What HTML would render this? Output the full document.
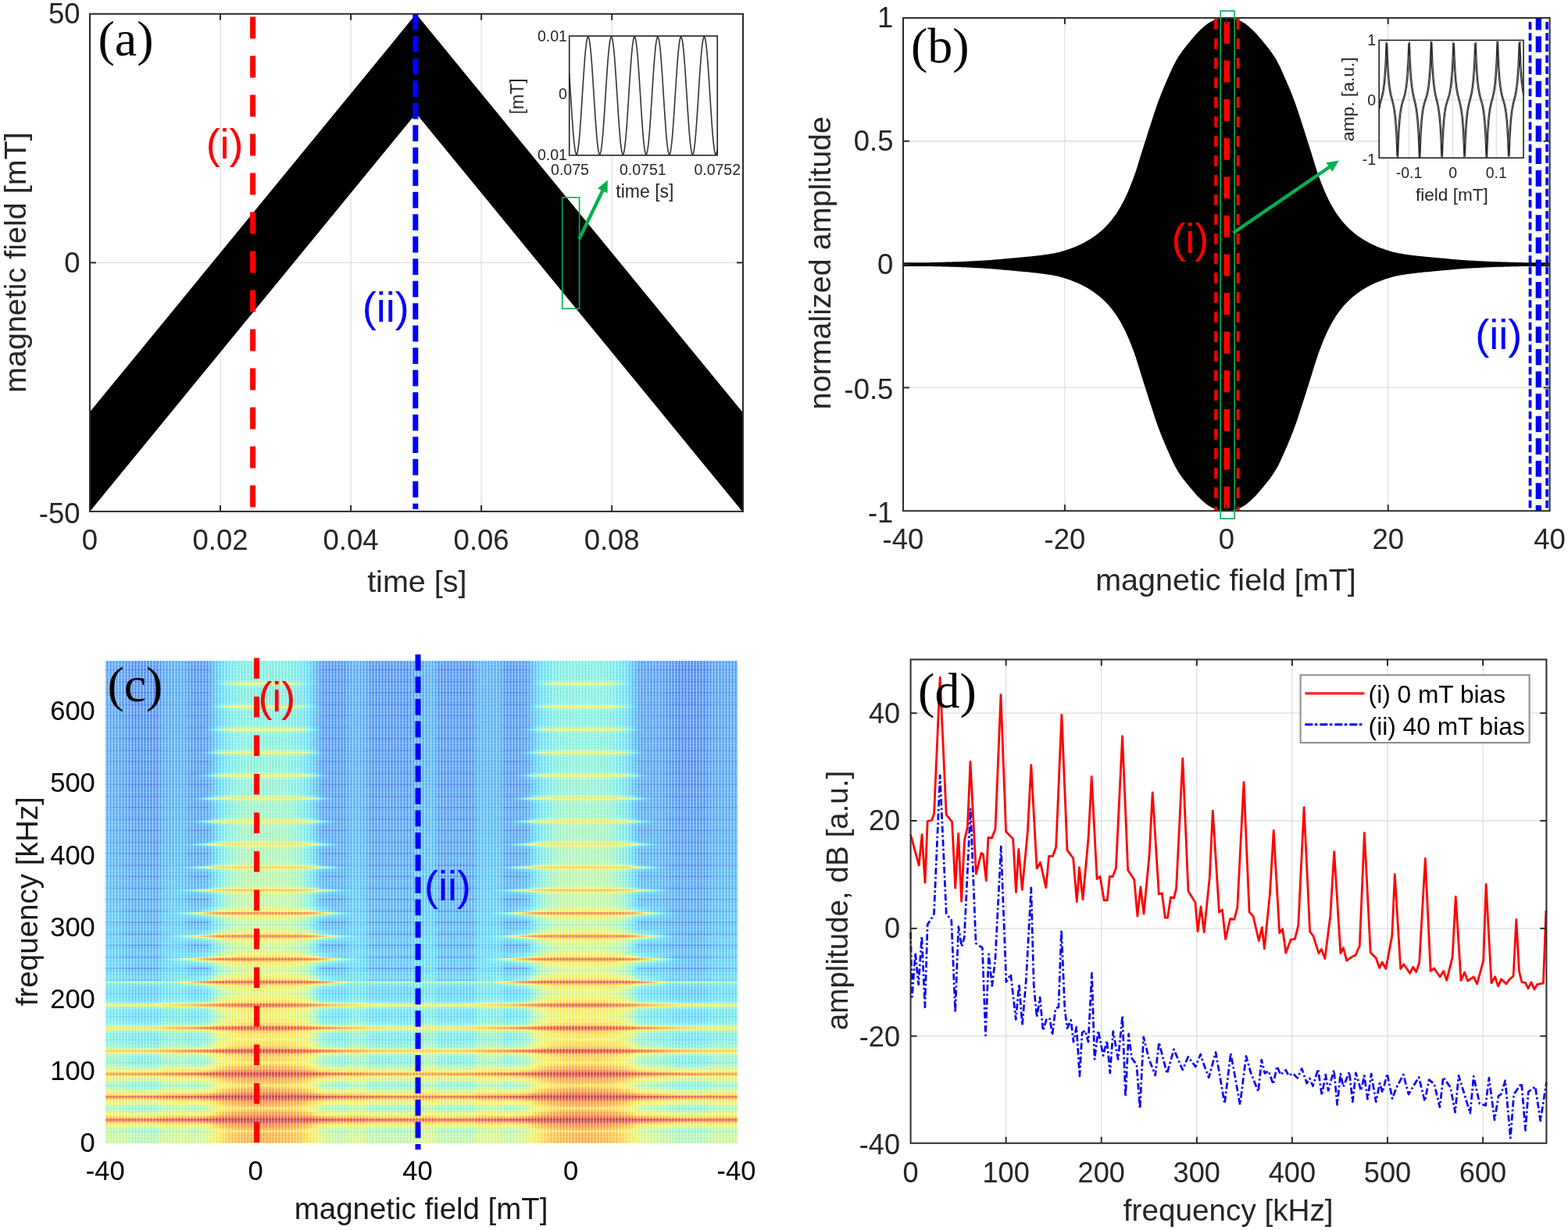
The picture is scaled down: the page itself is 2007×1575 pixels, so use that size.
<!DOCTYPE html>
<html><head><meta charset="utf-8"><title>Figure</title>
<style>html,body{margin:0;padding:0;background:#fff;}body{width:2007px;height:1575px;overflow:hidden;}svg{display:block;}</style>
</head><body>
<svg xmlns="http://www.w3.org/2000/svg" width="2007" height="1575" viewBox="0 0 2007 1575">
<rect x="0" y="0" width="2007" height="1575" fill="#fff"/>
<line x1="282.04" y1="17.8" x2="282.04" y2="654.9" stroke="#dfdfdf" stroke-width="1.3"/>
<line x1="449.08" y1="17.8" x2="449.08" y2="654.9" stroke="#dfdfdf" stroke-width="1.3"/>
<line x1="616.12" y1="17.8" x2="616.12" y2="654.9" stroke="#dfdfdf" stroke-width="1.3"/>
<line x1="783.16" y1="17.8" x2="783.16" y2="654.9" stroke="#dfdfdf" stroke-width="1.3"/>
<line x1="115" y1="336.35" x2="951" y2="336.35" stroke="#dfdfdf" stroke-width="1.3"/>
<path d="M115 527.48 L532.6 17.8 L950.2 527.48 L950.2 654.9 L532.6 145.22 L115 654.9Z" fill="#000"/>
<line x1="323.6" y1="21.4" x2="323.6" y2="650" stroke="#ff0000" stroke-width="7" stroke-dasharray="28 22"/>
<line x1="531.8" y1="17.8" x2="531.8" y2="652" stroke="#0000ff" stroke-width="7" stroke-dasharray="20.7 7.8"/>
<line x1="282.04" y1="654.9" x2="282.04" y2="646.9" stroke="#2b2b2b" stroke-width="2"/>
<line x1="282.04" y1="17.8" x2="282.04" y2="25.8" stroke="#2b2b2b" stroke-width="2"/>
<line x1="449.08" y1="654.9" x2="449.08" y2="646.9" stroke="#2b2b2b" stroke-width="2"/>
<line x1="449.08" y1="17.8" x2="449.08" y2="25.8" stroke="#2b2b2b" stroke-width="2"/>
<line x1="616.12" y1="654.9" x2="616.12" y2="646.9" stroke="#2b2b2b" stroke-width="2"/>
<line x1="616.12" y1="17.8" x2="616.12" y2="25.8" stroke="#2b2b2b" stroke-width="2"/>
<line x1="783.16" y1="654.9" x2="783.16" y2="646.9" stroke="#2b2b2b" stroke-width="2"/>
<line x1="783.16" y1="17.8" x2="783.16" y2="25.8" stroke="#2b2b2b" stroke-width="2"/>
<line x1="115" y1="336.35" x2="123" y2="336.35" stroke="#2b2b2b" stroke-width="2"/>
<line x1="951" y1="336.35" x2="943" y2="336.35" stroke="#2b2b2b" stroke-width="2"/>
<rect x="115" y="17.8" width="836" height="637.1" fill="none" stroke="#2b2b2b" stroke-width="2"/>
<text x="104.85" y="703.7" font-family="'Liberation Sans', Arial, sans-serif" font-size="36.5" fill="#262626">0</text>
<text x="246.52" y="703.7" font-family="'Liberation Sans', Arial, sans-serif" font-size="36.5" fill="#262626">0.02</text>
<text x="413.56" y="703.7" font-family="'Liberation Sans', Arial, sans-serif" font-size="36.5" fill="#262626">0.04</text>
<text x="580.6" y="703.7" font-family="'Liberation Sans', Arial, sans-serif" font-size="36.5" fill="#262626">0.06</text>
<text x="747.64" y="703.7" font-family="'Liberation Sans', Arial, sans-serif" font-size="36.5" fill="#262626">0.08</text>
<text x="62.03" y="30.36" font-family="'Liberation Sans', Arial, sans-serif" font-size="36.5" fill="#262626">50</text>
<text x="82.33" y="348.91" font-family="'Liberation Sans', Arial, sans-serif" font-size="36.5" fill="#262626">0</text>
<text x="49.87" y="669.96" font-family="'Liberation Sans', Arial, sans-serif" font-size="36.5" fill="#262626">-50</text>
<text x="470.14" y="758.39" font-family="'Liberation Sans', Arial, sans-serif" font-size="39.5" fill="#262626">time [s]</text>
<text x="33.09" y="502.95" font-family="'Liberation Sans', Arial, sans-serif" font-size="39.5" fill="#262626" transform="rotate(-90 33.09 502.95)">magnetic field [mT]</text>
<text x="125.44" y="71.38" font-family="'Liberation Serif', 'Times New Roman', serif" font-size="64" fill="#000">(a)</text>
<text x="263.65" y="202.99" font-family="'Liberation Sans', Arial, sans-serif" font-size="54" fill="#ff0000">(i)</text>
<text x="463.85" y="412.04" font-family="'Liberation Sans', Arial, sans-serif" font-size="54" fill="#0000ff">(ii)</text>
<rect x="728.7" y="46.1" width="189.5" height="152.7" fill="#fff" stroke="none" stroke-width="1"/>
<path d="M728.7 94.96 L729.17 102.12 L729.65 109.48 L730.12 116.97 L730.6 124.51 L731.07 132.04 L731.55 139.47 L732.02 146.72 L732.5 153.74 L732.97 160.43 L733.45 166.75 L733.92 172.62 L734.4 177.98 L734.87 182.79 L735.35 186.98 L735.82 190.53 L736.3 193.39 L736.77 195.53 L737.25 196.94 L737.72 197.6 L738.2 197.5 L738.67 196.65 L739.15 195.05 L739.62 192.72 L740.1 189.68 L740.57 185.96 L741.05 181.6 L741.52 176.65 L742 171.15 L742.47 165.16 L742.95 158.74 L743.42 151.95 L743.9 144.87 L744.37 137.56 L744.85 130.1 L745.32 122.56 L745.8 115.03 L746.27 107.56 L746.75 100.25 L747.22 93.16 L747.7 86.36 L748.17 79.93 L748.65 73.93 L749.12 68.41 L749.6 63.44 L750.07 59.06 L750.55 55.33 L751.02 52.26 L751.5 49.91 L751.97 48.29 L752.45 47.41 L752.92 47.29 L753.4 47.93 L753.87 49.31 L754.35 51.44 L754.82 54.28 L755.3 57.8 L755.77 61.98 L756.25 66.76 L756.72 72.11 L757.2 77.97 L757.67 84.27 L758.15 90.96 L758.62 97.96 L759.1 105.21 L759.57 112.64 L760.05 120.16 L760.52 127.71 L761 135.2 L761.47 142.56 L761.95 149.73 L762.42 156.61 L762.9 163.16 L763.37 169.29 L763.85 174.95 L764.32 180.09 L764.8 184.64 L765.27 188.56 L765.75 191.82 L766.22 194.38 L766.69 196.22 L767.17 197.31 L767.64 197.65 L768.12 197.24 L768.59 196.06 L769.07 194.15 L769.54 191.51 L770.02 188.18 L770.49 184.19 L770.97 179.57 L771.44 174.38 L771.92 168.67 L772.39 162.49 L772.87 155.91 L773.34 148.99 L773.82 141.8 L774.29 134.42 L774.77 126.92 L775.24 119.37 L775.72 111.85 L776.19 104.44 L776.67 97.21 L777.14 90.24 L777.62 83.59 L778.09 77.33 L778.57 71.53 L779.04 66.24 L779.52 61.51 L779.99 57.4 L780.47 53.95 L780.94 51.18 L781.42 49.13 L781.89 47.82 L782.37 47.27 L782.84 47.47 L783.32 48.42 L783.79 50.12 L784.27 52.55 L784.74 55.69 L785.22 59.49 L785.69 63.93 L786.17 68.96 L786.64 74.53 L787.12 80.58 L787.59 87.06 L788.07 93.89 L788.54 101 L789.02 108.34 L789.49 115.81 L789.97 123.35 L790.44 130.89 L790.92 138.34 L791.39 145.62 L791.87 152.68 L792.34 159.43 L792.82 165.81 L793.29 171.75 L793.77 177.19 L794.24 182.09 L794.72 186.38 L795.19 190.03 L795.67 192.99 L796.14 195.25 L796.62 196.78 L797.09 197.55 L797.57 197.57 L798.04 196.83 L798.52 195.34 L798.99 193.12 L799.47 190.19 L799.94 186.57 L800.42 182.31 L800.89 177.44 L801.37 172.03 L801.84 166.11 L802.32 159.75 L802.79 153.02 L803.27 145.97 L803.74 138.7 L804.22 131.25 L804.69 123.72 L805.16 116.18 L805.64 108.7 L806.11 101.36 L806.59 94.23 L807.06 87.38 L807.54 80.89 L808.01 74.82 L808.49 69.22 L808.96 64.16 L809.44 59.69 L809.91 55.86 L810.39 52.69 L810.86 50.22 L811.34 48.49 L811.81 47.5 L812.29 47.26 L812.76 47.78 L813.24 49.05 L813.71 51.06 L814.19 53.79 L814.66 57.22 L815.14 61.3 L815.61 65.99 L816.09 71.26 L816.56 77.04 L817.04 83.28 L817.51 89.91 L817.99 96.87 L818.46 104.09 L818.94 111.49 L819.41 119 L819.89 126.55 L820.36 134.06 L820.84 141.45 L821.31 148.64 L821.79 155.58 L822.26 162.18 L822.74 168.38 L823.21 174.12 L823.69 179.34 L824.16 183.98 L824.64 188 L825.11 191.37 L825.59 194.04 L826.06 195.99 L826.54 197.2 L827.01 197.65 L827.49 197.35 L827.96 196.29 L828.44 194.49 L828.91 191.96 L829.39 188.74 L829.86 184.84 L830.34 180.32 L830.81 175.22 L831.29 169.58 L831.76 163.47 L832.24 156.94 L832.71 150.07 L833.19 142.92 L833.66 135.56 L834.14 128.07 L834.61 120.53 L835.09 113 L835.56 105.57 L836.04 98.31 L836.51 91.29 L836.99 84.59 L837.46 78.26 L837.94 72.39 L838.41 67.01 L838.89 62.2 L839.36 57.99 L839.84 54.43 L840.31 51.56 L840.79 49.4 L841.26 47.98 L841.74 47.3 L842.21 47.39 L842.68 48.23 L843.16 49.81 L843.63 52.13 L844.11 55.16 L844.58 58.87 L845.06 63.21 L845.53 68.16 L846.01 73.64 L846.48 79.63 L846.96 86.04 L847.43 92.82 L847.91 99.9 L848.38 107.2 L848.86 114.66 L849.33 122.2 L849.81 129.74 L850.28 137.2 L850.76 144.52 L851.23 151.62 L851.71 158.42 L852.18 164.86 L852.66 170.87 L853.13 176.39 L853.61 181.37 L854.08 185.76 L854.56 189.51 L855.03 192.59 L855.51 194.95 L855.98 196.59 L856.46 197.48 L856.93 197.62 L857.41 196.99 L857.88 195.62 L858.36 193.51 L858.83 190.68 L859.31 187.17 L859.78 183 L860.26 178.23 L860.73 172.89 L861.21 167.05 L861.68 160.75 L862.16 154.07 L862.63 147.07 L863.11 139.82 L863.58 132.4 L864.06 124.88 L864.53 117.33 L865.01 109.84 L865.48 102.47 L865.96 95.3 L866.43 88.41 L866.91 81.86 L867.38 75.72 L867.86 70.05 L868.33 64.9 L868.81 60.34 L869.28 56.4 L869.76 53.13 L870.23 50.56 L870.71 48.71 L871.18 47.6 L871.66 47.25 L872.13 47.65 L872.61 48.81 L873.08 50.71 L873.56 53.33 L874.03 56.65 L874.51 60.63 L874.98 65.23 L875.46 70.42 L875.93 76.12 L876.41 82.29 L876.88 88.87 L877.36 95.78 L877.83 102.96 L878.31 110.34 L878.78 117.85 L879.26 125.39 L879.73 132.91 L880.21 140.32 L880.68 147.56 L881.15 154.54 L881.63 161.19 L882.1 167.46 L882.58 173.27 L883.05 178.57 L883.53 183.31 L884 187.43 L884.48 190.9 L884.95 193.68 L885.43 195.74 L885.9 197.06 L886.38 197.63 L886.85 197.44 L887.33 196.5 L887.8 194.81 L888.28 192.4 L888.75 189.28 L889.23 185.48 L889.7 181.05 L890.18 176.03 L890.65 170.48 L891.13 164.43 L891.6 157.97 L892.08 151.14 L892.55 144.03 L893.03 136.7 L893.5 129.23 L893.98 121.68 L894.45 114.15 L894.93 106.7 L895.4 99.41 L895.88 92.35 L896.35 85.59 L896.83 79.21 L897.3 73.26 L897.78 67.8 L898.25 62.9 L898.73 58.59 L899.2 54.93 L899.68 51.95 L900.15 49.68 L900.63 48.15 L901.1 47.36 L901.58 47.32 L902.05 48.05 L902.53 49.52 L903 51.73 L903.48 54.65 L903.95 58.26 L904.43 62.51 L904.9 67.36 L905.38 72.77 L905.85 78.68 L906.33 85.03 L906.8 91.76 L907.28 98.79 L907.75 106.07 L908.23 113.51 L908.7 121.04 L909.18 128.58 L909.65 136.07 L910.13 143.41 L910.6 150.55 L911.08 157.4 L911.55 163.9 L912.03 169.98 L912.5 175.58 L912.98 180.65 L913.45 185.13 L913.93 188.98 L914.4 192.16 L914.88 194.64 L915.35 196.39 L915.83 197.39 L916.3 197.64 L916.78 197.14 L917.25 195.88 L917.73 193.88 L918.2 191.16" fill="none" stroke="#333" stroke-width="1.6"/>
<rect x="728.7" y="46.1" width="189.5" height="152.7" fill="none" stroke="#222" stroke-width="1.6"/>
<text x="687.97" y="53.09" font-family="'Liberation Sans', Arial, sans-serif" font-size="19.5" fill="#262626">0.01</text>
<text x="715.08" y="127.19" font-family="'Liberation Sans', Arial, sans-serif" font-size="19.5" fill="#262626">0</text>
<text x="687.97" y="204.99" font-family="'Liberation Sans', Arial, sans-serif" font-size="19.5" fill="#262626">0.01</text>
<text x="705.1" y="224.12" font-family="'Liberation Sans', Arial, sans-serif" font-size="19.5" fill="#262626">0.075</text>
<text x="792.98" y="224.12" font-family="'Liberation Sans', Arial, sans-serif" font-size="19.5" fill="#262626">0.0751</text>
<text x="888.38" y="224.12" font-family="'Liberation Sans', Arial, sans-serif" font-size="19.5" fill="#262626">0.0752</text>
<text x="788.36" y="252.84" font-family="'Liberation Sans', Arial, sans-serif" font-size="23" fill="#262626">time [s]</text>
<text x="669.84" y="146.3" font-family="'Liberation Sans', Arial, sans-serif" font-size="23" fill="#262626" transform="rotate(-90 669.84 146.3)">[mT]</text>
<rect x="719.7" y="252.8" width="21.9" height="142.4" fill="none" stroke="#00b050" stroke-width="1.6"/>
<line x1="741.2" y1="306.3" x2="771.69" y2="243.4" stroke="#00b050" stroke-width="4.4"/>
<path d="M777.8 230.8 L777.56 247.35 L764.96 241.24Z" fill="#00b050"/>
<line x1="1362.9" y1="22.9" x2="1362.9" y2="654.2" stroke="#dfdfdf" stroke-width="1.3"/>
<line x1="1569.8" y1="22.9" x2="1569.8" y2="654.2" stroke="#dfdfdf" stroke-width="1.3"/>
<line x1="1776.7" y1="22.9" x2="1776.7" y2="654.2" stroke="#dfdfdf" stroke-width="1.3"/>
<line x1="1156" y1="496.38" x2="1983.6" y2="496.38" stroke="#dfdfdf" stroke-width="1.3"/>
<line x1="1156" y1="338.55" x2="1983.6" y2="338.55" stroke="#dfdfdf" stroke-width="1.3"/>
<line x1="1156" y1="180.73" x2="1983.6" y2="180.73" stroke="#dfdfdf" stroke-width="1.3"/>
<path d="M1156 336.15 L1157.29 336.15 L1158.59 336.15 L1159.88 336.15 L1161.17 336.15 L1162.47 336.15 L1163.76 336.15 L1165.05 336.15 L1166.34 336.15 L1167.64 336.15 L1168.93 336.15 L1170.22 336.15 L1171.52 336.15 L1172.81 336.15 L1174.1 336.15 L1175.4 336.15 L1176.69 336.15 L1177.98 336.15 L1179.28 336.15 L1180.57 336.15 L1181.86 336.15 L1183.16 336.15 L1184.45 336.15 L1185.74 336.15 L1187.03 336.15 L1188.33 336.15 L1189.62 336.13 L1190.91 336.1 L1192.21 336.07 L1193.5 336.04 L1194.79 336.01 L1196.09 335.97 L1197.38 335.94 L1198.67 335.91 L1199.97 335.88 L1201.26 335.84 L1202.55 335.81 L1203.85 335.78 L1205.14 335.74 L1206.43 335.71 L1207.72 335.68 L1209.02 335.64 L1210.31 335.61 L1211.6 335.57 L1212.9 335.54 L1214.19 335.5 L1215.48 335.46 L1216.78 335.43 L1218.07 335.39 L1219.36 335.36 L1220.66 335.32 L1221.95 335.28 L1223.24 335.24 L1224.54 335.19 L1225.83 335.15 L1227.12 335.1 L1228.41 335.05 L1229.71 335 L1231 334.95 L1232.29 334.9 L1233.59 334.84 L1234.88 334.79 L1236.17 334.73 L1237.47 334.67 L1238.76 334.61 L1240.05 334.55 L1241.35 334.49 L1242.64 334.42 L1243.93 334.36 L1245.23 334.29 L1246.52 334.22 L1247.81 334.16 L1249.11 334.09 L1250.4 334.02 L1251.69 333.95 L1252.98 333.87 L1254.28 333.8 L1255.57 333.73 L1256.86 333.65 L1258.16 333.58 L1259.45 333.5 L1260.74 333.42 L1262.04 333.34 L1263.33 333.25 L1264.62 333.17 L1265.92 333.08 L1267.21 332.98 L1268.5 332.89 L1269.8 332.79 L1271.09 332.69 L1272.38 332.58 L1273.67 332.48 L1274.97 332.37 L1276.26 332.26 L1277.55 332.15 L1278.85 332.04 L1280.14 331.93 L1281.43 331.81 L1282.73 331.7 L1284.02 331.58 L1285.31 331.46 L1286.61 331.34 L1287.9 331.22 L1289.19 331.1 L1290.48 330.98 L1291.78 330.86 L1293.07 330.74 L1294.36 330.62 L1295.66 330.5 L1296.95 330.38 L1298.24 330.26 L1299.54 330.15 L1300.83 330.03 L1302.12 329.91 L1303.42 329.79 L1304.71 329.68 L1306 329.56 L1307.3 329.44 L1308.59 329.33 L1309.88 329.21 L1311.17 329.09 L1312.47 328.97 L1313.76 328.85 L1315.05 328.73 L1316.35 328.6 L1317.64 328.48 L1318.93 328.35 L1320.23 328.21 L1321.52 328.08 L1322.81 327.94 L1324.11 327.8 L1325.4 327.65 L1326.69 327.5 L1327.99 327.35 L1329.28 327.2 L1330.57 327.04 L1331.87 326.88 L1333.16 326.72 L1334.45 326.56 L1335.74 326.39 L1337.04 326.21 L1338.33 326.04 L1339.62 325.85 L1340.92 325.66 L1342.21 325.47 L1343.5 325.27 L1344.8 325.05 L1346.09 324.84 L1347.38 324.61 L1348.68 324.38 L1349.97 324.13 L1351.26 323.87 L1352.55 323.6 L1353.85 323.3 L1355.14 322.99 L1356.43 322.66 L1357.73 322.31 L1359.02 321.95 L1360.31 321.58 L1361.61 321.19 L1362.9 320.79 L1364.19 320.37 L1365.49 319.95 L1366.78 319.51 L1368.07 319.07 L1369.37 318.62 L1370.66 318.16 L1371.95 317.69 L1373.24 317.2 L1374.54 316.7 L1375.83 316.17 L1377.12 315.63 L1378.42 315.07 L1379.71 314.5 L1381 313.91 L1382.3 313.3 L1383.59 312.68 L1384.88 312.04 L1386.18 311.38 L1387.47 310.71 L1388.76 310.02 L1390.06 309.31 L1391.35 308.59 L1392.64 307.84 L1393.93 307.07 L1395.23 306.27 L1396.52 305.45 L1397.81 304.6 L1399.11 303.72 L1400.4 302.82 L1401.69 301.89 L1402.99 300.93 L1404.28 299.95 L1405.57 298.93 L1406.87 297.89 L1408.16 296.82 L1409.45 295.72 L1410.75 294.59 L1412.04 293.42 L1413.33 292.2 L1414.62 290.92 L1415.92 289.59 L1417.21 288.21 L1418.5 286.77 L1419.8 285.29 L1421.09 283.75 L1422.38 282.16 L1423.68 280.53 L1424.97 278.84 L1426.26 277.11 L1427.56 275.33 L1428.85 273.46 L1430.14 271.5 L1431.44 269.45 L1432.73 267.32 L1434.02 265.1 L1435.32 262.79 L1436.61 260.41 L1437.9 257.95 L1439.19 255.42 L1440.49 252.79 L1441.78 250.04 L1443.07 247.16 L1444.37 244.17 L1445.66 241.07 L1446.95 237.87 L1448.25 234.58 L1449.54 231.2 L1450.83 227.74 L1452.13 224.2 L1453.42 220.47 L1454.71 216.54 L1456 212.44 L1457.3 208.25 L1458.59 204.02 L1459.88 199.79 L1461.18 195.62 L1462.47 191.54 L1463.76 187.45 L1465.06 183.36 L1466.35 179.27 L1467.64 175.19 L1468.94 171.12 L1470.23 167.08 L1471.52 163.06 L1472.82 159.07 L1474.11 155.04 L1475.4 151.01 L1476.69 147.01 L1477.99 143.05 L1479.28 139.18 L1480.57 135.42 L1481.87 131.8 L1483.16 128.3 L1484.45 124.89 L1485.75 121.55 L1487.04 118.29 L1488.33 115.11 L1489.63 111.98 L1490.92 108.92 L1492.21 105.92 L1493.51 102.93 L1494.8 99.95 L1496.09 96.98 L1497.38 94.04 L1498.68 91.15 L1499.97 88.32 L1501.26 85.57 L1502.56 82.93 L1503.85 80.39 L1505.14 77.99 L1506.44 75.73 L1507.73 73.61 L1509.02 71.58 L1510.32 69.63 L1511.61 67.76 L1512.9 65.95 L1514.2 64.19 L1515.49 62.49 L1516.78 60.83 L1518.08 59.2 L1519.37 57.6 L1520.66 56.02 L1521.95 54.45 L1523.25 52.89 L1524.54 51.32 L1525.83 49.78 L1527.13 48.25 L1528.42 46.74 L1529.71 45.27 L1531.01 43.83 L1532.3 42.43 L1533.59 41.07 L1534.89 39.77 L1536.18 38.53 L1537.47 37.34 L1538.76 36.16 L1540.06 34.99 L1541.35 33.86 L1542.64 32.76 L1543.94 31.71 L1545.23 30.73 L1546.52 29.82 L1547.82 28.99 L1549.11 28.27 L1550.4 27.6 L1551.7 26.96 L1552.99 26.35 L1554.28 25.78 L1555.58 25.27 L1556.87 24.82 L1558.16 24.45 L1559.45 24.16 L1560.75 23.92 L1562.04 23.69 L1563.33 23.48 L1564.63 23.29 L1565.92 23.13 L1567.21 23.01 L1568.51 22.93 L1569.8 22.9 L1571.09 22.93 L1572.39 23.01 L1573.68 23.13 L1574.97 23.29 L1576.27 23.48 L1577.56 23.69 L1578.85 23.92 L1580.14 24.16 L1581.44 24.45 L1582.73 24.82 L1584.02 25.27 L1585.32 25.78 L1586.61 26.35 L1587.9 26.96 L1589.2 27.6 L1590.49 28.27 L1591.78 28.99 L1593.08 29.82 L1594.37 30.73 L1595.66 31.71 L1596.96 32.76 L1598.25 33.86 L1599.54 34.99 L1600.84 36.16 L1602.13 37.34 L1603.42 38.53 L1604.71 39.77 L1606.01 41.07 L1607.3 42.43 L1608.59 43.83 L1609.89 45.27 L1611.18 46.74 L1612.47 48.25 L1613.77 49.78 L1615.06 51.32 L1616.35 52.89 L1617.65 54.45 L1618.94 56.02 L1620.23 57.6 L1621.52 59.2 L1622.82 60.83 L1624.11 62.49 L1625.4 64.19 L1626.7 65.95 L1627.99 67.76 L1629.28 69.63 L1630.58 71.58 L1631.87 73.61 L1633.16 75.73 L1634.46 77.99 L1635.75 80.39 L1637.04 82.93 L1638.34 85.57 L1639.63 88.32 L1640.92 91.15 L1642.21 94.04 L1643.51 96.98 L1644.8 99.95 L1646.09 102.93 L1647.39 105.92 L1648.68 108.92 L1649.97 111.98 L1651.27 115.11 L1652.56 118.29 L1653.85 121.55 L1655.15 124.89 L1656.44 128.3 L1657.73 131.8 L1659.03 135.42 L1660.32 139.18 L1661.61 143.05 L1662.9 147.01 L1664.2 151.01 L1665.49 155.04 L1666.78 159.07 L1668.08 163.06 L1669.37 167.08 L1670.66 171.12 L1671.96 175.19 L1673.25 179.27 L1674.54 183.36 L1675.84 187.45 L1677.13 191.54 L1678.42 195.62 L1679.72 199.79 L1681.01 204.02 L1682.3 208.25 L1683.6 212.44 L1684.89 216.54 L1686.18 220.47 L1687.47 224.2 L1688.77 227.74 L1690.06 231.2 L1691.35 234.58 L1692.65 237.87 L1693.94 241.07 L1695.23 244.17 L1696.53 247.16 L1697.82 250.04 L1699.11 252.79 L1700.41 255.42 L1701.7 257.95 L1702.99 260.41 L1704.28 262.79 L1705.58 265.1 L1706.87 267.32 L1708.16 269.45 L1709.46 271.5 L1710.75 273.46 L1712.04 275.33 L1713.34 277.11 L1714.63 278.84 L1715.92 280.53 L1717.22 282.16 L1718.51 283.75 L1719.8 285.29 L1721.1 286.77 L1722.39 288.21 L1723.68 289.59 L1724.97 290.92 L1726.27 292.2 L1727.56 293.42 L1728.85 294.59 L1730.15 295.72 L1731.44 296.82 L1732.73 297.89 L1734.03 298.93 L1735.32 299.95 L1736.61 300.93 L1737.91 301.89 L1739.2 302.82 L1740.49 303.72 L1741.79 304.6 L1743.08 305.45 L1744.37 306.27 L1745.66 307.07 L1746.96 307.84 L1748.25 308.59 L1749.54 309.31 L1750.84 310.02 L1752.13 310.71 L1753.42 311.38 L1754.72 312.04 L1756.01 312.68 L1757.3 313.3 L1758.6 313.91 L1759.89 314.5 L1761.18 315.07 L1762.48 315.63 L1763.77 316.17 L1765.06 316.7 L1766.36 317.2 L1767.65 317.69 L1768.94 318.16 L1770.23 318.62 L1771.53 319.07 L1772.82 319.51 L1774.11 319.95 L1775.41 320.37 L1776.7 320.79 L1777.99 321.19 L1779.29 321.58 L1780.58 321.95 L1781.87 322.31 L1783.17 322.66 L1784.46 322.99 L1785.75 323.3 L1787.05 323.6 L1788.34 323.87 L1789.63 324.13 L1790.92 324.38 L1792.22 324.61 L1793.51 324.84 L1794.8 325.05 L1796.1 325.27 L1797.39 325.47 L1798.68 325.66 L1799.98 325.85 L1801.27 326.04 L1802.56 326.21 L1803.86 326.39 L1805.15 326.56 L1806.44 326.72 L1807.73 326.88 L1809.03 327.04 L1810.32 327.2 L1811.61 327.35 L1812.91 327.5 L1814.2 327.65 L1815.49 327.8 L1816.79 327.94 L1818.08 328.08 L1819.37 328.21 L1820.67 328.35 L1821.96 328.48 L1823.25 328.6 L1824.55 328.73 L1825.84 328.85 L1827.13 328.97 L1828.42 329.09 L1829.72 329.21 L1831.01 329.33 L1832.3 329.44 L1833.6 329.56 L1834.89 329.68 L1836.18 329.79 L1837.48 329.91 L1838.77 330.03 L1840.06 330.15 L1841.36 330.26 L1842.65 330.38 L1843.94 330.5 L1845.24 330.62 L1846.53 330.74 L1847.82 330.86 L1849.12 330.98 L1850.41 331.1 L1851.7 331.22 L1852.99 331.34 L1854.29 331.46 L1855.58 331.58 L1856.87 331.7 L1858.17 331.81 L1859.46 331.93 L1860.75 332.04 L1862.05 332.15 L1863.34 332.26 L1864.63 332.37 L1865.93 332.48 L1867.22 332.58 L1868.51 332.69 L1869.8 332.79 L1871.1 332.89 L1872.39 332.98 L1873.68 333.08 L1874.98 333.17 L1876.27 333.25 L1877.56 333.34 L1878.86 333.42 L1880.15 333.5 L1881.44 333.58 L1882.74 333.65 L1884.03 333.73 L1885.32 333.8 L1886.62 333.87 L1887.91 333.95 L1889.2 334.02 L1890.49 334.09 L1891.79 334.16 L1893.08 334.22 L1894.37 334.29 L1895.67 334.36 L1896.96 334.42 L1898.25 334.49 L1899.55 334.55 L1900.84 334.61 L1902.13 334.67 L1903.43 334.73 L1904.72 334.79 L1906.01 334.84 L1907.31 334.9 L1908.6 334.95 L1909.89 335 L1911.18 335.05 L1912.48 335.1 L1913.77 335.15 L1915.06 335.19 L1916.36 335.24 L1917.65 335.28 L1918.94 335.32 L1920.24 335.36 L1921.53 335.39 L1922.82 335.43 L1924.12 335.46 L1925.41 335.5 L1926.7 335.54 L1928 335.57 L1929.29 335.61 L1930.58 335.64 L1931.88 335.68 L1933.17 335.71 L1934.46 335.74 L1935.75 335.78 L1937.05 335.81 L1938.34 335.84 L1939.63 335.88 L1940.93 335.91 L1942.22 335.94 L1943.51 335.97 L1944.81 336.01 L1946.1 336.04 L1947.39 336.07 L1948.69 336.1 L1949.98 336.13 L1951.27 336.15 L1952.57 336.15 L1953.86 336.15 L1955.15 336.15 L1956.44 336.15 L1957.74 336.15 L1959.03 336.15 L1960.32 336.15 L1961.62 336.15 L1962.91 336.15 L1964.2 336.15 L1965.5 336.15 L1966.79 336.15 L1968.08 336.15 L1969.38 336.15 L1970.67 336.15 L1971.96 336.15 L1973.26 336.15 L1974.55 336.15 L1975.84 336.15 L1977.13 336.15 L1978.43 336.15 L1979.72 336.15 L1981.01 336.15 L1982.31 336.15 L1983.6 336.15 L1983.6 340.95 L1982.31 340.95 L1981.01 340.95 L1979.72 340.95 L1978.43 340.95 L1977.13 340.95 L1975.84 340.95 L1974.55 340.95 L1973.26 340.95 L1971.96 340.95 L1970.67 340.95 L1969.38 340.95 L1968.08 340.95 L1966.79 340.95 L1965.5 340.95 L1964.2 340.95 L1962.91 340.95 L1961.62 340.95 L1960.32 340.95 L1959.03 340.95 L1957.74 340.95 L1956.44 340.95 L1955.15 340.95 L1953.86 340.95 L1952.57 340.95 L1951.27 340.95 L1949.98 340.97 L1948.69 341 L1947.39 341.03 L1946.1 341.06 L1944.81 341.09 L1943.51 341.13 L1942.22 341.16 L1940.93 341.19 L1939.63 341.22 L1938.34 341.26 L1937.05 341.29 L1935.75 341.32 L1934.46 341.36 L1933.17 341.39 L1931.88 341.42 L1930.58 341.46 L1929.29 341.49 L1928 341.53 L1926.7 341.56 L1925.41 341.6 L1924.12 341.64 L1922.82 341.67 L1921.53 341.71 L1920.24 341.74 L1918.94 341.78 L1917.65 341.82 L1916.36 341.86 L1915.06 341.91 L1913.77 341.95 L1912.48 342 L1911.18 342.05 L1909.89 342.1 L1908.6 342.15 L1907.31 342.2 L1906.01 342.26 L1904.72 342.31 L1903.43 342.37 L1902.13 342.43 L1900.84 342.49 L1899.55 342.55 L1898.25 342.61 L1896.96 342.68 L1895.67 342.74 L1894.37 342.81 L1893.08 342.88 L1891.79 342.94 L1890.49 343.01 L1889.2 343.08 L1887.91 343.15 L1886.62 343.23 L1885.32 343.3 L1884.03 343.37 L1882.74 343.45 L1881.44 343.52 L1880.15 343.6 L1878.86 343.68 L1877.56 343.76 L1876.27 343.85 L1874.98 343.93 L1873.68 344.02 L1872.39 344.12 L1871.1 344.21 L1869.8 344.31 L1868.51 344.41 L1867.22 344.52 L1865.93 344.62 L1864.63 344.73 L1863.34 344.84 L1862.05 344.95 L1860.75 345.06 L1859.46 345.17 L1858.17 345.29 L1856.87 345.4 L1855.58 345.52 L1854.29 345.64 L1852.99 345.76 L1851.7 345.88 L1850.41 346 L1849.12 346.12 L1847.82 346.24 L1846.53 346.36 L1845.24 346.48 L1843.94 346.6 L1842.65 346.72 L1841.36 346.84 L1840.06 346.95 L1838.77 347.07 L1837.48 347.19 L1836.18 347.31 L1834.89 347.42 L1833.6 347.54 L1832.3 347.66 L1831.01 347.77 L1829.72 347.89 L1828.42 348.01 L1827.13 348.13 L1825.84 348.25 L1824.55 348.37 L1823.25 348.5 L1821.96 348.62 L1820.67 348.75 L1819.37 348.89 L1818.08 349.02 L1816.79 349.16 L1815.49 349.3 L1814.2 349.45 L1812.91 349.6 L1811.61 349.75 L1810.32 349.9 L1809.03 350.06 L1807.73 350.22 L1806.44 350.38 L1805.15 350.54 L1803.86 350.71 L1802.56 350.89 L1801.27 351.06 L1799.98 351.25 L1798.68 351.44 L1797.39 351.63 L1796.1 351.83 L1794.8 352.05 L1793.51 352.26 L1792.22 352.49 L1790.92 352.72 L1789.63 352.97 L1788.34 353.23 L1787.05 353.5 L1785.75 353.8 L1784.46 354.11 L1783.17 354.44 L1781.87 354.79 L1780.58 355.15 L1779.29 355.52 L1777.99 355.91 L1776.7 356.31 L1775.41 356.73 L1774.11 357.15 L1772.82 357.59 L1771.53 358.03 L1770.23 358.48 L1768.94 358.94 L1767.65 359.41 L1766.36 359.9 L1765.06 360.4 L1763.77 360.93 L1762.48 361.47 L1761.18 362.03 L1759.89 362.6 L1758.6 363.19 L1757.3 363.8 L1756.01 364.42 L1754.72 365.06 L1753.42 365.72 L1752.13 366.39 L1750.84 367.08 L1749.54 367.79 L1748.25 368.51 L1746.96 369.26 L1745.66 370.03 L1744.37 370.83 L1743.08 371.65 L1741.79 372.5 L1740.49 373.38 L1739.2 374.28 L1737.91 375.21 L1736.61 376.17 L1735.32 377.15 L1734.03 378.17 L1732.73 379.21 L1731.44 380.28 L1730.15 381.38 L1728.85 382.51 L1727.56 383.68 L1726.27 384.9 L1724.97 386.18 L1723.68 387.51 L1722.39 388.89 L1721.1 390.33 L1719.8 391.81 L1718.51 393.35 L1717.22 394.94 L1715.92 396.57 L1714.63 398.26 L1713.34 399.99 L1712.04 401.77 L1710.75 403.64 L1709.46 405.6 L1708.16 407.65 L1706.87 409.78 L1705.58 412 L1704.28 414.31 L1702.99 416.69 L1701.7 419.15 L1700.41 421.68 L1699.11 424.31 L1697.82 427.06 L1696.53 429.94 L1695.23 432.93 L1693.94 436.03 L1692.65 439.23 L1691.35 442.52 L1690.06 445.9 L1688.77 449.36 L1687.47 452.9 L1686.18 456.63 L1684.89 460.56 L1683.6 464.66 L1682.3 468.85 L1681.01 473.08 L1679.72 477.31 L1678.42 481.48 L1677.13 485.56 L1675.84 489.65 L1674.54 493.74 L1673.25 497.83 L1671.96 501.91 L1670.66 505.98 L1669.37 510.02 L1668.08 514.04 L1666.78 518.03 L1665.49 522.06 L1664.2 526.09 L1662.9 530.09 L1661.61 534.05 L1660.32 537.92 L1659.03 541.68 L1657.73 545.3 L1656.44 548.8 L1655.15 552.21 L1653.85 555.55 L1652.56 558.81 L1651.27 561.99 L1649.97 565.12 L1648.68 568.18 L1647.39 571.18 L1646.09 574.17 L1644.8 577.15 L1643.51 580.12 L1642.21 583.06 L1640.92 585.95 L1639.63 588.78 L1638.34 591.53 L1637.04 594.17 L1635.75 596.71 L1634.46 599.11 L1633.16 601.37 L1631.87 603.49 L1630.58 605.52 L1629.28 607.47 L1627.99 609.34 L1626.7 611.15 L1625.4 612.91 L1624.11 614.61 L1622.82 616.27 L1621.52 617.9 L1620.23 619.5 L1618.94 621.08 L1617.65 622.65 L1616.35 624.21 L1615.06 625.78 L1613.77 627.32 L1612.47 628.85 L1611.18 630.36 L1609.89 631.83 L1608.59 633.27 L1607.3 634.67 L1606.01 636.03 L1604.71 637.33 L1603.42 638.57 L1602.13 639.76 L1600.84 640.94 L1599.54 642.11 L1598.25 643.24 L1596.96 644.34 L1595.66 645.39 L1594.37 646.37 L1593.08 647.28 L1591.78 648.11 L1590.49 648.83 L1589.2 649.5 L1587.9 650.14 L1586.61 650.75 L1585.32 651.32 L1584.02 651.83 L1582.73 652.28 L1581.44 652.65 L1580.14 652.94 L1578.85 653.18 L1577.56 653.41 L1576.27 653.62 L1574.97 653.81 L1573.68 653.97 L1572.39 654.09 L1571.09 654.17 L1569.8 654.2 L1568.51 654.17 L1567.21 654.09 L1565.92 653.97 L1564.63 653.81 L1563.33 653.62 L1562.04 653.41 L1560.75 653.18 L1559.45 652.94 L1558.16 652.65 L1556.87 652.28 L1555.58 651.83 L1554.28 651.32 L1552.99 650.75 L1551.7 650.14 L1550.4 649.5 L1549.11 648.83 L1547.82 648.11 L1546.52 647.28 L1545.23 646.37 L1543.94 645.39 L1542.64 644.34 L1541.35 643.24 L1540.06 642.11 L1538.76 640.94 L1537.47 639.76 L1536.18 638.57 L1534.89 637.33 L1533.59 636.03 L1532.3 634.67 L1531.01 633.27 L1529.71 631.83 L1528.42 630.36 L1527.13 628.85 L1525.83 627.32 L1524.54 625.78 L1523.25 624.21 L1521.95 622.65 L1520.66 621.08 L1519.37 619.5 L1518.08 617.9 L1516.78 616.27 L1515.49 614.61 L1514.2 612.91 L1512.9 611.15 L1511.61 609.34 L1510.32 607.47 L1509.02 605.52 L1507.73 603.49 L1506.44 601.37 L1505.14 599.11 L1503.85 596.71 L1502.56 594.17 L1501.26 591.53 L1499.97 588.78 L1498.68 585.95 L1497.38 583.06 L1496.09 580.12 L1494.8 577.15 L1493.51 574.17 L1492.21 571.18 L1490.92 568.18 L1489.63 565.12 L1488.33 561.99 L1487.04 558.81 L1485.75 555.55 L1484.45 552.21 L1483.16 548.8 L1481.87 545.3 L1480.57 541.68 L1479.28 537.92 L1477.99 534.05 L1476.69 530.09 L1475.4 526.09 L1474.11 522.06 L1472.82 518.03 L1471.52 514.04 L1470.23 510.02 L1468.94 505.98 L1467.64 501.91 L1466.35 497.83 L1465.06 493.74 L1463.76 489.65 L1462.47 485.56 L1461.18 481.48 L1459.88 477.31 L1458.59 473.08 L1457.3 468.85 L1456 464.66 L1454.71 460.56 L1453.42 456.63 L1452.13 452.9 L1450.83 449.36 L1449.54 445.9 L1448.25 442.52 L1446.95 439.23 L1445.66 436.03 L1444.37 432.93 L1443.07 429.94 L1441.78 427.06 L1440.49 424.31 L1439.19 421.68 L1437.9 419.15 L1436.61 416.69 L1435.32 414.31 L1434.02 412 L1432.73 409.78 L1431.44 407.65 L1430.14 405.6 L1428.85 403.64 L1427.56 401.77 L1426.26 399.99 L1424.97 398.26 L1423.68 396.57 L1422.38 394.94 L1421.09 393.35 L1419.8 391.81 L1418.5 390.33 L1417.21 388.89 L1415.92 387.51 L1414.62 386.18 L1413.33 384.9 L1412.04 383.68 L1410.75 382.51 L1409.45 381.38 L1408.16 380.28 L1406.87 379.21 L1405.57 378.17 L1404.28 377.15 L1402.99 376.17 L1401.69 375.21 L1400.4 374.28 L1399.11 373.38 L1397.81 372.5 L1396.52 371.65 L1395.23 370.83 L1393.93 370.03 L1392.64 369.26 L1391.35 368.51 L1390.06 367.79 L1388.76 367.08 L1387.47 366.39 L1386.18 365.72 L1384.88 365.06 L1383.59 364.42 L1382.3 363.8 L1381 363.19 L1379.71 362.6 L1378.42 362.03 L1377.12 361.47 L1375.83 360.93 L1374.54 360.4 L1373.24 359.9 L1371.95 359.41 L1370.66 358.94 L1369.37 358.48 L1368.07 358.03 L1366.78 357.59 L1365.49 357.15 L1364.19 356.73 L1362.9 356.31 L1361.61 355.91 L1360.31 355.52 L1359.02 355.15 L1357.73 354.79 L1356.43 354.44 L1355.14 354.11 L1353.85 353.8 L1352.55 353.5 L1351.26 353.23 L1349.97 352.97 L1348.68 352.72 L1347.38 352.49 L1346.09 352.26 L1344.8 352.05 L1343.5 351.83 L1342.21 351.63 L1340.92 351.44 L1339.62 351.25 L1338.33 351.06 L1337.04 350.89 L1335.74 350.71 L1334.45 350.54 L1333.16 350.38 L1331.87 350.22 L1330.57 350.06 L1329.28 349.9 L1327.99 349.75 L1326.69 349.6 L1325.4 349.45 L1324.11 349.3 L1322.81 349.16 L1321.52 349.02 L1320.23 348.89 L1318.93 348.75 L1317.64 348.62 L1316.35 348.5 L1315.05 348.37 L1313.76 348.25 L1312.47 348.13 L1311.17 348.01 L1309.88 347.89 L1308.59 347.77 L1307.3 347.66 L1306 347.54 L1304.71 347.42 L1303.42 347.31 L1302.12 347.19 L1300.83 347.07 L1299.54 346.95 L1298.24 346.84 L1296.95 346.72 L1295.66 346.6 L1294.36 346.48 L1293.07 346.36 L1291.78 346.24 L1290.48 346.12 L1289.19 346 L1287.9 345.88 L1286.61 345.76 L1285.31 345.64 L1284.02 345.52 L1282.73 345.4 L1281.43 345.29 L1280.14 345.17 L1278.85 345.06 L1277.55 344.95 L1276.26 344.84 L1274.97 344.73 L1273.67 344.62 L1272.38 344.52 L1271.09 344.41 L1269.8 344.31 L1268.5 344.21 L1267.21 344.12 L1265.92 344.02 L1264.62 343.93 L1263.33 343.85 L1262.04 343.76 L1260.74 343.68 L1259.45 343.6 L1258.16 343.52 L1256.86 343.45 L1255.57 343.37 L1254.28 343.3 L1252.98 343.23 L1251.69 343.15 L1250.4 343.08 L1249.11 343.01 L1247.81 342.94 L1246.52 342.88 L1245.23 342.81 L1243.93 342.74 L1242.64 342.68 L1241.35 342.61 L1240.05 342.55 L1238.76 342.49 L1237.47 342.43 L1236.17 342.37 L1234.88 342.31 L1233.59 342.26 L1232.29 342.2 L1231 342.15 L1229.71 342.1 L1228.41 342.05 L1227.12 342 L1225.83 341.95 L1224.54 341.91 L1223.24 341.86 L1221.95 341.82 L1220.66 341.78 L1219.36 341.74 L1218.07 341.71 L1216.78 341.67 L1215.48 341.64 L1214.19 341.6 L1212.9 341.56 L1211.6 341.53 L1210.31 341.49 L1209.02 341.46 L1207.72 341.42 L1206.43 341.39 L1205.14 341.36 L1203.85 341.32 L1202.55 341.29 L1201.26 341.26 L1199.97 341.22 L1198.67 341.19 L1197.38 341.16 L1196.09 341.13 L1194.79 341.09 L1193.5 341.06 L1192.21 341.03 L1190.91 341 L1189.62 340.97 L1188.33 340.95 L1187.03 340.95 L1185.74 340.95 L1184.45 340.95 L1183.16 340.95 L1181.86 340.95 L1180.57 340.95 L1179.28 340.95 L1177.98 340.95 L1176.69 340.95 L1175.4 340.95 L1174.1 340.95 L1172.81 340.95 L1171.52 340.95 L1170.22 340.95 L1168.93 340.95 L1167.64 340.95 L1166.34 340.95 L1165.05 340.95 L1163.76 340.95 L1162.47 340.95 L1161.17 340.95 L1159.88 340.95 L1158.59 340.95 L1157.29 340.95 L1156 340.95Z" fill="#000"/>
<line x1="1556.2" y1="22.9" x2="1556.2" y2="654.2" stroke="#ff0000" stroke-width="4" stroke-dasharray="14.2 10.8" stroke-dashoffset="-1"/>
<line x1="1584.6" y1="22.9" x2="1584.6" y2="654.2" stroke="#ff0000" stroke-width="4" stroke-dasharray="14.2 10.8" stroke-dashoffset="-1"/>
<line x1="1570.2" y1="22.9" x2="1570.2" y2="654.2" stroke="#ff0000" stroke-width="7.5" stroke-dasharray="28 21.6" stroke-dashoffset="-5"/>
<line x1="1958.5" y1="22.9" x2="1958.5" y2="654.2" stroke="#0000ff" stroke-width="3.7" stroke-dasharray="9.9 4.35" stroke-dashoffset="-5"/>
<line x1="1980.1" y1="22.9" x2="1980.1" y2="654.2" stroke="#0000ff" stroke-width="3.7" stroke-dasharray="9.9 4.35" stroke-dashoffset="-5"/>
<line x1="1969.3" y1="22.9" x2="1969.3" y2="654.2" stroke="#0000ff" stroke-width="7.3" stroke-dasharray="20.6 8" stroke-dashoffset="5"/>
<line x1="1362.9" y1="654.2" x2="1362.9" y2="646.2" stroke="#2b2b2b" stroke-width="2"/>
<line x1="1362.9" y1="22.9" x2="1362.9" y2="30.9" stroke="#2b2b2b" stroke-width="2"/>
<line x1="1569.8" y1="654.2" x2="1569.8" y2="646.2" stroke="#2b2b2b" stroke-width="2"/>
<line x1="1569.8" y1="22.9" x2="1569.8" y2="30.9" stroke="#2b2b2b" stroke-width="2"/>
<line x1="1776.7" y1="654.2" x2="1776.7" y2="646.2" stroke="#2b2b2b" stroke-width="2"/>
<line x1="1776.7" y1="22.9" x2="1776.7" y2="30.9" stroke="#2b2b2b" stroke-width="2"/>
<line x1="1156" y1="496.38" x2="1164" y2="496.38" stroke="#2b2b2b" stroke-width="2"/>
<line x1="1983.6" y1="496.38" x2="1975.6" y2="496.38" stroke="#2b2b2b" stroke-width="2"/>
<line x1="1156" y1="338.55" x2="1164" y2="338.55" stroke="#2b2b2b" stroke-width="2"/>
<line x1="1983.6" y1="338.55" x2="1975.6" y2="338.55" stroke="#2b2b2b" stroke-width="2"/>
<line x1="1156" y1="180.73" x2="1164" y2="180.73" stroke="#2b2b2b" stroke-width="2"/>
<line x1="1983.6" y1="180.73" x2="1975.6" y2="180.73" stroke="#2b2b2b" stroke-width="2"/>
<rect x="1156" y="22.9" width="827.6" height="631.3" fill="none" stroke="#2b2b2b" stroke-width="2"/>
<text x="1129.62" y="702.8" font-family="'Liberation Sans', Arial, sans-serif" font-size="36.5" fill="#262626">-40</text>
<text x="1336.52" y="702.8" font-family="'Liberation Sans', Arial, sans-serif" font-size="36.5" fill="#262626">-20</text>
<text x="1559.65" y="702.8" font-family="'Liberation Sans', Arial, sans-serif" font-size="36.5" fill="#262626">0</text>
<text x="1756.4" y="702.8" font-family="'Liberation Sans', Arial, sans-serif" font-size="36.5" fill="#262626">20</text>
<text x="1963.3" y="702.8" font-family="'Liberation Sans', Arial, sans-serif" font-size="36.5" fill="#262626">40</text>
<text x="1123.12" y="35.46" font-family="'Liberation Sans', Arial, sans-serif" font-size="36.5" fill="#262626">1</text>
<text x="1092.69" y="193.29" font-family="'Liberation Sans', Arial, sans-serif" font-size="36.5" fill="#262626">0.5</text>
<text x="1123.12" y="351.11" font-family="'Liberation Sans', Arial, sans-serif" font-size="36.5" fill="#262626">0</text>
<text x="1080.53" y="510.94" font-family="'Liberation Sans', Arial, sans-serif" font-size="36.5" fill="#262626">-0.5</text>
<text x="1110.97" y="668.76" font-family="'Liberation Sans', Arial, sans-serif" font-size="36.5" fill="#262626">-1</text>
<text x="1402.15" y="756.39" font-family="'Liberation Sans', Arial, sans-serif" font-size="39.5" fill="#262626">magnetic field [mT]</text>
<text x="1063.14" y="524.39" font-family="'Liberation Sans', Arial, sans-serif" font-size="39.5" fill="#262626" transform="rotate(-90 1063.14 524.39)">normalized amplitude</text>
<text x="1166.03" y="79.92" font-family="'Liberation Serif', 'Times New Roman', serif" font-size="64" fill="#000">(b)</text>
<text x="1499.4" y="324.09" font-family="'Liberation Sans', Arial, sans-serif" font-size="54" fill="#ff0000">(i)</text>
<text x="1888.25" y="447.04" font-family="'Liberation Sans', Arial, sans-serif" font-size="54" fill="#0000ff">(ii)</text>
<rect x="1765.2" y="51.5" width="184.8" height="150.7" fill="#fff" stroke="none" stroke-width="1"/>
<line x1="1803.5" y1="51.5" x2="1803.5" y2="202.2" stroke="#dfdfdf" stroke-width="1.2"/>
<line x1="1859.6" y1="51.5" x2="1859.6" y2="202.2" stroke="#dfdfdf" stroke-width="1.2"/>
<line x1="1915.3" y1="51.5" x2="1915.3" y2="202.2" stroke="#dfdfdf" stroke-width="1.2"/>
<line x1="1765.2" y1="127.8" x2="1950" y2="127.8" stroke="#dfdfdf" stroke-width="1.2"/>
<path d="M1765.2 135.21 L1765.41 134.28 L1765.61 133.4 L1765.82 132.56 L1766.02 131.75 L1766.23 130.97 L1766.43 130.2 L1766.64 129.46 L1766.84 128.72 L1767.05 127.99 L1767.26 127.27 L1767.46 126.54 L1767.67 125.8 L1767.87 125.04 L1768.08 124.27 L1768.28 123.47 L1768.49 122.65 L1768.69 121.79 L1768.9 120.89 L1769.11 119.94 L1769.31 118.94 L1769.52 117.88 L1769.72 116.75 L1769.93 115.55 L1770.13 114.27 L1770.34 112.89 L1770.54 111.41 L1770.75 109.82 L1770.96 108.11 L1771.16 106.27 L1771.37 104.28 L1771.57 102.13 L1771.78 99.81 L1771.98 97.3 L1772.19 94.58 L1772.39 91.64 L1772.6 88.46 L1772.81 85 L1773.01 81.26 L1773.22 77.21 L1773.42 72.81 L1773.63 68.04 L1773.83 62.86 L1774.04 57.25 L1774.24 53.87 L1774.45 59.75 L1774.66 65.18 L1774.86 70.18 L1775.07 74.79 L1775.27 79.04 L1775.48 82.96 L1775.68 86.58 L1775.89 89.92 L1776.09 93.01 L1776.3 95.85 L1776.51 98.49 L1776.71 100.92 L1776.92 103.17 L1777.12 105.26 L1777.33 107.19 L1777.53 108.99 L1777.74 110.65 L1777.94 112.2 L1778.15 113.65 L1778.36 115 L1778.56 116.26 L1778.77 117.45 L1778.97 118.56 L1779.18 119.62 L1779.38 120.61 L1779.59 121.56 L1779.79 122.47 L1780 123.34 L1780.21 124.18 L1780.41 124.99 L1780.62 125.79 L1780.82 126.57 L1781.03 127.35 L1781.23 128.12 L1781.44 128.89 L1781.64 129.67 L1781.85 130.47 L1782.06 131.28 L1782.26 132.11 L1782.47 132.98 L1782.67 133.88 L1782.88 134.82 L1783.08 135.81 L1783.29 136.85 L1783.49 137.95 L1783.7 139.12 L1783.91 140.37 L1784.11 141.71 L1784.32 143.13 L1784.52 144.67 L1784.73 146.31 L1784.93 148.08 L1785.14 149.99 L1785.35 152.05 L1785.55 154.27 L1785.76 156.67 L1785.96 159.27 L1786.17 162.08 L1786.37 165.12 L1786.58 168.41 L1786.78 171.98 L1786.99 175.85 L1787.2 180.04 L1787.4 184.59 L1787.61 189.52 L1787.81 194.86 L1788.02 200.67 L1788.22 199.5 L1788.43 193.81 L1788.63 188.56 L1788.84 183.72 L1789.05 179.26 L1789.25 175.15 L1789.46 171.36 L1789.66 167.86 L1789.87 164.64 L1790.07 161.66 L1790.28 158.92 L1790.48 156.38 L1790.69 154.04 L1790.9 151.87 L1791.1 149.87 L1791.31 148.02 L1791.51 146.3 L1791.72 144.71 L1791.92 143.23 L1792.13 141.86 L1792.33 140.58 L1792.54 139.39 L1792.75 138.28 L1792.95 137.24 L1793.16 136.26 L1793.36 135.34 L1793.57 134.47 L1793.77 133.65 L1793.98 132.86 L1794.18 132.11 L1794.39 131.39 L1794.6 130.7 L1794.8 130.02 L1795.01 129.36 L1795.21 128.71 L1795.42 128.06 L1795.62 127.42 L1795.83 126.77 L1796.03 126.12 L1796.24 125.45 L1796.45 124.77 L1796.65 124.07 L1796.86 123.35 L1797.06 122.59 L1797.27 121.8 L1797.47 120.97 L1797.68 120.09 L1797.88 119.16 L1798.09 118.17 L1798.3 117.11 L1798.5 115.99 L1798.71 114.78 L1798.91 113.49 L1799.12 112.09 L1799.32 110.6 L1799.53 108.98 L1799.73 107.24 L1799.94 105.36 L1800.15 103.33 L1800.35 101.13 L1800.56 98.75 L1800.76 96.18 L1800.97 93.39 L1801.17 90.37 L1801.38 87.09 L1801.58 83.54 L1801.79 79.69 L1802 75.52 L1802.2 70.99 L1802.41 66.08 L1802.61 60.75 L1802.82 54.96 L1803.02 56.17 L1803.23 61.89 L1803.43 67.15 L1803.64 72.01 L1803.85 76.49 L1804.05 80.62 L1804.26 84.44 L1804.46 87.96 L1804.67 91.21 L1804.87 94.21 L1805.08 96.98 L1805.28 99.55 L1805.49 101.93 L1805.7 104.13 L1805.9 106.17 L1806.11 108.06 L1806.31 109.82 L1806.52 111.46 L1806.72 112.99 L1806.93 114.42 L1807.13 115.76 L1807.34 117.01 L1807.55 118.2 L1807.75 119.32 L1807.96 120.38 L1808.16 121.39 L1808.37 122.36 L1808.57 123.29 L1808.78 124.19 L1808.98 125.06 L1809.19 125.92 L1809.4 126.77 L1809.6 127.6 L1809.81 128.44 L1810.01 129.28 L1810.22 130.13 L1810.42 131 L1810.63 131.89 L1810.83 132.8 L1811.04 133.75 L1811.25 134.74 L1811.45 135.78 L1811.66 136.87 L1811.86 138.02 L1812.07 139.24 L1812.27 140.54 L1812.48 141.92 L1812.68 143.4 L1812.89 144.99 L1813.1 146.69 L1813.3 148.52 L1813.51 150.49 L1813.71 152.62 L1813.92 154.91 L1814.12 157.38 L1814.33 160.06 L1814.53 162.95 L1814.74 166.08 L1814.95 169.47 L1815.15 173.14 L1815.36 177.12 L1815.56 181.43 L1815.77 186.11 L1815.97 191.18 L1816.18 196.68 L1816.38 202.64 L1816.59 197.55 L1816.8 192.01 L1817 186.91 L1817.21 182.2 L1817.41 177.86 L1817.62 173.87 L1817.82 170.18 L1818.03 166.78 L1818.23 163.64 L1818.44 160.75 L1818.65 158.08 L1818.85 155.61 L1819.06 153.34 L1819.26 151.23 L1819.47 149.29 L1819.67 147.48 L1819.88 145.82 L1820.08 144.27 L1820.29 142.84 L1820.5 141.5 L1820.7 140.26 L1820.91 139.11 L1821.11 138.03 L1821.32 137.02 L1821.52 136.07 L1821.73 135.18 L1821.94 134.34 L1822.14 133.54 L1822.35 132.78 L1822.55 132.05 L1822.76 131.36 L1822.96 130.68 L1823.17 130.03 L1823.37 129.39 L1823.58 128.77 L1823.79 128.15 L1823.99 127.53 L1824.2 126.91 L1824.4 126.28 L1824.61 125.64 L1824.81 124.99 L1825.02 124.32 L1825.22 123.63 L1825.43 122.91 L1825.64 122.15 L1825.84 121.36 L1826.05 120.52 L1826.25 119.64 L1826.46 118.7 L1826.66 117.7 L1826.87 116.62 L1827.07 115.48 L1827.28 114.25 L1827.49 112.93 L1827.69 111.5 L1827.9 109.97 L1828.1 108.32 L1828.31 106.53 L1828.51 104.61 L1828.72 102.52 L1828.92 100.26 L1829.13 97.82 L1829.34 95.18 L1829.54 92.31 L1829.75 89.2 L1829.95 85.84 L1830.16 82.18 L1830.36 78.22 L1830.57 73.93 L1830.77 69.27 L1830.98 64.21 L1831.19 58.73 L1831.39 52.78 L1831.6 58.24 L1831.8 63.8 L1832.01 68.91 L1832.21 73.63 L1832.42 77.99 L1832.62 82 L1832.83 85.71 L1833.04 89.13 L1833.24 92.29 L1833.45 95.21 L1833.65 97.91 L1833.86 100.41 L1834.06 102.72 L1834.27 104.87 L1834.47 106.85 L1834.68 108.7 L1834.89 110.42 L1835.09 112.01 L1835.3 113.51 L1835.5 114.9 L1835.71 116.21 L1835.91 117.44 L1836.12 118.6 L1836.32 119.7 L1836.53 120.74 L1836.74 121.74 L1836.94 122.69 L1837.15 123.61 L1837.35 124.5 L1837.56 125.37 L1837.76 126.22 L1837.97 127.06 L1838.17 127.9 L1838.38 128.74 L1838.59 129.58 L1838.79 130.44 L1839 131.31 L1839.2 132.21 L1839.41 133.13 L1839.61 134.1 L1839.82 135.1 L1840.02 136.16 L1840.23 137.27 L1840.44 138.45 L1840.64 139.69 L1840.85 141.02 L1841.05 142.44 L1841.26 143.96 L1841.46 145.58 L1841.67 147.33 L1841.87 149.21 L1842.08 151.23 L1842.29 153.41 L1842.49 155.77 L1842.7 158.31 L1842.9 161.06 L1843.11 164.04 L1843.31 167.26 L1843.52 170.74 L1843.72 174.52 L1843.93 178.62 L1844.14 183.05 L1844.34 187.86 L1844.55 193.08 L1844.75 198.74 L1844.96 201.37 L1845.16 195.53 L1845.37 190.15 L1845.57 185.19 L1845.78 180.62 L1845.99 176.4 L1846.19 172.52 L1846.4 168.94 L1846.6 165.64 L1846.81 162.59 L1847.01 159.78 L1847.22 157.18 L1847.42 154.78 L1847.63 152.57 L1847.84 150.52 L1848.04 148.63 L1848.25 146.88 L1848.45 145.25 L1848.66 143.75 L1848.86 142.35 L1849.07 141.05 L1849.27 139.84 L1849.48 138.71 L1849.69 137.66 L1849.89 136.67 L1850.1 135.74 L1850.3 134.87 L1850.51 134.05 L1850.71 133.26 L1850.92 132.52 L1851.12 131.8 L1851.33 131.11 L1851.54 130.45 L1851.74 129.8 L1851.95 129.17 L1852.15 128.54 L1852.36 127.92 L1852.56 127.3 L1852.77 126.68 L1852.97 126.05 L1853.18 125.41 L1853.39 124.75 L1853.59 124.08 L1853.8 123.37 L1854 122.64 L1854.21 121.87 L1854.41 121.06 L1854.62 120.21 L1854.82 119.3 L1855.03 118.34 L1855.24 117.31 L1855.44 116.22 L1855.65 115.04 L1855.85 113.78 L1856.06 112.42 L1856.26 110.96 L1856.47 109.38 L1856.67 107.68 L1856.88 105.85 L1857.09 103.86 L1857.29 101.72 L1857.5 99.39 L1857.7 96.88 L1857.91 94.16 L1858.11 91.2 L1858.32 88 L1858.53 84.54 L1858.73 80.77 L1858.94 76.7 L1859.14 72.27 L1859.35 67.47 L1859.55 62.26 L1859.76 56.61 L1859.96 54.36 L1860.17 60.2 L1860.38 65.59 L1860.58 70.55 L1860.79 75.13 L1860.99 79.36 L1861.2 83.25 L1861.4 86.84 L1861.61 90.16 L1861.81 93.22 L1862.02 96.05 L1862.23 98.66 L1862.43 101.08 L1862.64 103.32 L1862.84 105.39 L1863.05 107.31 L1863.25 109.08 L1863.46 110.74 L1863.66 112.28 L1863.87 113.71 L1864.08 115.05 L1864.28 116.3 L1864.49 117.47 L1864.69 118.57 L1864.9 119.61 L1865.1 120.6 L1865.31 121.54 L1865.51 122.43 L1865.72 123.29 L1865.93 124.12 L1866.13 124.92 L1866.34 125.7 L1866.54 126.47 L1866.75 127.23 L1866.95 127.99 L1867.16 128.75 L1867.36 129.51 L1867.57 130.29 L1867.78 131.08 L1867.98 131.89 L1868.19 132.73 L1868.39 133.61 L1868.6 134.53 L1868.8 135.49 L1869.01 136.5 L1869.21 137.57 L1869.42 138.71 L1869.63 139.92 L1869.83 141.21 L1870.04 142.59 L1870.24 144.08 L1870.45 145.67 L1870.65 147.39 L1870.86 149.23 L1871.06 151.23 L1871.27 153.38 L1871.48 155.7 L1871.68 158.21 L1871.89 160.93 L1872.09 163.88 L1872.3 167.06 L1872.5 170.51 L1872.71 174.26 L1872.91 178.31 L1873.12 182.71 L1873.33 187.48 L1873.53 192.65 L1873.74 198.26 L1873.94 201.79 L1874.15 195.9 L1874.35 190.47 L1874.56 185.47 L1874.76 180.85 L1874.97 176.6 L1875.18 172.67 L1875.38 169.05 L1875.59 165.71 L1875.79 162.62 L1876 159.77 L1876.2 157.14 L1876.41 154.7 L1876.61 152.45 L1876.82 150.36 L1877.03 148.42 L1877.23 146.63 L1877.44 144.96 L1877.64 143.41 L1877.85 141.96 L1878.05 140.61 L1878.26 139.35 L1878.46 138.16 L1878.67 137.05 L1878.88 136 L1879.08 135 L1879.29 134.05 L1879.49 133.14 L1879.7 132.27 L1879.9 131.43 L1880.11 130.62 L1880.31 129.82 L1880.52 129.04 L1880.73 128.26 L1880.93 127.49 L1881.14 126.72 L1881.34 125.94 L1881.55 125.15 L1881.75 124.34 L1881.96 123.5 L1882.16 122.64 L1882.37 121.74 L1882.58 120.8 L1882.78 119.81 L1882.99 118.77 L1883.19 117.67 L1883.4 116.5 L1883.6 115.25 L1883.81 113.92 L1884.01 112.49 L1884.22 110.96 L1884.43 109.32 L1884.63 107.55 L1884.84 105.65 L1885.04 103.59 L1885.25 101.37 L1885.45 98.98 L1885.66 96.38 L1885.86 93.58 L1886.07 90.54 L1886.28 87.25 L1886.48 83.69 L1886.69 79.83 L1886.89 75.64 L1887.1 71.11 L1887.3 66.18 L1887.51 60.84 L1887.71 55.05 L1887.92 56.07 L1888.13 61.78 L1888.33 67.04 L1888.54 71.88 L1888.74 76.35 L1888.95 80.47 L1889.15 84.27 L1889.36 87.78 L1889.56 91.01 L1889.77 94 L1889.98 96.76 L1890.18 99.3 L1890.39 101.66 L1890.59 103.84 L1890.8 105.85 L1891 107.72 L1891.21 109.45 L1891.41 111.06 L1891.62 112.56 L1891.83 113.95 L1892.03 115.24 L1892.24 116.46 L1892.44 117.59 L1892.65 118.66 L1892.85 119.67 L1893.06 120.62 L1893.26 121.52 L1893.47 122.38 L1893.68 123.2 L1893.88 123.99 L1894.09 124.75 L1894.29 125.5 L1894.5 126.23 L1894.7 126.95 L1894.91 127.66 L1895.12 128.37 L1895.32 129.09 L1895.53 129.81 L1895.73 130.55 L1895.94 131.31 L1896.14 132.09 L1896.35 132.9 L1896.55 133.74 L1896.76 134.62 L1896.97 135.56 L1897.17 136.54 L1897.38 137.58 L1897.58 138.69 L1897.79 139.87 L1897.99 141.13 L1898.2 142.49 L1898.4 143.94 L1898.61 145.5 L1898.82 147.18 L1899.02 149 L1899.23 150.95 L1899.43 153.06 L1899.64 155.35 L1899.84 157.82 L1900.05 160.49 L1900.25 163.39 L1900.46 166.52 L1900.67 169.92 L1900.87 173.6 L1901.08 177.59 L1901.28 181.92 L1901.49 186.61 L1901.69 191.71 L1901.9 197.23 L1902.1 202.98 L1902.31 197 L1902.52 191.48 L1902.72 186.4 L1902.93 181.72 L1903.13 177.4 L1903.34 173.41 L1903.54 169.74 L1903.75 166.35 L1903.95 163.21 L1904.16 160.32 L1904.37 157.65 L1904.57 155.18 L1904.78 152.89 L1904.98 150.78 L1905.19 148.82 L1905.39 147 L1905.6 145.31 L1905.8 143.75 L1906.01 142.28 L1906.22 140.92 L1906.42 139.65 L1906.63 138.45 L1906.83 137.33 L1907.04 136.27 L1907.24 135.27 L1907.45 134.32 L1907.65 133.42 L1907.86 132.55 L1908.07 131.71 L1908.27 130.9 L1908.48 130.12 L1908.68 129.34 L1908.89 128.58 L1909.09 127.82 L1909.3 127.07 L1909.5 126.31 L1909.71 125.53 L1909.92 124.75 L1910.12 123.94 L1910.33 123.1 L1910.53 122.24 L1910.74 121.34 L1910.94 120.39 L1911.15 119.39 L1911.35 118.34 L1911.56 117.22 L1911.77 116.03 L1911.97 114.76 L1912.18 113.4 L1912.38 111.95 L1912.59 110.39 L1912.79 108.71 L1913 106.9 L1913.2 104.95 L1913.41 102.84 L1913.62 100.57 L1913.82 98.11 L1914.03 95.45 L1914.23 92.58 L1914.44 89.46 L1914.64 86.08 L1914.85 82.43 L1915.05 78.46 L1915.26 74.16 L1915.47 69.5 L1915.67 64.45 L1915.88 58.96 L1916.08 53.01 L1916.29 57.97 L1916.49 63.52 L1916.7 68.64 L1916.9 73.36 L1917.11 77.7 L1917.32 81.72 L1917.52 85.41 L1917.73 88.83 L1917.93 91.98 L1918.14 94.88 L1918.34 97.56 L1918.55 100.04 L1918.75 102.33 L1918.96 104.45 L1919.17 106.41 L1919.37 108.23 L1919.58 109.92 L1919.78 111.48 L1919.99 112.93 L1920.19 114.28 L1920.4 115.54 L1920.6 116.72 L1920.81 117.82 L1921.02 118.86 L1921.22 119.83 L1921.43 120.75 L1921.63 121.63 L1921.84 122.46 L1922.04 123.25 L1922.25 124.02 L1922.45 124.76 L1922.66 125.48 L1922.87 126.18 L1923.07 126.87 L1923.28 127.56 L1923.48 128.24 L1923.69 128.93 L1923.89 129.62 L1924.1 130.33 L1924.3 131.05 L1924.51 131.8 L1924.72 132.57 L1924.92 133.37 L1925.13 134.22 L1925.33 135.1 L1925.54 136.04 L1925.74 137.03 L1925.95 138.08 L1926.15 139.21 L1926.36 140.41 L1926.57 141.69 L1926.77 143.07 L1926.98 144.55 L1927.18 146.15 L1927.39 147.87 L1927.59 149.73 L1927.8 151.73 L1928 153.9 L1928.21 156.24 L1928.42 158.78 L1928.62 161.52 L1928.83 164.49 L1929.03 167.71 L1929.24 171.2 L1929.44 174.99 L1929.65 179.09 L1929.85 183.54 L1930.06 188.37 L1930.27 193.61 L1930.47 199.29 L1930.68 200.78 L1930.88 194.96 L1931.09 189.6 L1931.29 184.66 L1931.5 180.1 L1931.71 175.9 L1931.91 172.02 L1932.12 168.45 L1932.32 165.14 L1932.53 162.09 L1932.73 159.27 L1932.94 156.67 L1933.14 154.26 L1933.35 152.02 L1933.56 149.96 L1933.76 148.04 L1933.97 146.26 L1934.17 144.6 L1934.38 143.06 L1934.58 141.62 L1934.79 140.27 L1934.99 139.01 L1935.2 137.82 L1935.41 136.71 L1935.61 135.65 L1935.82 134.64 L1936.02 133.69 L1936.23 132.77 L1936.43 131.88 L1936.64 131.03 L1936.84 130.19 L1937.05 129.37 L1937.26 128.56 L1937.46 127.76 L1937.67 126.95 L1937.87 126.14 L1938.08 125.32 L1938.28 124.49 L1938.49 123.63 L1938.69 122.74 L1938.9 121.82 L1939.11 120.85 L1939.31 119.84 L1939.52 118.78 L1939.72 117.66 L1939.93 116.46 L1940.13 115.19 L1940.34 113.84 L1940.54 112.39 L1940.75 110.83 L1940.96 109.16 L1941.16 107.37 L1941.37 105.44 L1941.57 103.35 L1941.78 101.1 L1941.98 98.67 L1942.19 96.04 L1942.39 93.2 L1942.6 90.13 L1942.81 86.79 L1943.01 83.19 L1943.22 79.28 L1943.42 75.04 L1943.63 70.44 L1943.83 65.46 L1944.04 60.05 L1944.24 54.19 L1944.45 56.92 L1944.66 62.56 L1944.86 67.75 L1945.07 72.54 L1945.27 76.95 L1945.48 81.02 L1945.68 84.77 L1945.89 88.24 L1946.09 91.43 L1946.3 94.38 L1946.51 97.1 L1946.71 99.62 L1946.92 101.94 L1947.12 104.09 L1947.33 106.08 L1947.53 107.92 L1947.74 109.63 L1947.94 111.21 L1948.15 112.68 L1948.36 114.05 L1948.56 115.33 L1948.77 116.52 L1948.97 117.64 L1949.18 118.68 L1949.38 119.67 L1949.59 120.6 L1949.79 121.48 L1950 122.32" fill="none" stroke="#2a2a2a" stroke-width="1.2"/>
<path d="M1765.2 143.21 L1765.41 141.8 L1765.61 140.48 L1765.82 139.25 L1766.02 138.1 L1766.23 137.02 L1766.43 136 L1766.64 135.03 L1766.84 134.11 L1767.05 133.24 L1767.26 132.41 L1767.46 131.6 L1767.67 130.82 L1767.87 130.06 L1768.08 129.32 L1768.28 128.58 L1768.49 127.86 L1768.69 127.13 L1768.9 126.4 L1769.11 125.65 L1769.31 124.9 L1769.52 124.12 L1769.72 123.32 L1769.93 122.49 L1770.13 121.62 L1770.34 120.71 L1770.54 119.76 L1770.75 118.75 L1770.96 117.67 L1771.16 116.53 L1771.37 115.31 L1771.57 114.01 L1771.78 112.62 L1771.98 111.12 L1772.19 109.51 L1772.39 107.78 L1772.6 105.91 L1772.81 103.89 L1773.01 101.71 L1773.22 99.35 L1773.42 96.8 L1773.63 94.05 L1773.83 91.06 L1774.04 87.82 L1774.24 84.32 L1774.45 80.52 L1774.66 76.4 L1774.86 71.93 L1775.07 67.09 L1775.27 61.83 L1775.48 56.13 L1775.68 55.02 L1775.89 60.81 L1776.09 66.15 L1776.3 71.08 L1776.51 75.62 L1776.71 79.81 L1776.92 83.67 L1777.12 87.23 L1777.33 90.52 L1777.53 93.56 L1777.74 96.37 L1777.94 98.96 L1778.15 101.36 L1778.36 103.58 L1778.56 105.64 L1778.77 107.54 L1778.97 109.31 L1779.18 110.96 L1779.38 112.49 L1779.59 113.91 L1779.79 115.25 L1780 116.49 L1780.21 117.66 L1780.41 118.77 L1780.62 119.81 L1780.82 120.8 L1781.03 121.74 L1781.23 122.63 L1781.44 123.5 L1781.64 124.33 L1781.85 125.14 L1782.06 125.94 L1782.26 126.72 L1782.47 127.49 L1782.67 128.26 L1782.88 129.04 L1783.08 129.82 L1783.29 130.62 L1783.49 131.43 L1783.7 132.27 L1783.91 133.15 L1784.11 134.05 L1784.32 135 L1784.52 136 L1784.73 137.05 L1784.93 138.17 L1785.14 139.35 L1785.35 140.62 L1785.55 141.97 L1785.76 143.42 L1785.96 144.97 L1786.17 146.64 L1786.37 148.43 L1786.58 150.37 L1786.78 152.46 L1786.99 154.71 L1787.2 157.15 L1787.4 159.78 L1787.61 162.64 L1787.81 165.72 L1788.02 169.07 L1788.22 172.69 L1788.43 176.62 L1788.63 180.87 L1788.84 185.49 L1789.05 190.5 L1789.25 195.93 L1789.46 201.82 L1789.66 198.39 L1789.87 192.78 L1790.07 187.61 L1790.28 182.85 L1790.48 178.46 L1790.69 174.41 L1790.9 170.68 L1791.1 167.23 L1791.31 164.06 L1791.51 161.13 L1791.72 158.42 L1791.92 155.92 L1792.13 153.62 L1792.33 151.48 L1792.54 149.51 L1792.75 147.68 L1792.95 145.99 L1793.16 144.42 L1793.36 142.97 L1793.57 141.61 L1793.77 140.35 L1793.98 139.18 L1794.18 138.08 L1794.39 137.05 L1794.6 136.08 L1794.8 135.17 L1795.01 134.31 L1795.21 133.5 L1795.42 132.72 L1795.62 131.98 L1795.83 131.26 L1796.03 130.57 L1796.24 129.89 L1796.45 129.23 L1796.65 128.58 L1796.86 127.94 L1797.06 127.29 L1797.27 126.65 L1797.47 125.99 L1797.68 125.33 L1797.88 124.64 L1798.09 123.94 L1798.3 123.2 L1798.5 122.44 L1798.71 121.64 L1798.91 120.8 L1799.12 119.91 L1799.32 118.97 L1799.53 117.97 L1799.73 116.91 L1799.94 115.76 L1800.15 114.54 L1800.35 113.23 L1800.56 111.82 L1800.76 110.3 L1800.97 108.66 L1801.17 106.9 L1801.38 104.99 L1801.58 102.93 L1801.79 100.69 L1802 98.28 L1802.2 95.67 L1802.41 92.84 L1802.61 89.77 L1802.82 86.44 L1803.02 82.84 L1803.23 78.93 L1803.43 74.69 L1803.64 70.09 L1803.85 65.1 L1804.05 59.69 L1804.26 53.81 L1804.46 57.29 L1804.67 62.92 L1804.87 68.1 L1805.08 72.89 L1805.28 77.3 L1805.49 81.37 L1805.7 85.12 L1805.9 88.59 L1806.11 91.79 L1806.31 94.75 L1806.52 97.49 L1806.72 100.01 L1806.93 102.36 L1807.13 104.53 L1807.34 106.54 L1807.55 108.41 L1807.75 110.14 L1807.96 111.76 L1808.16 113.27 L1808.37 114.68 L1808.57 116 L1808.78 117.24 L1808.98 118.41 L1809.19 119.52 L1809.4 120.57 L1809.6 121.58 L1809.81 122.54 L1810.01 123.46 L1810.22 124.36 L1810.42 125.23 L1810.63 126.08 L1810.83 126.92 L1811.04 127.76 L1811.25 128.6 L1811.45 129.44 L1811.66 130.29 L1811.86 131.16 L1812.07 132.06 L1812.27 132.98 L1812.48 133.93 L1812.68 134.93 L1812.89 135.98 L1813.1 137.08 L1813.3 138.25 L1813.51 139.48 L1813.71 140.79 L1813.92 142.2 L1814.12 143.7 L1814.33 145.3 L1814.53 147.03 L1814.74 148.88 L1814.95 150.88 L1815.15 153.04 L1815.36 155.36 L1815.56 157.87 L1815.77 160.59 L1815.97 163.53 L1816.18 166.7 L1816.38 170.14 L1816.59 173.87 L1816.8 177.91 L1817 182.29 L1817.21 187.04 L1817.41 192.19 L1817.62 197.77 L1817.82 202.38 L1818.03 196.46 L1818.23 191.01 L1818.44 185.98 L1818.65 181.35 L1818.85 177.08 L1819.06 173.14 L1819.26 169.51 L1819.47 166.17 L1819.67 163.08 L1819.88 160.23 L1820.08 157.6 L1820.29 155.17 L1820.5 152.92 L1820.7 150.85 L1820.91 148.93 L1821.11 147.16 L1821.32 145.51 L1821.52 143.99 L1821.73 142.58 L1821.94 141.26 L1822.14 140.04 L1822.35 138.9 L1822.55 137.83 L1822.76 136.83 L1822.96 135.9 L1823.17 135.01 L1823.37 134.18 L1823.58 133.39 L1823.79 132.64 L1823.99 131.92 L1824.2 131.23 L1824.4 130.56 L1824.61 129.91 L1824.81 129.27 L1825.02 128.65 L1825.22 128.03 L1825.43 127.41 L1825.64 126.79 L1825.84 126.16 L1826.05 125.52 L1826.25 124.87 L1826.46 124.19 L1826.66 123.5 L1826.87 122.77 L1827.07 122.01 L1827.28 121.21 L1827.49 120.36 L1827.69 119.47 L1827.9 118.51 L1828.1 117.5 L1828.31 116.41 L1828.51 115.25 L1828.72 114.01 L1828.92 112.67 L1829.13 111.22 L1829.34 109.67 L1829.54 107.99 L1829.75 106.18 L1829.95 104.22 L1830.16 102.11 L1830.36 99.82 L1830.57 97.34 L1830.77 94.65 L1830.98 91.74 L1831.19 88.59 L1831.39 85.17 L1831.6 81.46 L1831.8 77.44 L1832.01 73.08 L1832.21 68.34 L1832.42 63.21 L1832.62 57.64 L1832.83 53.4 L1833.04 59.33 L1833.24 64.8 L1833.45 69.84 L1833.65 74.49 L1833.86 78.77 L1834.06 82.73 L1834.27 86.38 L1834.47 89.75 L1834.68 92.86 L1834.89 95.74 L1835.09 98.4 L1835.3 100.86 L1835.5 103.14 L1835.71 105.25 L1835.91 107.21 L1836.12 109.03 L1836.32 110.73 L1836.53 112.3 L1836.74 113.78 L1836.94 115.16 L1837.15 116.45 L1837.35 117.67 L1837.56 118.81 L1837.76 119.9 L1837.97 120.93 L1838.17 121.92 L1838.38 122.87 L1838.59 123.78 L1838.79 124.67 L1839 125.53 L1839.2 126.38 L1839.41 127.22 L1839.61 128.06 L1839.82 128.9 L1840.02 129.74 L1840.23 130.6 L1840.44 131.48 L1840.64 132.38 L1840.85 133.31 L1841.05 134.28 L1841.26 135.3 L1841.46 136.36 L1841.67 137.49 L1841.87 138.68 L1842.08 139.94 L1842.29 141.28 L1842.49 142.72 L1842.7 144.25 L1842.9 145.9 L1843.11 147.67 L1843.31 149.58 L1843.52 151.63 L1843.72 153.84 L1843.93 156.23 L1844.14 158.81 L1844.34 161.61 L1844.55 164.63 L1844.75 167.9 L1844.96 171.44 L1845.16 175.27 L1845.37 179.43 L1845.57 183.93 L1845.78 188.82 L1845.99 194.12 L1846.19 199.87 L1846.4 200.22 L1846.6 194.47 L1846.81 189.18 L1847.01 184.29 L1847.22 179.79 L1847.42 175.64 L1847.63 171.82 L1847.84 168.29 L1848.04 165.04 L1848.25 162.04 L1848.45 159.27 L1848.66 156.71 L1848.86 154.35 L1849.07 152.17 L1849.27 150.15 L1849.48 148.29 L1849.69 146.56 L1849.89 144.96 L1850.1 143.47 L1850.3 142.1 L1850.51 140.82 L1850.71 139.62 L1850.92 138.51 L1851.12 137.47 L1851.33 136.49 L1851.54 135.58 L1851.74 134.71 L1851.95 133.89 L1852.15 133.12 L1852.36 132.38 L1852.56 131.67 L1852.77 130.99 L1852.97 130.32 L1853.18 129.68 L1853.39 129.05 L1853.59 128.42 L1853.8 127.81 L1854 127.19 L1854.21 126.56 L1854.41 125.93 L1854.62 125.29 L1854.82 124.63 L1855.03 123.94 L1855.24 123.24 L1855.44 122.5 L1855.65 121.72 L1855.85 120.9 L1856.06 120.04 L1856.26 119.13 L1856.47 118.15 L1856.67 117.11 L1856.88 116 L1857.09 114.81 L1857.29 113.53 L1857.5 112.15 L1857.7 110.67 L1857.91 109.07 L1858.11 107.35 L1858.32 105.48 L1858.53 103.47 L1858.73 101.29 L1858.94 98.93 L1859.14 96.38 L1859.35 93.61 L1859.55 90.62 L1859.76 87.37 L1859.96 83.85 L1860.17 80.03 L1860.38 75.88 L1860.58 71.39 L1860.79 66.52 L1860.99 61.23 L1861.2 55.49 L1861.4 55.5 L1861.61 61.25 L1861.81 66.56 L1862.02 71.45 L1862.23 75.96 L1862.43 80.12 L1862.64 83.95 L1862.84 87.49 L1863.05 90.76 L1863.25 93.78 L1863.46 96.56 L1863.66 99.14 L1863.87 101.52 L1864.08 103.72 L1864.28 105.76 L1864.49 107.65 L1864.69 109.41 L1864.9 111.04 L1865.1 112.55 L1865.31 113.97 L1865.51 115.29 L1865.72 116.52 L1865.93 117.68 L1866.13 118.78 L1866.34 119.81 L1866.54 120.78 L1866.75 121.71 L1866.95 122.6 L1867.16 123.45 L1867.36 124.27 L1867.57 125.07 L1867.78 125.85 L1867.98 126.62 L1868.19 127.38 L1868.39 128.13 L1868.6 128.89 L1868.8 129.66 L1869.01 130.43 L1869.21 131.23 L1869.42 132.05 L1869.63 132.9 L1869.83 133.78 L1870.04 134.7 L1870.24 135.67 L1870.45 136.7 L1870.65 137.78 L1870.86 138.93 L1871.06 140.16 L1871.27 141.47 L1871.48 142.87 L1871.68 144.37 L1871.89 145.99 L1872.09 147.73 L1872.3 149.6 L1872.5 151.62 L1872.71 153.8 L1872.91 156.16 L1873.12 158.71 L1873.33 161.47 L1873.53 164.46 L1873.74 167.7 L1873.94 171.2 L1874.15 175 L1874.35 179.12 L1874.56 183.58 L1874.76 188.42 L1874.97 193.68 L1875.18 199.38 L1875.38 200.64 L1875.59 194.84 L1875.79 189.49 L1876 184.57 L1876.2 180.02 L1876.41 175.83 L1876.61 171.96 L1876.82 168.4 L1877.03 165.1 L1877.23 162.06 L1877.44 159.26 L1877.64 156.66 L1877.85 154.26 L1878.05 152.04 L1878.26 149.98 L1878.46 148.07 L1878.67 146.3 L1878.88 144.66 L1879.08 143.13 L1879.29 141.7 L1879.49 140.37 L1879.7 139.12 L1879.9 137.95 L1880.11 136.84 L1880.31 135.8 L1880.52 134.82 L1880.73 133.88 L1880.93 132.98 L1881.14 132.11 L1881.34 131.28 L1881.55 130.47 L1881.75 129.67 L1881.96 128.89 L1882.16 128.12 L1882.37 127.35 L1882.58 126.57 L1882.78 125.79 L1882.99 124.99 L1883.19 124.18 L1883.4 123.34 L1883.6 122.47 L1883.81 121.56 L1884.01 120.62 L1884.22 119.62 L1884.43 118.57 L1884.63 117.45 L1884.84 116.27 L1885.04 115.01 L1885.25 113.66 L1885.45 112.21 L1885.66 110.66 L1885.86 109 L1886.07 107.2 L1886.28 105.27 L1886.48 103.19 L1886.69 100.93 L1886.89 98.5 L1887.1 95.87 L1887.3 93.02 L1887.51 89.94 L1887.71 86.6 L1887.92 82.98 L1888.13 79.06 L1888.33 74.81 L1888.54 70.2 L1888.74 65.21 L1888.95 59.78 L1889.15 53.9 L1889.36 57.19 L1889.56 62.81 L1889.77 67.98 L1889.98 72.76 L1890.18 77.16 L1890.39 81.21 L1890.59 84.96 L1890.8 88.41 L1891 91.6 L1891.21 94.54 L1891.41 97.26 L1891.62 99.77 L1891.83 102.09 L1892.03 104.23 L1892.24 106.22 L1892.44 108.06 L1892.65 109.77 L1892.85 111.35 L1893.06 112.83 L1893.26 114.2 L1893.47 115.48 L1893.68 116.68 L1893.88 117.8 L1894.09 118.86 L1894.29 119.85 L1894.5 120.79 L1894.7 121.68 L1894.91 122.53 L1895.12 123.35 L1895.32 124.14 L1895.53 124.9 L1895.73 125.64 L1895.94 126.37 L1896.14 127.08 L1896.35 127.8 L1896.55 128.51 L1896.76 129.22 L1896.97 129.95 L1897.17 130.69 L1897.38 131.45 L1897.58 132.24 L1897.79 133.05 L1897.99 133.91 L1898.2 134.8 L1898.4 135.74 L1898.61 136.73 L1898.82 137.78 L1899.02 138.91 L1899.23 140.1 L1899.43 141.38 L1899.64 142.75 L1899.84 144.23 L1900.05 145.81 L1900.25 147.52 L1900.46 149.35 L1900.67 151.34 L1900.87 153.48 L1901.08 155.8 L1901.28 158.31 L1901.49 161.02 L1901.69 163.96 L1901.9 167.14 L1902.1 170.59 L1902.31 174.33 L1902.52 178.38 L1902.72 182.78 L1902.93 187.55 L1903.13 192.72 L1903.34 198.33 L1903.54 201.81 L1903.75 195.92 L1903.95 190.49 L1904.16 185.49 L1904.37 180.87 L1904.57 176.62 L1904.78 172.69 L1904.98 169.07 L1905.19 165.73 L1905.39 162.65 L1905.6 159.8 L1905.8 157.17 L1906.01 154.73 L1906.22 152.48 L1906.42 150.4 L1906.63 148.47 L1906.83 146.67 L1907.04 145.01 L1907.24 143.46 L1907.45 142.02 L1907.65 140.67 L1907.86 139.41 L1908.07 138.23 L1908.27 137.13 L1908.48 136.08 L1908.68 135.09 L1908.89 134.15 L1909.09 133.25 L1909.3 132.39 L1909.5 131.56 L1909.71 130.75 L1909.92 129.97 L1910.12 129.2 L1910.33 128.44 L1910.53 127.68 L1910.74 126.92 L1910.94 126.16 L1911.15 125.39 L1911.35 124.6 L1911.56 123.78 L1911.77 122.94 L1911.97 122.07 L1912.18 121.16 L1912.38 120.2 L1912.59 119.2 L1912.79 118.13 L1913 117 L1913.2 115.8 L1913.41 114.51 L1913.62 113.14 L1913.82 111.66 L1914.03 110.08 L1914.23 108.38 L1914.44 106.54 L1914.64 104.56 L1914.85 102.43 L1915.05 100.12 L1915.26 97.62 L1915.47 94.93 L1915.67 92 L1915.88 88.84 L1916.08 85.41 L1916.29 81.7 L1916.49 77.67 L1916.7 73.31 L1916.9 68.58 L1917.11 63.44 L1917.32 57.87 L1917.52 53.12 L1917.73 59.05 L1917.93 64.52 L1918.14 69.56 L1918.34 74.21 L1918.55 78.49 L1918.75 82.44 L1918.96 86.08 L1919.17 89.44 L1919.37 92.54 L1919.58 95.41 L1919.78 98.05 L1919.99 100.49 L1920.19 102.75 L1920.4 104.84 L1920.6 106.77 L1920.81 108.56 L1921.02 110.22 L1921.22 111.76 L1921.43 113.19 L1921.63 114.53 L1921.84 115.77 L1922.04 116.94 L1922.25 118.02 L1922.45 119.05 L1922.66 120.01 L1922.87 120.92 L1923.07 121.79 L1923.28 122.61 L1923.48 123.4 L1923.69 124.16 L1923.89 124.89 L1924.1 125.61 L1924.3 126.31 L1924.51 127 L1924.72 127.68 L1924.92 128.37 L1925.13 129.06 L1925.33 129.75 L1925.54 130.46 L1925.74 131.19 L1925.95 131.94 L1926.15 132.72 L1926.36 133.53 L1926.57 134.38 L1926.77 135.28 L1926.98 136.22 L1927.18 137.22 L1927.39 138.29 L1927.59 139.43 L1927.8 140.64 L1928 141.95 L1928.21 143.34 L1928.42 144.85 L1928.62 146.47 L1928.83 148.21 L1929.03 150.09 L1929.24 152.13 L1929.44 154.33 L1929.65 156.7 L1929.85 159.28 L1930.06 162.06 L1930.27 165.08 L1930.47 168.35 L1930.68 171.9 L1930.88 175.74 L1931.09 179.91 L1931.29 184.43 L1931.5 189.33 L1931.71 194.65 L1931.91 200.42 L1932.12 199.64 L1932.32 193.91 L1932.53 188.64 L1932.73 183.77 L1932.94 179.28 L1933.14 175.14 L1933.35 171.32 L1933.56 167.8 L1933.76 164.55 L1933.97 161.54 L1934.17 158.76 L1934.38 156.19 L1934.58 153.82 L1934.79 151.62 L1934.99 149.58 L1935.2 147.69 L1935.41 145.93 L1935.61 144.3 L1935.82 142.78 L1936.02 141.36 L1936.23 140.03 L1936.43 138.78 L1936.64 137.61 L1936.84 136.5 L1937.05 135.45 L1937.26 134.46 L1937.46 133.51 L1937.67 132.6 L1937.87 131.72 L1938.08 130.87 L1938.28 130.03 L1938.49 129.22 L1938.69 128.41 L1938.9 127.61 L1939.11 126.8 L1939.31 125.99 L1939.52 125.17 L1939.72 124.33 L1939.93 123.46 L1940.13 122.57 L1940.34 121.64 L1940.54 120.67 L1940.75 119.65 L1940.96 118.57 L1941.16 117.43 L1941.37 116.23 L1941.57 114.94 L1941.78 113.57 L1941.98 112.1 L1942.19 110.53 L1942.39 108.83 L1942.6 107.01 L1942.81 105.05 L1943.01 102.94 L1943.22 100.66 L1943.42 98.19 L1943.63 95.52 L1943.83 92.64 L1944.04 89.52 L1944.24 86.13 L1944.45 82.47 L1944.66 78.5 L1944.86 74.2 L1945.07 69.53 L1945.27 64.47 L1945.48 58.98 L1945.68 53.02 L1945.89 58.03 L1946.09 63.57 L1946.3 68.69 L1946.51 73.4 L1946.71 77.75 L1946.92 81.76 L1947.12 85.45 L1947.33 88.86 L1947.53 92.01 L1947.74 94.91 L1947.94 97.59 L1948.15 100.07 L1948.36 102.36 L1948.56 104.48 L1948.77 106.44 L1948.97 108.25 L1949.18 109.93 L1949.38 111.5 L1949.59 112.95 L1949.79 114.3 L1950 115.56" fill="none" stroke="#2a2a2a" stroke-width="1.2"/>
<rect x="1765.2" y="51.5" width="184.8" height="150.7" fill="none" stroke="#222" stroke-width="1.6"/>
<text x="1750.17" y="58.19" font-family="'Liberation Sans', Arial, sans-serif" font-size="19.5" fill="#262626">1</text>
<text x="1750.17" y="135.19" font-family="'Liberation Sans', Arial, sans-serif" font-size="19.5" fill="#262626">0</text>
<text x="1743.68" y="210.69" font-family="'Liberation Sans', Arial, sans-serif" font-size="19.5" fill="#262626">-1</text>
<text x="1786.7" y="228.12" font-family="'Liberation Sans', Arial, sans-serif" font-size="19.5" fill="#262626">-0.1</text>
<text x="1854.18" y="228.12" font-family="'Liberation Sans', Arial, sans-serif" font-size="19.5" fill="#262626">0</text>
<text x="1901.75" y="228.12" font-family="'Liberation Sans', Arial, sans-serif" font-size="19.5" fill="#262626">0.1</text>
<text x="1811.92" y="257.06" font-family="'Liberation Sans', Arial, sans-serif" font-size="22.6" fill="#262626">field [mT]</text>
<text x="1732.97" y="180.94" font-family="'Liberation Sans', Arial, sans-serif" font-size="22.8" fill="#262626" transform="rotate(-90 1732.97 180.94)">amp. [a.u.]</text>
<rect x="1562.2" y="14" width="17.9" height="650.2" fill="none" stroke="#00b050" stroke-width="1.6"/>
<line x1="1578.4" y1="298.2" x2="1702.24" y2="213.5" stroke="#00b050" stroke-width="4.4"/>
<path d="M1713.8 205.6 L1705.37 219.85 L1697.47 208.29Z" fill="#00b050"/>
<defs><filter id="cmap" filterUnits="userSpaceOnUse" x="134.8" y="846" width="809.4" height="617.7" color-interpolation-filters="sRGB"><feComponentTransfer><feFuncR type="table" tableValues="0.216 0.223 0.23 0.238 0.245 0.252 0.26 0.267 0.275 0.279 0.284 0.289 0.294 0.299 0.304 0.309 0.314 0.316 0.318 0.32 0.322 0.324 0.325 0.327 0.329 0.331 0.333 0.337 0.341 0.345 0.349 0.353 0.357 0.361 0.365 0.369 0.373 0.386 0.399 0.412 0.425 0.438 0.451 0.464 0.477 0.49 0.52 0.549 0.578 0.608 0.637 0.667 0.696 0.725 0.75 0.775 0.799 0.824 0.848 0.873 0.897 0.922 0.93 0.938 0.947 0.955 0.963 0.972 0.98 0.988 0.987 0.986 0.985 0.984 0.983 0.982 0.981 0.98 0.977 0.974 0.97 0.967 0.963 0.96 0.956 0.953 0.941 0.929 0.918 0.906 0.894 0.882 0.871 0.835 0.8 0.765 0.729 0.694 0.659 0.624 0.588"/><feFuncG type="table" tableValues="0.392 0.409 0.426 0.444 0.461 0.478 0.495 0.512 0.529 0.541 0.552 0.563 0.575 0.586 0.597 0.608 0.62 0.631 0.643 0.655 0.667 0.678 0.69 0.702 0.714 0.725 0.737 0.75 0.762 0.775 0.787 0.8 0.813 0.825 0.838 0.85 0.863 0.871 0.88 0.889 0.898 0.906 0.915 0.924 0.932 0.941 0.944 0.947 0.95 0.953 0.956 0.959 0.962 0.965 0.965 0.965 0.965 0.965 0.965 0.965 0.965 0.965 0.956 0.947 0.938 0.929 0.921 0.912 0.903 0.894 0.868 0.842 0.816 0.79 0.764 0.738 0.712 0.686 0.654 0.623 0.591 0.559 0.527 0.495 0.463 0.431 0.406 0.381 0.356 0.331 0.305 0.28 0.255 0.243 0.23 0.218 0.206 0.194 0.181 0.169 0.157"/><feFuncB type="table" tableValues="0.922 0.924 0.926 0.929 0.931 0.934 0.936 0.939 0.941 0.944 0.946 0.949 0.951 0.953 0.956 0.958 0.961 0.962 0.963 0.964 0.965 0.967 0.968 0.969 0.97 0.971 0.973 0.973 0.974 0.975 0.976 0.976 0.977 0.978 0.979 0.98 0.98 0.968 0.956 0.944 0.932 0.919 0.907 0.895 0.883 0.871 0.843 0.815 0.787 0.759 0.731 0.703 0.675 0.647 0.618 0.588 0.559 0.529 0.5 0.471 0.441 0.412 0.397 0.382 0.368 0.353 0.338 0.324 0.309 0.294 0.288 0.281 0.275 0.269 0.262 0.256 0.25 0.243 0.242 0.241 0.24 0.239 0.238 0.237 0.236 0.235 0.235 0.235 0.235 0.235 0.235 0.235 0.235 0.235 0.235 0.235 0.235 0.235 0.235 0.235 0.235"/></feComponentTransfer></filter><linearGradient id="cbg" gradientUnits="userSpaceOnUse" x1="134.8" y1="0" x2="944.2" y2="0"><stop offset="0.0000" stop-color="#2e2e2e"/><stop offset="0.0188" stop-color="#2b2b2b"/><stop offset="0.0373" stop-color="#212121"/><stop offset="0.0497" stop-color="#1a1a1a"/><stop offset="0.0806" stop-color="#1a1a1a"/><stop offset="0.0929" stop-color="#303030"/><stop offset="0.1238" stop-color="#333333"/><stop offset="0.1324" stop-color="#262626"/><stop offset="0.1423" stop-color="#1f1f1f"/><stop offset="0.1621" stop-color="#242424"/><stop offset="0.1745" stop-color="#474747"/><stop offset="0.1868" stop-color="#5c5c5c"/><stop offset="0.2016" stop-color="#696969"/><stop offset="0.2226" stop-color="#707070"/><stop offset="0.2844" stop-color="#707070"/><stop offset="0.3054" stop-color="#696969"/><stop offset="0.3202" stop-color="#5c5c5c"/><stop offset="0.3314" stop-color="#424242"/><stop offset="0.3412" stop-color="#262626"/><stop offset="0.3499" stop-color="#212121"/><stop offset="0.3771" stop-color="#212121"/><stop offset="0.3894" stop-color="#333333"/><stop offset="0.4092" stop-color="#333333"/><stop offset="0.4203" stop-color="#1f1f1f"/><stop offset="0.4821" stop-color="#1f1f1f"/><stop offset="0.4907" stop-color="#363636"/><stop offset="0.5191" stop-color="#363636"/><stop offset="0.5278" stop-color="#1f1f1f"/><stop offset="0.5809" stop-color="#1f1f1f"/><stop offset="0.5896" stop-color="#363636"/><stop offset="0.6242" stop-color="#363636"/><stop offset="0.6340" stop-color="#1f1f1f"/><stop offset="0.6662" stop-color="#242424"/><stop offset="0.6785" stop-color="#474747"/><stop offset="0.6909" stop-color="#5c5c5c"/><stop offset="0.7057" stop-color="#696969"/><stop offset="0.7267" stop-color="#707070"/><stop offset="0.7885" stop-color="#707070"/><stop offset="0.8095" stop-color="#696969"/><stop offset="0.8243" stop-color="#5c5c5c"/><stop offset="0.8354" stop-color="#424242"/><stop offset="0.8453" stop-color="#292929"/><stop offset="0.8774" stop-color="#292929"/><stop offset="0.8960" stop-color="#1f1f1f"/><stop offset="0.9083" stop-color="#171717"/><stop offset="0.9454" stop-color="#171717"/><stop offset="0.9602" stop-color="#292929"/><stop offset="1.0000" stop-color="#2b2b2b"/></linearGradient><linearGradient id="cvy" gradientUnits="userSpaceOnUse" x1="0" y1="1463.5" x2="0" y2="836.54"><stop offset="0.0000" stop-color="#fff" stop-opacity="0.470"/><stop offset="0.0735" stop-color="#fff" stop-opacity="0.440"/><stop offset="0.1471" stop-color="#fff" stop-opacity="0.400"/><stop offset="0.2353" stop-color="#fff" stop-opacity="0.320"/><stop offset="0.3235" stop-color="#fff" stop-opacity="0.220"/><stop offset="0.4412" stop-color="#fff" stop-opacity="0.150"/><stop offset="0.5882" stop-color="#fff" stop-opacity="0.080"/><stop offset="0.7353" stop-color="#fff" stop-opacity="0.030"/><stop offset="1.0000" stop-color="#fff" stop-opacity="0.000"/></linearGradient><radialGradient id="halo337" gradientUnits="userSpaceOnUse" cx="0" cy="0" r="1" gradientTransform="translate(337.0 1352.86) scale(100.0 400.0)"><stop offset="0.00" stop-color="#fff" stop-opacity="0.090"/><stop offset="0.14" stop-color="#fff" stop-opacity="0.088"/><stop offset="0.29" stop-color="#fff" stop-opacity="0.083"/><stop offset="0.43" stop-color="#fff" stop-opacity="0.073"/><stop offset="0.57" stop-color="#fff" stop-opacity="0.061"/><stop offset="0.71" stop-color="#fff" stop-opacity="0.044"/><stop offset="0.86" stop-color="#fff" stop-opacity="0.024"/><stop offset="1.00" stop-color="#fff" stop-opacity="0.000"/></radialGradient><radialGradient id="halo745" gradientUnits="userSpaceOnUse" cx="0" cy="0" r="1" gradientTransform="translate(745.0 1352.86) scale(100.0 400.0)"><stop offset="0.00" stop-color="#fff" stop-opacity="0.090"/><stop offset="0.14" stop-color="#fff" stop-opacity="0.088"/><stop offset="0.29" stop-color="#fff" stop-opacity="0.083"/><stop offset="0.43" stop-color="#fff" stop-opacity="0.073"/><stop offset="0.57" stop-color="#fff" stop-opacity="0.061"/><stop offset="0.71" stop-color="#fff" stop-opacity="0.044"/><stop offset="0.86" stop-color="#fff" stop-opacity="0.024"/><stop offset="1.00" stop-color="#fff" stop-opacity="0.000"/></radialGradient><radialGradient id="glow337" gradientUnits="userSpaceOnUse" cx="0" cy="0" r="1" gradientTransform="translate(337.0 1445.06) scale(115.0 260.0)"><stop offset="0.00" stop-color="#fff" stop-opacity="0.210"/><stop offset="0.14" stop-color="#fff" stop-opacity="0.172"/><stop offset="0.29" stop-color="#fff" stop-opacity="0.136"/><stop offset="0.43" stop-color="#fff" stop-opacity="0.101"/><stop offset="0.57" stop-color="#fff" stop-opacity="0.070"/><stop offset="0.71" stop-color="#fff" stop-opacity="0.041"/><stop offset="0.86" stop-color="#fff" stop-opacity="0.017"/><stop offset="1.00" stop-color="#fff" stop-opacity="0.000"/></radialGradient><radialGradient id="glow745" gradientUnits="userSpaceOnUse" cx="0" cy="0" r="1" gradientTransform="translate(745.0 1445.06) scale(115.0 260.0)"><stop offset="0.00" stop-color="#fff" stop-opacity="0.210"/><stop offset="0.14" stop-color="#fff" stop-opacity="0.172"/><stop offset="0.29" stop-color="#fff" stop-opacity="0.136"/><stop offset="0.43" stop-color="#fff" stop-opacity="0.101"/><stop offset="0.57" stop-color="#fff" stop-opacity="0.070"/><stop offset="0.71" stop-color="#fff" stop-opacity="0.041"/><stop offset="0.86" stop-color="#fff" stop-opacity="0.017"/><stop offset="1.00" stop-color="#fff" stop-opacity="0.000"/></radialGradient><linearGradient id="cdk" gradientUnits="userSpaceOnUse" x1="134.8" y1="0" x2="944.2" y2="0"><stop offset="0.0000" stop-color="#000" stop-opacity="0.375"/><stop offset="0.0198" stop-color="#000" stop-opacity="0.451"/><stop offset="0.0395" stop-color="#000" stop-opacity="0.721"/><stop offset="0.0445" stop-color="#000" stop-opacity="0.750"/><stop offset="0.0791" stop-color="#000" stop-opacity="0.750"/><stop offset="0.0840" stop-color="#000" stop-opacity="0.717"/><stop offset="0.0890" stop-color="#000" stop-opacity="0.492"/><stop offset="0.0939" stop-color="#000" stop-opacity="0.310"/><stop offset="0.1235" stop-color="#000" stop-opacity="0.250"/><stop offset="0.1334" stop-color="#000" stop-opacity="0.581"/><stop offset="0.1384" stop-color="#000" stop-opacity="0.675"/><stop offset="0.1433" stop-color="#000" stop-opacity="0.744"/><stop offset="0.1581" stop-color="#000" stop-opacity="0.650"/><stop offset="0.1631" stop-color="#000" stop-opacity="0.555"/><stop offset="0.1680" stop-color="#000" stop-opacity="0.205"/><stop offset="0.1730" stop-color="#000" stop-opacity="0.000"/><stop offset="0.3311" stop-color="#000" stop-opacity="0.000"/><stop offset="0.3361" stop-color="#000" stop-opacity="0.202"/><stop offset="0.3410" stop-color="#000" stop-opacity="0.545"/><stop offset="0.3459" stop-color="#000" stop-opacity="0.630"/><stop offset="0.3509" stop-color="#000" stop-opacity="0.688"/><stop offset="0.3756" stop-color="#000" stop-opacity="0.688"/><stop offset="0.3805" stop-color="#000" stop-opacity="0.565"/><stop offset="0.3855" stop-color="#000" stop-opacity="0.390"/><stop offset="0.3904" stop-color="#000" stop-opacity="0.250"/><stop offset="0.4052" stop-color="#000" stop-opacity="0.250"/><stop offset="0.4102" stop-color="#000" stop-opacity="0.294"/><stop offset="0.4201" stop-color="#000" stop-opacity="0.739"/><stop offset="0.4250" stop-color="#000" stop-opacity="0.750"/><stop offset="0.4794" stop-color="#000" stop-opacity="0.750"/><stop offset="0.4843" stop-color="#000" stop-opacity="0.605"/><stop offset="0.4893" stop-color="#000" stop-opacity="0.284"/><stop offset="0.4942" stop-color="#000" stop-opacity="0.188"/><stop offset="0.5189" stop-color="#000" stop-opacity="0.188"/><stop offset="0.5238" stop-color="#000" stop-opacity="0.493"/><stop offset="0.5288" stop-color="#000" stop-opacity="0.750"/><stop offset="0.5782" stop-color="#000" stop-opacity="0.750"/><stop offset="0.5831" stop-color="#000" stop-opacity="0.605"/><stop offset="0.5881" stop-color="#000" stop-opacity="0.284"/><stop offset="0.5930" stop-color="#000" stop-opacity="0.188"/><stop offset="0.6227" stop-color="#000" stop-opacity="0.188"/><stop offset="0.6276" stop-color="#000" stop-opacity="0.384"/><stop offset="0.6326" stop-color="#000" stop-opacity="0.666"/><stop offset="0.6375" stop-color="#000" stop-opacity="0.737"/><stop offset="0.6622" stop-color="#000" stop-opacity="0.640"/><stop offset="0.6672" stop-color="#000" stop-opacity="0.555"/><stop offset="0.6721" stop-color="#000" stop-opacity="0.205"/><stop offset="0.6770" stop-color="#000" stop-opacity="0.000"/><stop offset="0.8352" stop-color="#000" stop-opacity="0.000"/><stop offset="0.8401" stop-color="#000" stop-opacity="0.172"/><stop offset="0.8451" stop-color="#000" stop-opacity="0.484"/><stop offset="0.8500" stop-color="#000" stop-opacity="0.500"/><stop offset="0.8747" stop-color="#000" stop-opacity="0.500"/><stop offset="0.8797" stop-color="#000" stop-opacity="0.530"/><stop offset="0.8945" stop-color="#000" stop-opacity="0.730"/><stop offset="0.8994" stop-color="#000" stop-opacity="0.750"/><stop offset="0.9489" stop-color="#000" stop-opacity="0.750"/><stop offset="0.9538" stop-color="#000" stop-opacity="0.690"/><stop offset="0.9587" stop-color="#000" stop-opacity="0.544"/><stop offset="0.9637" stop-color="#000" stop-opacity="0.495"/><stop offset="1.0000" stop-color="#000" stop-opacity="0.437"/></linearGradient><linearGradient id="h1" gradientUnits="userSpaceOnUse" x1="134.8" y1="0" x2="944.2" y2="0"><stop offset="0.0000" stop-color="#fff" stop-opacity="0.599"/><stop offset="0.0185" stop-color="#fff" stop-opacity="0.605"/><stop offset="0.0778" stop-color="#fff" stop-opacity="0.659"/><stop offset="0.0927" stop-color="#fff" stop-opacity="0.647"/><stop offset="0.1223" stop-color="#fff" stop-opacity="0.686"/><stop offset="0.1408" stop-color="#fff" stop-opacity="0.733"/><stop offset="0.1631" stop-color="#fff" stop-opacity="0.758"/><stop offset="0.1853" stop-color="#fff" stop-opacity="0.735"/><stop offset="0.2706" stop-color="#fff" stop-opacity="0.740"/><stop offset="0.3188" stop-color="#fff" stop-opacity="0.724"/><stop offset="0.3410" stop-color="#fff" stop-opacity="0.751"/><stop offset="0.3744" stop-color="#fff" stop-opacity="0.711"/><stop offset="0.3892" stop-color="#fff" stop-opacity="0.669"/><stop offset="0.4077" stop-color="#fff" stop-opacity="0.642"/><stop offset="0.4225" stop-color="#fff" stop-opacity="0.652"/><stop offset="0.4818" stop-color="#fff" stop-opacity="0.622"/><stop offset="0.4893" stop-color="#fff" stop-opacity="0.594"/><stop offset="0.5004" stop-color="#fff" stop-opacity="0.587"/><stop offset="0.5189" stop-color="#fff" stop-opacity="0.589"/><stop offset="0.5300" stop-color="#fff" stop-opacity="0.624"/><stop offset="0.5782" stop-color="#fff" stop-opacity="0.649"/><stop offset="0.5819" stop-color="#fff" stop-opacity="0.649"/><stop offset="0.5893" stop-color="#fff" stop-opacity="0.631"/><stop offset="0.5930" stop-color="#fff" stop-opacity="0.635"/><stop offset="0.6227" stop-color="#fff" stop-opacity="0.677"/><stop offset="0.6338" stop-color="#fff" stop-opacity="0.719"/><stop offset="0.6672" stop-color="#fff" stop-opacity="0.758"/><stop offset="0.6894" stop-color="#fff" stop-opacity="0.735"/><stop offset="0.7746" stop-color="#fff" stop-opacity="0.740"/><stop offset="0.8228" stop-color="#fff" stop-opacity="0.724"/><stop offset="0.8451" stop-color="#fff" stop-opacity="0.749"/><stop offset="0.8784" stop-color="#fff" stop-opacity="0.703"/><stop offset="0.9451" stop-color="#fff" stop-opacity="0.647"/><stop offset="0.9600" stop-color="#fff" stop-opacity="0.617"/><stop offset="1.0000" stop-color="#fff" stop-opacity="0.603"/></linearGradient><linearGradient id="h2" gradientUnits="userSpaceOnUse" x1="134.8" y1="0" x2="944.2" y2="0"><stop offset="0.0000" stop-color="#fff" stop-opacity="0.539"/><stop offset="0.0185" stop-color="#fff" stop-opacity="0.546"/><stop offset="0.0778" stop-color="#fff" stop-opacity="0.608"/><stop offset="0.0927" stop-color="#fff" stop-opacity="0.595"/><stop offset="0.1223" stop-color="#fff" stop-opacity="0.642"/><stop offset="0.1408" stop-color="#fff" stop-opacity="0.696"/><stop offset="0.1631" stop-color="#fff" stop-opacity="0.728"/><stop offset="0.1853" stop-color="#fff" stop-opacity="0.707"/><stop offset="0.2335" stop-color="#fff" stop-opacity="0.723"/><stop offset="0.2706" stop-color="#fff" stop-opacity="0.722"/><stop offset="0.3188" stop-color="#fff" stop-opacity="0.694"/><stop offset="0.3410" stop-color="#fff" stop-opacity="0.719"/><stop offset="0.3744" stop-color="#fff" stop-opacity="0.670"/><stop offset="0.3892" stop-color="#fff" stop-opacity="0.621"/><stop offset="0.4077" stop-color="#fff" stop-opacity="0.590"/><stop offset="0.4225" stop-color="#fff" stop-opacity="0.600"/><stop offset="0.4485" stop-color="#fff" stop-opacity="0.579"/><stop offset="0.4818" stop-color="#fff" stop-opacity="0.566"/><stop offset="0.4893" stop-color="#fff" stop-opacity="0.535"/><stop offset="0.5004" stop-color="#fff" stop-opacity="0.526"/><stop offset="0.5189" stop-color="#fff" stop-opacity="0.529"/><stop offset="0.5263" stop-color="#fff" stop-opacity="0.561"/><stop offset="0.5300" stop-color="#fff" stop-opacity="0.568"/><stop offset="0.5782" stop-color="#fff" stop-opacity="0.597"/><stop offset="0.5819" stop-color="#fff" stop-opacity="0.597"/><stop offset="0.5893" stop-color="#fff" stop-opacity="0.578"/><stop offset="0.5930" stop-color="#fff" stop-opacity="0.582"/><stop offset="0.6227" stop-color="#fff" stop-opacity="0.632"/><stop offset="0.6338" stop-color="#fff" stop-opacity="0.680"/><stop offset="0.6672" stop-color="#fff" stop-opacity="0.728"/><stop offset="0.6894" stop-color="#fff" stop-opacity="0.707"/><stop offset="0.7376" stop-color="#fff" stop-opacity="0.723"/><stop offset="0.7746" stop-color="#fff" stop-opacity="0.722"/><stop offset="0.8228" stop-color="#fff" stop-opacity="0.694"/><stop offset="0.8451" stop-color="#fff" stop-opacity="0.717"/><stop offset="0.8784" stop-color="#fff" stop-opacity="0.662"/><stop offset="0.9451" stop-color="#fff" stop-opacity="0.594"/><stop offset="0.9600" stop-color="#fff" stop-opacity="0.560"/><stop offset="1.0000" stop-color="#fff" stop-opacity="0.544"/></linearGradient><linearGradient id="h3" gradientUnits="userSpaceOnUse" x1="134.8" y1="0" x2="944.2" y2="0"><stop offset="0.0000" stop-color="#fff" stop-opacity="0.431"/><stop offset="0.0185" stop-color="#fff" stop-opacity="0.440"/><stop offset="0.0482" stop-color="#fff" stop-opacity="0.484"/><stop offset="0.0778" stop-color="#fff" stop-opacity="0.516"/><stop offset="0.0927" stop-color="#fff" stop-opacity="0.503"/><stop offset="0.1223" stop-color="#fff" stop-opacity="0.565"/><stop offset="0.1408" stop-color="#fff" stop-opacity="0.634"/><stop offset="0.1631" stop-color="#fff" stop-opacity="0.680"/><stop offset="0.1742" stop-color="#fff" stop-opacity="0.667"/><stop offset="0.1853" stop-color="#fff" stop-opacity="0.669"/><stop offset="0.2150" stop-color="#fff" stop-opacity="0.699"/><stop offset="0.2483" stop-color="#fff" stop-opacity="0.713"/><stop offset="0.2743" stop-color="#fff" stop-opacity="0.706"/><stop offset="0.3188" stop-color="#fff" stop-opacity="0.651"/><stop offset="0.3410" stop-color="#fff" stop-opacity="0.668"/><stop offset="0.3744" stop-color="#fff" stop-opacity="0.599"/><stop offset="0.3892" stop-color="#fff" stop-opacity="0.537"/><stop offset="0.4077" stop-color="#fff" stop-opacity="0.496"/><stop offset="0.4225" stop-color="#fff" stop-opacity="0.507"/><stop offset="0.4485" stop-color="#fff" stop-opacity="0.479"/><stop offset="0.4818" stop-color="#fff" stop-opacity="0.462"/><stop offset="0.4893" stop-color="#fff" stop-opacity="0.426"/><stop offset="0.4930" stop-color="#fff" stop-opacity="0.417"/><stop offset="0.5189" stop-color="#fff" stop-opacity="0.419"/><stop offset="0.5263" stop-color="#fff" stop-opacity="0.457"/><stop offset="0.5300" stop-color="#fff" stop-opacity="0.465"/><stop offset="0.5782" stop-color="#fff" stop-opacity="0.503"/><stop offset="0.5819" stop-color="#fff" stop-opacity="0.503"/><stop offset="0.5893" stop-color="#fff" stop-opacity="0.481"/><stop offset="0.5930" stop-color="#fff" stop-opacity="0.486"/><stop offset="0.6227" stop-color="#fff" stop-opacity="0.552"/><stop offset="0.6338" stop-color="#fff" stop-opacity="0.611"/><stop offset="0.6672" stop-color="#fff" stop-opacity="0.680"/><stop offset="0.6783" stop-color="#fff" stop-opacity="0.667"/><stop offset="0.6894" stop-color="#fff" stop-opacity="0.669"/><stop offset="0.7191" stop-color="#fff" stop-opacity="0.699"/><stop offset="0.7487" stop-color="#fff" stop-opacity="0.713"/><stop offset="0.7784" stop-color="#fff" stop-opacity="0.706"/><stop offset="0.8228" stop-color="#fff" stop-opacity="0.651"/><stop offset="0.8451" stop-color="#fff" stop-opacity="0.665"/><stop offset="0.8784" stop-color="#fff" stop-opacity="0.589"/><stop offset="0.9451" stop-color="#fff" stop-opacity="0.498"/><stop offset="0.9600" stop-color="#fff" stop-opacity="0.457"/><stop offset="1.0000" stop-color="#fff" stop-opacity="0.436"/></linearGradient><linearGradient id="h4" gradientUnits="userSpaceOnUse" x1="134.8" y1="0" x2="944.2" y2="0"><stop offset="0.0000" stop-color="#fff" stop-opacity="0.352"/><stop offset="0.0185" stop-color="#fff" stop-opacity="0.362"/><stop offset="0.0482" stop-color="#fff" stop-opacity="0.411"/><stop offset="0.0778" stop-color="#fff" stop-opacity="0.447"/><stop offset="0.0815" stop-color="#fff" stop-opacity="0.450"/><stop offset="0.0927" stop-color="#fff" stop-opacity="0.433"/><stop offset="0.1223" stop-color="#fff" stop-opacity="0.505"/><stop offset="0.1408" stop-color="#fff" stop-opacity="0.584"/><stop offset="0.1631" stop-color="#fff" stop-opacity="0.637"/><stop offset="0.1742" stop-color="#fff" stop-opacity="0.626"/><stop offset="0.1853" stop-color="#fff" stop-opacity="0.630"/><stop offset="0.2187" stop-color="#fff" stop-opacity="0.673"/><stop offset="0.2483" stop-color="#fff" stop-opacity="0.688"/><stop offset="0.2743" stop-color="#fff" stop-opacity="0.679"/><stop offset="0.3188" stop-color="#fff" stop-opacity="0.609"/><stop offset="0.3410" stop-color="#fff" stop-opacity="0.624"/><stop offset="0.3744" stop-color="#fff" stop-opacity="0.543"/><stop offset="0.3892" stop-color="#fff" stop-opacity="0.472"/><stop offset="0.4077" stop-color="#fff" stop-opacity="0.426"/><stop offset="0.4225" stop-color="#fff" stop-opacity="0.437"/><stop offset="0.4485" stop-color="#fff" stop-opacity="0.406"/><stop offset="0.4818" stop-color="#fff" stop-opacity="0.387"/><stop offset="0.4893" stop-color="#fff" stop-opacity="0.347"/><stop offset="0.4930" stop-color="#fff" stop-opacity="0.337"/><stop offset="0.5189" stop-color="#fff" stop-opacity="0.339"/><stop offset="0.5263" stop-color="#fff" stop-opacity="0.381"/><stop offset="0.5300" stop-color="#fff" stop-opacity="0.390"/><stop offset="0.5560" stop-color="#fff" stop-opacity="0.406"/><stop offset="0.5782" stop-color="#fff" stop-opacity="0.432"/><stop offset="0.5819" stop-color="#fff" stop-opacity="0.433"/><stop offset="0.5893" stop-color="#fff" stop-opacity="0.408"/><stop offset="0.5930" stop-color="#fff" stop-opacity="0.414"/><stop offset="0.6227" stop-color="#fff" stop-opacity="0.490"/><stop offset="0.6338" stop-color="#fff" stop-opacity="0.556"/><stop offset="0.6672" stop-color="#fff" stop-opacity="0.637"/><stop offset="0.6783" stop-color="#fff" stop-opacity="0.626"/><stop offset="0.6894" stop-color="#fff" stop-opacity="0.630"/><stop offset="0.7191" stop-color="#fff" stop-opacity="0.669"/><stop offset="0.7487" stop-color="#fff" stop-opacity="0.688"/><stop offset="0.7784" stop-color="#fff" stop-opacity="0.679"/><stop offset="0.8228" stop-color="#fff" stop-opacity="0.609"/><stop offset="0.8451" stop-color="#fff" stop-opacity="0.620"/><stop offset="0.8784" stop-color="#fff" stop-opacity="0.531"/><stop offset="0.9451" stop-color="#fff" stop-opacity="0.427"/><stop offset="0.9600" stop-color="#fff" stop-opacity="0.381"/><stop offset="1.0000" stop-color="#fff" stop-opacity="0.358"/></linearGradient><linearGradient id="h5" gradientUnits="userSpaceOnUse" x1="134.8" y1="0" x2="944.2" y2="0"><stop offset="0.0000" stop-color="#fff" stop-opacity="0.290"/><stop offset="0.0185" stop-color="#fff" stop-opacity="0.300"/><stop offset="0.0482" stop-color="#fff" stop-opacity="0.353"/><stop offset="0.0778" stop-color="#fff" stop-opacity="0.391"/><stop offset="0.0815" stop-color="#fff" stop-opacity="0.394"/><stop offset="0.0927" stop-color="#fff" stop-opacity="0.375"/><stop offset="0.1223" stop-color="#fff" stop-opacity="0.453"/><stop offset="0.1408" stop-color="#fff" stop-opacity="0.539"/><stop offset="0.1631" stop-color="#fff" stop-opacity="0.597"/><stop offset="0.1742" stop-color="#fff" stop-opacity="0.584"/><stop offset="0.1853" stop-color="#fff" stop-opacity="0.588"/><stop offset="0.2187" stop-color="#fff" stop-opacity="0.633"/><stop offset="0.2483" stop-color="#fff" stop-opacity="0.650"/><stop offset="0.2743" stop-color="#fff" stop-opacity="0.640"/><stop offset="0.3188" stop-color="#fff" stop-opacity="0.566"/><stop offset="0.3410" stop-color="#fff" stop-opacity="0.582"/><stop offset="0.3744" stop-color="#fff" stop-opacity="0.494"/><stop offset="0.3892" stop-color="#fff" stop-opacity="0.416"/><stop offset="0.4077" stop-color="#fff" stop-opacity="0.367"/><stop offset="0.4225" stop-color="#fff" stop-opacity="0.380"/><stop offset="0.4485" stop-color="#fff" stop-opacity="0.347"/><stop offset="0.4818" stop-color="#fff" stop-opacity="0.327"/><stop offset="0.4893" stop-color="#fff" stop-opacity="0.283"/><stop offset="0.4930" stop-color="#fff" stop-opacity="0.273"/><stop offset="0.5189" stop-color="#fff" stop-opacity="0.275"/><stop offset="0.5263" stop-color="#fff" stop-opacity="0.321"/><stop offset="0.5300" stop-color="#fff" stop-opacity="0.330"/><stop offset="0.5560" stop-color="#fff" stop-opacity="0.348"/><stop offset="0.5782" stop-color="#fff" stop-opacity="0.375"/><stop offset="0.5819" stop-color="#fff" stop-opacity="0.376"/><stop offset="0.5893" stop-color="#fff" stop-opacity="0.349"/><stop offset="0.5930" stop-color="#fff" stop-opacity="0.355"/><stop offset="0.6227" stop-color="#fff" stop-opacity="0.435"/><stop offset="0.6338" stop-color="#fff" stop-opacity="0.510"/><stop offset="0.6672" stop-color="#fff" stop-opacity="0.597"/><stop offset="0.6783" stop-color="#fff" stop-opacity="0.584"/><stop offset="0.6894" stop-color="#fff" stop-opacity="0.588"/><stop offset="0.7191" stop-color="#fff" stop-opacity="0.630"/><stop offset="0.7487" stop-color="#fff" stop-opacity="0.650"/><stop offset="0.7784" stop-color="#fff" stop-opacity="0.640"/><stop offset="0.8228" stop-color="#fff" stop-opacity="0.566"/><stop offset="0.8451" stop-color="#fff" stop-opacity="0.579"/><stop offset="0.8821" stop-color="#fff" stop-opacity="0.473"/><stop offset="0.9451" stop-color="#fff" stop-opacity="0.369"/><stop offset="0.9600" stop-color="#fff" stop-opacity="0.320"/><stop offset="1.0000" stop-color="#fff" stop-opacity="0.296"/></linearGradient><linearGradient id="h6" gradientUnits="userSpaceOnUse" x1="134.8" y1="0" x2="944.2" y2="0"><stop offset="0.0000" stop-color="#fff" stop-opacity="0.257"/><stop offset="0.0185" stop-color="#fff" stop-opacity="0.268"/><stop offset="0.0482" stop-color="#fff" stop-opacity="0.321"/><stop offset="0.0778" stop-color="#fff" stop-opacity="0.358"/><stop offset="0.0815" stop-color="#fff" stop-opacity="0.361"/><stop offset="0.0927" stop-color="#fff" stop-opacity="0.340"/><stop offset="0.0964" stop-color="#fff" stop-opacity="0.347"/><stop offset="0.1223" stop-color="#fff" stop-opacity="0.413"/><stop offset="0.1408" stop-color="#fff" stop-opacity="0.502"/><stop offset="0.1631" stop-color="#fff" stop-opacity="0.555"/><stop offset="0.1742" stop-color="#fff" stop-opacity="0.534"/><stop offset="0.1853" stop-color="#fff" stop-opacity="0.531"/><stop offset="0.2298" stop-color="#fff" stop-opacity="0.570"/><stop offset="0.2483" stop-color="#fff" stop-opacity="0.575"/><stop offset="0.2743" stop-color="#fff" stop-opacity="0.566"/><stop offset="0.3188" stop-color="#fff" stop-opacity="0.510"/><stop offset="0.3410" stop-color="#fff" stop-opacity="0.541"/><stop offset="0.3744" stop-color="#fff" stop-opacity="0.456"/><stop offset="0.3892" stop-color="#fff" stop-opacity="0.379"/><stop offset="0.4077" stop-color="#fff" stop-opacity="0.332"/><stop offset="0.4225" stop-color="#fff" stop-opacity="0.347"/><stop offset="0.4485" stop-color="#fff" stop-opacity="0.315"/><stop offset="0.4818" stop-color="#fff" stop-opacity="0.296"/><stop offset="0.4893" stop-color="#fff" stop-opacity="0.251"/><stop offset="0.4930" stop-color="#fff" stop-opacity="0.240"/><stop offset="0.5189" stop-color="#fff" stop-opacity="0.242"/><stop offset="0.5263" stop-color="#fff" stop-opacity="0.289"/><stop offset="0.5300" stop-color="#fff" stop-opacity="0.299"/><stop offset="0.5560" stop-color="#fff" stop-opacity="0.316"/><stop offset="0.5782" stop-color="#fff" stop-opacity="0.342"/><stop offset="0.5819" stop-color="#fff" stop-opacity="0.343"/><stop offset="0.5893" stop-color="#fff" stop-opacity="0.314"/><stop offset="0.5930" stop-color="#fff" stop-opacity="0.320"/><stop offset="0.6227" stop-color="#fff" stop-opacity="0.396"/><stop offset="0.6338" stop-color="#fff" stop-opacity="0.472"/><stop offset="0.6672" stop-color="#fff" stop-opacity="0.555"/><stop offset="0.6783" stop-color="#fff" stop-opacity="0.534"/><stop offset="0.6894" stop-color="#fff" stop-opacity="0.531"/><stop offset="0.7487" stop-color="#fff" stop-opacity="0.575"/><stop offset="0.7784" stop-color="#fff" stop-opacity="0.566"/><stop offset="0.8228" stop-color="#fff" stop-opacity="0.510"/><stop offset="0.8451" stop-color="#fff" stop-opacity="0.537"/><stop offset="0.8784" stop-color="#fff" stop-opacity="0.443"/><stop offset="0.9451" stop-color="#fff" stop-opacity="0.338"/><stop offset="0.9600" stop-color="#fff" stop-opacity="0.288"/><stop offset="1.0000" stop-color="#fff" stop-opacity="0.264"/></linearGradient><linearGradient id="h7" gradientUnits="userSpaceOnUse" x1="134.8" y1="0" x2="944.2" y2="0"><stop offset="0.0000" stop-color="#fff" stop-opacity="0.146"/><stop offset="0.0185" stop-color="#fff" stop-opacity="0.152"/><stop offset="0.0482" stop-color="#fff" stop-opacity="0.193"/><stop offset="0.0778" stop-color="#fff" stop-opacity="0.195"/><stop offset="0.0815" stop-color="#fff" stop-opacity="0.191"/><stop offset="0.0927" stop-color="#fff" stop-opacity="0.140"/><stop offset="0.1075" stop-color="#fff" stop-opacity="0.136"/><stop offset="0.1112" stop-color="#fff" stop-opacity="0.158"/><stop offset="0.1149" stop-color="#fff" stop-opacity="0.194"/><stop offset="0.1408" stop-color="#fff" stop-opacity="0.489"/><stop offset="0.1483" stop-color="#fff" stop-opacity="0.559"/><stop offset="0.1594" stop-color="#fff" stop-opacity="0.637"/><stop offset="0.1631" stop-color="#fff" stop-opacity="0.653"/><stop offset="0.1705" stop-color="#fff" stop-opacity="0.661"/><stop offset="0.2224" stop-color="#fff" stop-opacity="0.607"/><stop offset="0.2335" stop-color="#fff" stop-opacity="0.605"/><stop offset="0.2817" stop-color="#fff" stop-opacity="0.608"/><stop offset="0.3262" stop-color="#fff" stop-opacity="0.647"/><stop offset="0.3373" stop-color="#fff" stop-opacity="0.640"/><stop offset="0.3447" stop-color="#fff" stop-opacity="0.608"/><stop offset="0.3521" stop-color="#fff" stop-opacity="0.552"/><stop offset="0.3632" stop-color="#fff" stop-opacity="0.441"/><stop offset="0.3855" stop-color="#fff" stop-opacity="0.188"/><stop offset="0.3892" stop-color="#fff" stop-opacity="0.151"/><stop offset="0.3929" stop-color="#fff" stop-opacity="0.132"/><stop offset="0.4077" stop-color="#fff" stop-opacity="0.132"/><stop offset="0.4188" stop-color="#fff" stop-opacity="0.177"/><stop offset="0.4225" stop-color="#fff" stop-opacity="0.184"/><stop offset="0.4818" stop-color="#fff" stop-opacity="0.184"/><stop offset="0.4893" stop-color="#fff" stop-opacity="0.136"/><stop offset="0.4930" stop-color="#fff" stop-opacity="0.125"/><stop offset="0.5189" stop-color="#fff" stop-opacity="0.125"/><stop offset="0.5263" stop-color="#fff" stop-opacity="0.174"/><stop offset="0.5300" stop-color="#fff" stop-opacity="0.184"/><stop offset="0.5782" stop-color="#fff" stop-opacity="0.184"/><stop offset="0.5819" stop-color="#fff" stop-opacity="0.177"/><stop offset="0.5893" stop-color="#fff" stop-opacity="0.127"/><stop offset="0.6116" stop-color="#fff" stop-opacity="0.125"/><stop offset="0.6227" stop-color="#fff" stop-opacity="0.232"/><stop offset="0.6375" stop-color="#fff" stop-opacity="0.408"/><stop offset="0.6486" stop-color="#fff" stop-opacity="0.525"/><stop offset="0.6560" stop-color="#fff" stop-opacity="0.588"/><stop offset="0.6635" stop-color="#fff" stop-opacity="0.636"/><stop offset="0.6709" stop-color="#fff" stop-opacity="0.659"/><stop offset="0.6857" stop-color="#fff" stop-opacity="0.654"/><stop offset="0.7265" stop-color="#fff" stop-opacity="0.607"/><stop offset="0.7450" stop-color="#fff" stop-opacity="0.605"/><stop offset="0.7895" stop-color="#fff" stop-opacity="0.609"/><stop offset="0.8340" stop-color="#fff" stop-opacity="0.648"/><stop offset="0.8451" stop-color="#fff" stop-opacity="0.627"/><stop offset="0.8525" stop-color="#fff" stop-opacity="0.577"/><stop offset="0.8636" stop-color="#fff" stop-opacity="0.476"/><stop offset="0.8895" stop-color="#fff" stop-opacity="0.190"/><stop offset="0.8933" stop-color="#fff" stop-opacity="0.180"/><stop offset="0.9081" stop-color="#fff" stop-opacity="0.201"/><stop offset="0.9451" stop-color="#fff" stop-opacity="0.201"/><stop offset="0.9600" stop-color="#fff" stop-opacity="0.159"/><stop offset="1.0000" stop-color="#fff" stop-opacity="0.152"/></linearGradient><linearGradient id="h8" gradientUnits="userSpaceOnUse" x1="134.8" y1="0" x2="944.2" y2="0"><stop offset="0.0000" stop-color="#fff" stop-opacity="0.000"/><stop offset="0.0815" stop-color="#fff" stop-opacity="0.002"/><stop offset="0.0927" stop-color="#fff" stop-opacity="0.012"/><stop offset="0.1001" stop-color="#fff" stop-opacity="0.031"/><stop offset="0.1075" stop-color="#fff" stop-opacity="0.065"/><stop offset="0.1186" stop-color="#fff" stop-opacity="0.150"/><stop offset="0.1260" stop-color="#fff" stop-opacity="0.227"/><stop offset="0.1446" stop-color="#fff" stop-opacity="0.446"/><stop offset="0.1557" stop-color="#fff" stop-opacity="0.551"/><stop offset="0.1631" stop-color="#fff" stop-opacity="0.600"/><stop offset="0.1705" stop-color="#fff" stop-opacity="0.615"/><stop offset="0.1779" stop-color="#fff" stop-opacity="0.615"/><stop offset="0.2298" stop-color="#fff" stop-opacity="0.567"/><stop offset="0.2817" stop-color="#fff" stop-opacity="0.569"/><stop offset="0.3262" stop-color="#fff" stop-opacity="0.602"/><stop offset="0.3336" stop-color="#fff" stop-opacity="0.595"/><stop offset="0.3410" stop-color="#fff" stop-opacity="0.570"/><stop offset="0.3484" stop-color="#fff" stop-opacity="0.512"/><stop offset="0.3558" stop-color="#fff" stop-opacity="0.437"/><stop offset="0.3781" stop-color="#fff" stop-opacity="0.183"/><stop offset="0.3855" stop-color="#fff" stop-opacity="0.112"/><stop offset="0.3929" stop-color="#fff" stop-opacity="0.061"/><stop offset="0.4003" stop-color="#fff" stop-opacity="0.028"/><stop offset="0.4077" stop-color="#fff" stop-opacity="0.011"/><stop offset="0.4299" stop-color="#fff" stop-opacity="0.000"/><stop offset="0.5782" stop-color="#fff" stop-opacity="0.000"/><stop offset="0.5930" stop-color="#fff" stop-opacity="0.007"/><stop offset="0.6004" stop-color="#fff" stop-opacity="0.019"/><stop offset="0.6116" stop-color="#fff" stop-opacity="0.065"/><stop offset="0.6190" stop-color="#fff" stop-opacity="0.117"/><stop offset="0.6264" stop-color="#fff" stop-opacity="0.188"/><stop offset="0.6523" stop-color="#fff" stop-opacity="0.483"/><stop offset="0.6635" stop-color="#fff" stop-opacity="0.578"/><stop offset="0.6709" stop-color="#fff" stop-opacity="0.610"/><stop offset="0.6857" stop-color="#fff" stop-opacity="0.613"/><stop offset="0.7265" stop-color="#fff" stop-opacity="0.568"/><stop offset="0.7450" stop-color="#fff" stop-opacity="0.566"/><stop offset="0.7858" stop-color="#fff" stop-opacity="0.569"/><stop offset="0.8340" stop-color="#fff" stop-opacity="0.600"/><stop offset="0.8414" stop-color="#fff" stop-opacity="0.584"/><stop offset="0.8451" stop-color="#fff" stop-opacity="0.568"/><stop offset="0.8488" stop-color="#fff" stop-opacity="0.540"/><stop offset="0.8599" stop-color="#fff" stop-opacity="0.433"/><stop offset="0.8784" stop-color="#fff" stop-opacity="0.221"/><stop offset="0.8858" stop-color="#fff" stop-opacity="0.146"/><stop offset="0.8970" stop-color="#fff" stop-opacity="0.062"/><stop offset="0.9044" stop-color="#fff" stop-opacity="0.029"/><stop offset="0.9118" stop-color="#fff" stop-opacity="0.011"/><stop offset="0.9229" stop-color="#fff" stop-opacity="0.002"/><stop offset="1.0000" stop-color="#fff" stop-opacity="0.000"/></linearGradient><linearGradient id="h9" gradientUnits="userSpaceOnUse" x1="134.8" y1="0" x2="944.2" y2="0"><stop offset="0.0000" stop-color="#fff" stop-opacity="0.000"/><stop offset="0.0852" stop-color="#fff" stop-opacity="0.001"/><stop offset="0.0964" stop-color="#fff" stop-opacity="0.008"/><stop offset="0.1038" stop-color="#fff" stop-opacity="0.023"/><stop offset="0.1149" stop-color="#fff" stop-opacity="0.074"/><stop offset="0.1223" stop-color="#fff" stop-opacity="0.132"/><stop offset="0.1297" stop-color="#fff" stop-opacity="0.209"/><stop offset="0.1483" stop-color="#fff" stop-opacity="0.426"/><stop offset="0.1594" stop-color="#fff" stop-opacity="0.530"/><stop offset="0.1668" stop-color="#fff" stop-opacity="0.567"/><stop offset="0.1779" stop-color="#fff" stop-opacity="0.578"/><stop offset="0.2261" stop-color="#fff" stop-opacity="0.534"/><stop offset="0.2817" stop-color="#fff" stop-opacity="0.535"/><stop offset="0.3262" stop-color="#fff" stop-opacity="0.562"/><stop offset="0.3336" stop-color="#fff" stop-opacity="0.551"/><stop offset="0.3410" stop-color="#fff" stop-opacity="0.521"/><stop offset="0.3447" stop-color="#fff" stop-opacity="0.491"/><stop offset="0.3521" stop-color="#fff" stop-opacity="0.417"/><stop offset="0.3744" stop-color="#fff" stop-opacity="0.164"/><stop offset="0.3855" stop-color="#fff" stop-opacity="0.070"/><stop offset="0.3929" stop-color="#fff" stop-opacity="0.033"/><stop offset="0.4003" stop-color="#fff" stop-opacity="0.012"/><stop offset="0.4225" stop-color="#fff" stop-opacity="0.000"/><stop offset="0.5819" stop-color="#fff" stop-opacity="0.000"/><stop offset="0.6004" stop-color="#fff" stop-opacity="0.008"/><stop offset="0.6116" stop-color="#fff" stop-opacity="0.035"/><stop offset="0.6227" stop-color="#fff" stop-opacity="0.101"/><stop offset="0.6301" stop-color="#fff" stop-opacity="0.170"/><stop offset="0.6560" stop-color="#fff" stop-opacity="0.463"/><stop offset="0.6635" stop-color="#fff" stop-opacity="0.530"/><stop offset="0.6709" stop-color="#fff" stop-opacity="0.567"/><stop offset="0.6857" stop-color="#fff" stop-opacity="0.577"/><stop offset="0.7265" stop-color="#fff" stop-opacity="0.535"/><stop offset="0.7487" stop-color="#fff" stop-opacity="0.533"/><stop offset="0.7858" stop-color="#fff" stop-opacity="0.535"/><stop offset="0.8302" stop-color="#fff" stop-opacity="0.562"/><stop offset="0.8377" stop-color="#fff" stop-opacity="0.551"/><stop offset="0.8451" stop-color="#fff" stop-opacity="0.519"/><stop offset="0.8562" stop-color="#fff" stop-opacity="0.413"/><stop offset="0.8747" stop-color="#fff" stop-opacity="0.201"/><stop offset="0.8821" stop-color="#fff" stop-opacity="0.128"/><stop offset="0.8895" stop-color="#fff" stop-opacity="0.071"/><stop offset="0.8970" stop-color="#fff" stop-opacity="0.033"/><stop offset="0.9044" stop-color="#fff" stop-opacity="0.013"/><stop offset="0.9155" stop-color="#fff" stop-opacity="0.002"/><stop offset="1.0000" stop-color="#fff" stop-opacity="0.000"/></linearGradient><linearGradient id="h10" gradientUnits="userSpaceOnUse" x1="134.8" y1="0" x2="944.2" y2="0"><stop offset="0.0000" stop-color="#fff" stop-opacity="0.000"/><stop offset="0.0890" stop-color="#fff" stop-opacity="0.001"/><stop offset="0.1075" stop-color="#fff" stop-opacity="0.020"/><stop offset="0.1186" stop-color="#fff" stop-opacity="0.068"/><stop offset="0.1260" stop-color="#fff" stop-opacity="0.125"/><stop offset="0.1483" stop-color="#fff" stop-opacity="0.370"/><stop offset="0.1594" stop-color="#fff" stop-opacity="0.477"/><stop offset="0.1631" stop-color="#fff" stop-opacity="0.503"/><stop offset="0.1668" stop-color="#fff" stop-opacity="0.516"/><stop offset="0.1779" stop-color="#fff" stop-opacity="0.526"/><stop offset="0.2224" stop-color="#fff" stop-opacity="0.479"/><stop offset="0.2817" stop-color="#fff" stop-opacity="0.479"/><stop offset="0.3262" stop-color="#fff" stop-opacity="0.509"/><stop offset="0.3336" stop-color="#fff" stop-opacity="0.499"/><stop offset="0.3410" stop-color="#fff" stop-opacity="0.467"/><stop offset="0.3447" stop-color="#fff" stop-opacity="0.436"/><stop offset="0.3706" stop-color="#fff" stop-opacity="0.156"/><stop offset="0.3818" stop-color="#fff" stop-opacity="0.065"/><stop offset="0.3892" stop-color="#fff" stop-opacity="0.029"/><stop offset="0.3966" stop-color="#fff" stop-opacity="0.010"/><stop offset="0.4188" stop-color="#fff" stop-opacity="0.000"/><stop offset="0.6042" stop-color="#fff" stop-opacity="0.006"/><stop offset="0.6153" stop-color="#fff" stop-opacity="0.031"/><stop offset="0.6264" stop-color="#fff" stop-opacity="0.094"/><stop offset="0.6338" stop-color="#fff" stop-opacity="0.163"/><stop offset="0.6597" stop-color="#fff" stop-opacity="0.444"/><stop offset="0.6672" stop-color="#fff" stop-opacity="0.503"/><stop offset="0.6709" stop-color="#fff" stop-opacity="0.516"/><stop offset="0.6857" stop-color="#fff" stop-opacity="0.524"/><stop offset="0.7265" stop-color="#fff" stop-opacity="0.479"/><stop offset="0.7450" stop-color="#fff" stop-opacity="0.477"/><stop offset="0.7895" stop-color="#fff" stop-opacity="0.480"/><stop offset="0.8302" stop-color="#fff" stop-opacity="0.509"/><stop offset="0.8377" stop-color="#fff" stop-opacity="0.498"/><stop offset="0.8451" stop-color="#fff" stop-opacity="0.465"/><stop offset="0.8525" stop-color="#fff" stop-opacity="0.396"/><stop offset="0.8710" stop-color="#fff" stop-opacity="0.192"/><stop offset="0.8784" stop-color="#fff" stop-opacity="0.120"/><stop offset="0.8858" stop-color="#fff" stop-opacity="0.065"/><stop offset="0.8970" stop-color="#fff" stop-opacity="0.018"/><stop offset="0.9155" stop-color="#fff" stop-opacity="0.001"/><stop offset="1.0000" stop-color="#fff" stop-opacity="0.000"/></linearGradient><linearGradient id="h11" gradientUnits="userSpaceOnUse" x1="134.8" y1="0" x2="944.2" y2="0"><stop offset="0.0000" stop-color="#fff" stop-opacity="0.000"/><stop offset="0.0927" stop-color="#fff" stop-opacity="0.000"/><stop offset="0.1112" stop-color="#fff" stop-opacity="0.016"/><stop offset="0.1186" stop-color="#fff" stop-opacity="0.041"/><stop offset="0.1260" stop-color="#fff" stop-opacity="0.084"/><stop offset="0.1334" stop-color="#fff" stop-opacity="0.147"/><stop offset="0.1520" stop-color="#fff" stop-opacity="0.341"/><stop offset="0.1594" stop-color="#fff" stop-opacity="0.407"/><stop offset="0.1631" stop-color="#fff" stop-opacity="0.432"/><stop offset="0.1705" stop-color="#fff" stop-opacity="0.449"/><stop offset="0.1816" stop-color="#fff" stop-opacity="0.445"/><stop offset="0.2039" stop-color="#fff" stop-opacity="0.409"/><stop offset="0.2261" stop-color="#fff" stop-opacity="0.388"/><stop offset="0.2817" stop-color="#fff" stop-opacity="0.389"/><stop offset="0.3262" stop-color="#fff" stop-opacity="0.432"/><stop offset="0.3336" stop-color="#fff" stop-opacity="0.426"/><stop offset="0.3410" stop-color="#fff" stop-opacity="0.397"/><stop offset="0.3447" stop-color="#fff" stop-opacity="0.367"/><stop offset="0.3669" stop-color="#fff" stop-opacity="0.142"/><stop offset="0.3781" stop-color="#fff" stop-opacity="0.057"/><stop offset="0.3892" stop-color="#fff" stop-opacity="0.014"/><stop offset="0.4114" stop-color="#fff" stop-opacity="0.000"/><stop offset="0.6079" stop-color="#fff" stop-opacity="0.005"/><stop offset="0.6190" stop-color="#fff" stop-opacity="0.026"/><stop offset="0.6301" stop-color="#fff" stop-opacity="0.085"/><stop offset="0.6375" stop-color="#fff" stop-opacity="0.149"/><stop offset="0.6597" stop-color="#fff" stop-opacity="0.375"/><stop offset="0.6672" stop-color="#fff" stop-opacity="0.432"/><stop offset="0.6709" stop-color="#fff" stop-opacity="0.444"/><stop offset="0.6857" stop-color="#fff" stop-opacity="0.445"/><stop offset="0.7265" stop-color="#fff" stop-opacity="0.389"/><stop offset="0.7376" stop-color="#fff" stop-opacity="0.387"/><stop offset="0.7895" stop-color="#fff" stop-opacity="0.390"/><stop offset="0.8340" stop-color="#fff" stop-opacity="0.431"/><stop offset="0.8414" stop-color="#fff" stop-opacity="0.413"/><stop offset="0.8451" stop-color="#fff" stop-opacity="0.395"/><stop offset="0.8747" stop-color="#fff" stop-opacity="0.108"/><stop offset="0.8821" stop-color="#fff" stop-opacity="0.057"/><stop offset="0.8933" stop-color="#fff" stop-opacity="0.015"/><stop offset="0.9118" stop-color="#fff" stop-opacity="0.000"/><stop offset="1.0000" stop-color="#fff" stop-opacity="0.000"/></linearGradient><linearGradient id="h12" gradientUnits="userSpaceOnUse" x1="134.8" y1="0" x2="944.2" y2="0"><stop offset="0.0000" stop-color="#fff" stop-opacity="0.000"/><stop offset="0.1001" stop-color="#fff" stop-opacity="0.000"/><stop offset="0.1186" stop-color="#fff" stop-opacity="0.019"/><stop offset="0.1260" stop-color="#fff" stop-opacity="0.047"/><stop offset="0.1334" stop-color="#fff" stop-opacity="0.097"/><stop offset="0.1557" stop-color="#fff" stop-opacity="0.318"/><stop offset="0.1631" stop-color="#fff" stop-opacity="0.380"/><stop offset="0.1705" stop-color="#fff" stop-opacity="0.403"/><stop offset="0.1779" stop-color="#fff" stop-opacity="0.406"/><stop offset="0.2261" stop-color="#fff" stop-opacity="0.347"/><stop offset="0.2817" stop-color="#fff" stop-opacity="0.348"/><stop offset="0.3113" stop-color="#fff" stop-opacity="0.377"/><stop offset="0.3299" stop-color="#fff" stop-opacity="0.384"/><stop offset="0.3373" stop-color="#fff" stop-opacity="0.363"/><stop offset="0.3410" stop-color="#fff" stop-opacity="0.342"/><stop offset="0.3632" stop-color="#fff" stop-opacity="0.123"/><stop offset="0.3744" stop-color="#fff" stop-opacity="0.045"/><stop offset="0.3855" stop-color="#fff" stop-opacity="0.009"/><stop offset="0.4040" stop-color="#fff" stop-opacity="0.000"/><stop offset="0.6153" stop-color="#fff" stop-opacity="0.005"/><stop offset="0.6264" stop-color="#fff" stop-opacity="0.031"/><stop offset="0.6338" stop-color="#fff" stop-opacity="0.071"/><stop offset="0.6412" stop-color="#fff" stop-opacity="0.130"/><stop offset="0.6635" stop-color="#fff" stop-opacity="0.352"/><stop offset="0.6672" stop-color="#fff" stop-opacity="0.380"/><stop offset="0.6746" stop-color="#fff" stop-opacity="0.403"/><stop offset="0.6857" stop-color="#fff" stop-opacity="0.403"/><stop offset="0.7079" stop-color="#fff" stop-opacity="0.369"/><stop offset="0.7339" stop-color="#fff" stop-opacity="0.346"/><stop offset="0.7895" stop-color="#fff" stop-opacity="0.349"/><stop offset="0.8302" stop-color="#fff" stop-opacity="0.387"/><stop offset="0.8377" stop-color="#fff" stop-opacity="0.376"/><stop offset="0.8451" stop-color="#fff" stop-opacity="0.339"/><stop offset="0.8636" stop-color="#fff" stop-opacity="0.155"/><stop offset="0.8710" stop-color="#fff" stop-opacity="0.090"/><stop offset="0.8784" stop-color="#fff" stop-opacity="0.044"/><stop offset="0.8858" stop-color="#fff" stop-opacity="0.017"/><stop offset="0.9044" stop-color="#fff" stop-opacity="0.000"/><stop offset="1.0000" stop-color="#fff" stop-opacity="0.000"/></linearGradient><linearGradient id="h13" gradientUnits="userSpaceOnUse" x1="134.8" y1="0" x2="944.2" y2="0"><stop offset="0.0000" stop-color="#fff" stop-opacity="0.000"/><stop offset="0.1075" stop-color="#fff" stop-opacity="0.000"/><stop offset="0.1223" stop-color="#fff" stop-opacity="0.012"/><stop offset="0.1297" stop-color="#fff" stop-opacity="0.036"/><stop offset="0.1371" stop-color="#fff" stop-opacity="0.081"/><stop offset="0.1631" stop-color="#fff" stop-opacity="0.327"/><stop offset="0.1705" stop-color="#fff" stop-opacity="0.357"/><stop offset="0.1779" stop-color="#fff" stop-opacity="0.364"/><stop offset="0.2261" stop-color="#fff" stop-opacity="0.308"/><stop offset="0.2817" stop-color="#fff" stop-opacity="0.310"/><stop offset="0.3113" stop-color="#fff" stop-opacity="0.338"/><stop offset="0.3299" stop-color="#fff" stop-opacity="0.337"/><stop offset="0.3373" stop-color="#fff" stop-opacity="0.309"/><stop offset="0.3410" stop-color="#fff" stop-opacity="0.285"/><stop offset="0.3558" stop-color="#fff" stop-opacity="0.138"/><stop offset="0.3669" stop-color="#fff" stop-opacity="0.052"/><stop offset="0.3744" stop-color="#fff" stop-opacity="0.021"/><stop offset="0.3855" stop-color="#fff" stop-opacity="0.003"/><stop offset="0.6042" stop-color="#fff" stop-opacity="0.000"/><stop offset="0.6227" stop-color="#fff" stop-opacity="0.006"/><stop offset="0.6338" stop-color="#fff" stop-opacity="0.037"/><stop offset="0.6412" stop-color="#fff" stop-opacity="0.081"/><stop offset="0.6486" stop-color="#fff" stop-opacity="0.145"/><stop offset="0.6672" stop-color="#fff" stop-opacity="0.327"/><stop offset="0.6746" stop-color="#fff" stop-opacity="0.357"/><stop offset="0.6820" stop-color="#fff" stop-opacity="0.364"/><stop offset="0.7302" stop-color="#fff" stop-opacity="0.308"/><stop offset="0.7858" stop-color="#fff" stop-opacity="0.310"/><stop offset="0.8154" stop-color="#fff" stop-opacity="0.338"/><stop offset="0.8302" stop-color="#fff" stop-opacity="0.343"/><stop offset="0.8377" stop-color="#fff" stop-opacity="0.326"/><stop offset="0.8414" stop-color="#fff" stop-opacity="0.308"/><stop offset="0.8451" stop-color="#fff" stop-opacity="0.283"/><stop offset="0.8599" stop-color="#fff" stop-opacity="0.135"/><stop offset="0.8673" stop-color="#fff" stop-opacity="0.074"/><stop offset="0.8747" stop-color="#fff" stop-opacity="0.033"/><stop offset="0.8821" stop-color="#fff" stop-opacity="0.011"/><stop offset="0.8970" stop-color="#fff" stop-opacity="0.000"/><stop offset="1.0000" stop-color="#fff" stop-opacity="0.000"/></linearGradient><linearGradient id="h14" gradientUnits="userSpaceOnUse" x1="134.8" y1="0" x2="944.2" y2="0"><stop offset="0.0000" stop-color="#fff" stop-opacity="0.000"/><stop offset="0.1112" stop-color="#fff" stop-opacity="0.000"/><stop offset="0.1260" stop-color="#fff" stop-opacity="0.008"/><stop offset="0.1334" stop-color="#fff" stop-opacity="0.027"/><stop offset="0.1408" stop-color="#fff" stop-opacity="0.067"/><stop offset="0.1483" stop-color="#fff" stop-opacity="0.128"/><stop offset="0.1631" stop-color="#fff" stop-opacity="0.277"/><stop offset="0.1668" stop-color="#fff" stop-opacity="0.301"/><stop offset="0.1705" stop-color="#fff" stop-opacity="0.318"/><stop offset="0.1816" stop-color="#fff" stop-opacity="0.337"/><stop offset="0.2261" stop-color="#fff" stop-opacity="0.289"/><stop offset="0.2817" stop-color="#fff" stop-opacity="0.290"/><stop offset="0.3113" stop-color="#fff" stop-opacity="0.315"/><stop offset="0.3262" stop-color="#fff" stop-opacity="0.309"/><stop offset="0.3336" stop-color="#fff" stop-opacity="0.282"/><stop offset="0.3373" stop-color="#fff" stop-opacity="0.259"/><stop offset="0.3558" stop-color="#fff" stop-opacity="0.089"/><stop offset="0.3632" stop-color="#fff" stop-opacity="0.041"/><stop offset="0.3706" stop-color="#fff" stop-opacity="0.014"/><stop offset="0.3818" stop-color="#fff" stop-opacity="0.001"/><stop offset="0.6264" stop-color="#fff" stop-opacity="0.004"/><stop offset="0.6375" stop-color="#fff" stop-opacity="0.028"/><stop offset="0.6449" stop-color="#fff" stop-opacity="0.067"/><stop offset="0.6523" stop-color="#fff" stop-opacity="0.128"/><stop offset="0.6672" stop-color="#fff" stop-opacity="0.277"/><stop offset="0.6709" stop-color="#fff" stop-opacity="0.301"/><stop offset="0.6746" stop-color="#fff" stop-opacity="0.318"/><stop offset="0.6857" stop-color="#fff" stop-opacity="0.337"/><stop offset="0.7302" stop-color="#fff" stop-opacity="0.289"/><stop offset="0.7858" stop-color="#fff" stop-opacity="0.290"/><stop offset="0.8154" stop-color="#fff" stop-opacity="0.315"/><stop offset="0.8302" stop-color="#fff" stop-opacity="0.309"/><stop offset="0.8340" stop-color="#fff" stop-opacity="0.299"/><stop offset="0.8414" stop-color="#fff" stop-opacity="0.258"/><stop offset="0.8562" stop-color="#fff" stop-opacity="0.118"/><stop offset="0.8636" stop-color="#fff" stop-opacity="0.061"/><stop offset="0.8747" stop-color="#fff" stop-opacity="0.014"/><stop offset="0.8895" stop-color="#fff" stop-opacity="0.000"/><stop offset="1.0000" stop-color="#fff" stop-opacity="0.000"/></linearGradient><linearGradient id="h15" gradientUnits="userSpaceOnUse" x1="134.8" y1="0" x2="944.2" y2="0"><stop offset="0.0000" stop-color="#fff" stop-opacity="0.000"/><stop offset="0.1186" stop-color="#fff" stop-opacity="0.000"/><stop offset="0.1334" stop-color="#fff" stop-opacity="0.010"/><stop offset="0.1408" stop-color="#fff" stop-opacity="0.034"/><stop offset="0.1483" stop-color="#fff" stop-opacity="0.080"/><stop offset="0.1631" stop-color="#fff" stop-opacity="0.222"/><stop offset="0.1705" stop-color="#fff" stop-opacity="0.273"/><stop offset="0.1779" stop-color="#fff" stop-opacity="0.301"/><stop offset="0.1853" stop-color="#fff" stop-opacity="0.309"/><stop offset="0.1927" stop-color="#fff" stop-opacity="0.308"/><stop offset="0.2224" stop-color="#fff" stop-opacity="0.272"/><stop offset="0.2817" stop-color="#fff" stop-opacity="0.272"/><stop offset="0.3113" stop-color="#fff" stop-opacity="0.292"/><stop offset="0.3225" stop-color="#fff" stop-opacity="0.279"/><stop offset="0.3262" stop-color="#fff" stop-opacity="0.271"/><stop offset="0.3336" stop-color="#fff" stop-opacity="0.233"/><stop offset="0.3410" stop-color="#fff" stop-opacity="0.175"/><stop offset="0.3484" stop-color="#fff" stop-opacity="0.104"/><stop offset="0.3558" stop-color="#fff" stop-opacity="0.049"/><stop offset="0.3632" stop-color="#fff" stop-opacity="0.017"/><stop offset="0.3744" stop-color="#fff" stop-opacity="0.002"/><stop offset="0.6338" stop-color="#fff" stop-opacity="0.005"/><stop offset="0.6412" stop-color="#fff" stop-opacity="0.019"/><stop offset="0.6486" stop-color="#fff" stop-opacity="0.054"/><stop offset="0.6560" stop-color="#fff" stop-opacity="0.111"/><stop offset="0.6672" stop-color="#fff" stop-opacity="0.222"/><stop offset="0.6746" stop-color="#fff" stop-opacity="0.273"/><stop offset="0.6820" stop-color="#fff" stop-opacity="0.301"/><stop offset="0.6894" stop-color="#fff" stop-opacity="0.309"/><stop offset="0.6968" stop-color="#fff" stop-opacity="0.308"/><stop offset="0.7265" stop-color="#fff" stop-opacity="0.272"/><stop offset="0.7858" stop-color="#fff" stop-opacity="0.272"/><stop offset="0.8154" stop-color="#fff" stop-opacity="0.292"/><stop offset="0.8265" stop-color="#fff" stop-opacity="0.279"/><stop offset="0.8302" stop-color="#fff" stop-opacity="0.271"/><stop offset="0.8377" stop-color="#fff" stop-opacity="0.233"/><stop offset="0.8451" stop-color="#fff" stop-opacity="0.173"/><stop offset="0.8525" stop-color="#fff" stop-opacity="0.102"/><stop offset="0.8599" stop-color="#fff" stop-opacity="0.048"/><stop offset="0.8673" stop-color="#fff" stop-opacity="0.017"/><stop offset="0.8747" stop-color="#fff" stop-opacity="0.004"/><stop offset="1.0000" stop-color="#fff" stop-opacity="0.000"/></linearGradient><linearGradient id="h16" gradientUnits="userSpaceOnUse" x1="134.8" y1="0" x2="944.2" y2="0"><stop offset="0.0000" stop-color="#fff" stop-opacity="0.000"/><stop offset="0.1260" stop-color="#fff" stop-opacity="0.000"/><stop offset="0.1408" stop-color="#fff" stop-opacity="0.010"/><stop offset="0.1483" stop-color="#fff" stop-opacity="0.034"/><stop offset="0.1520" stop-color="#fff" stop-opacity="0.056"/><stop offset="0.1668" stop-color="#fff" stop-opacity="0.189"/><stop offset="0.1779" stop-color="#fff" stop-opacity="0.263"/><stop offset="0.1816" stop-color="#fff" stop-opacity="0.278"/><stop offset="0.1927" stop-color="#fff" stop-opacity="0.295"/><stop offset="0.2261" stop-color="#fff" stop-opacity="0.268"/><stop offset="0.2817" stop-color="#fff" stop-opacity="0.268"/><stop offset="0.3002" stop-color="#fff" stop-opacity="0.281"/><stop offset="0.3113" stop-color="#fff" stop-opacity="0.275"/><stop offset="0.3262" stop-color="#fff" stop-opacity="0.225"/><stop offset="0.3336" stop-color="#fff" stop-opacity="0.174"/><stop offset="0.3447" stop-color="#fff" stop-opacity="0.078"/><stop offset="0.3521" stop-color="#fff" stop-opacity="0.031"/><stop offset="0.3595" stop-color="#fff" stop-opacity="0.008"/><stop offset="0.3669" stop-color="#fff" stop-opacity="0.001"/><stop offset="0.6412" stop-color="#fff" stop-opacity="0.004"/><stop offset="0.6486" stop-color="#fff" stop-opacity="0.019"/><stop offset="0.6560" stop-color="#fff" stop-opacity="0.056"/><stop offset="0.6709" stop-color="#fff" stop-opacity="0.189"/><stop offset="0.6820" stop-color="#fff" stop-opacity="0.263"/><stop offset="0.6857" stop-color="#fff" stop-opacity="0.278"/><stop offset="0.6968" stop-color="#fff" stop-opacity="0.295"/><stop offset="0.7302" stop-color="#fff" stop-opacity="0.268"/><stop offset="0.7858" stop-color="#fff" stop-opacity="0.268"/><stop offset="0.8043" stop-color="#fff" stop-opacity="0.281"/><stop offset="0.8154" stop-color="#fff" stop-opacity="0.275"/><stop offset="0.8302" stop-color="#fff" stop-opacity="0.225"/><stop offset="0.8377" stop-color="#fff" stop-opacity="0.173"/><stop offset="0.8488" stop-color="#fff" stop-opacity="0.077"/><stop offset="0.8562" stop-color="#fff" stop-opacity="0.030"/><stop offset="0.8673" stop-color="#fff" stop-opacity="0.003"/><stop offset="1.0000" stop-color="#fff" stop-opacity="0.000"/></linearGradient><linearGradient id="h17" gradientUnits="userSpaceOnUse" x1="134.8" y1="0" x2="944.2" y2="0"><stop offset="0.0000" stop-color="#fff" stop-opacity="0.000"/><stop offset="0.1446" stop-color="#fff" stop-opacity="0.004"/><stop offset="0.1557" stop-color="#fff" stop-opacity="0.035"/><stop offset="0.1816" stop-color="#fff" stop-opacity="0.235"/><stop offset="0.1890" stop-color="#fff" stop-opacity="0.263"/><stop offset="0.1964" stop-color="#fff" stop-opacity="0.276"/><stop offset="0.2335" stop-color="#fff" stop-opacity="0.261"/><stop offset="0.2965" stop-color="#fff" stop-opacity="0.267"/><stop offset="0.3076" stop-color="#fff" stop-opacity="0.254"/><stop offset="0.3150" stop-color="#fff" stop-opacity="0.232"/><stop offset="0.3225" stop-color="#fff" stop-opacity="0.193"/><stop offset="0.3447" stop-color="#fff" stop-opacity="0.031"/><stop offset="0.3521" stop-color="#fff" stop-opacity="0.008"/><stop offset="0.3595" stop-color="#fff" stop-opacity="0.001"/><stop offset="0.6486" stop-color="#fff" stop-opacity="0.004"/><stop offset="0.6597" stop-color="#fff" stop-opacity="0.035"/><stop offset="0.6857" stop-color="#fff" stop-opacity="0.235"/><stop offset="0.6931" stop-color="#fff" stop-opacity="0.263"/><stop offset="0.7005" stop-color="#fff" stop-opacity="0.276"/><stop offset="0.7376" stop-color="#fff" stop-opacity="0.261"/><stop offset="0.8006" stop-color="#fff" stop-opacity="0.267"/><stop offset="0.8117" stop-color="#fff" stop-opacity="0.254"/><stop offset="0.8191" stop-color="#fff" stop-opacity="0.232"/><stop offset="0.8265" stop-color="#fff" stop-opacity="0.193"/><stop offset="0.8414" stop-color="#fff" stop-opacity="0.079"/><stop offset="0.8488" stop-color="#fff" stop-opacity="0.031"/><stop offset="0.8599" stop-color="#fff" stop-opacity="0.003"/><stop offset="1.0000" stop-color="#fff" stop-opacity="0.000"/></linearGradient><linearGradient id="h18" gradientUnits="userSpaceOnUse" x1="134.8" y1="0" x2="944.2" y2="0"><stop offset="0.0000" stop-color="#fff" stop-opacity="0.000"/><stop offset="0.1520" stop-color="#fff" stop-opacity="0.005"/><stop offset="0.1594" stop-color="#fff" stop-opacity="0.024"/><stop offset="0.1631" stop-color="#fff" stop-opacity="0.044"/><stop offset="0.1816" stop-color="#fff" stop-opacity="0.192"/><stop offset="0.1890" stop-color="#fff" stop-opacity="0.233"/><stop offset="0.1964" stop-color="#fff" stop-opacity="0.255"/><stop offset="0.2076" stop-color="#fff" stop-opacity="0.261"/><stop offset="0.2224" stop-color="#fff" stop-opacity="0.251"/><stop offset="0.3002" stop-color="#fff" stop-opacity="0.247"/><stop offset="0.3076" stop-color="#fff" stop-opacity="0.229"/><stop offset="0.3150" stop-color="#fff" stop-opacity="0.197"/><stop offset="0.3373" stop-color="#fff" stop-opacity="0.038"/><stop offset="0.3447" stop-color="#fff" stop-opacity="0.010"/><stop offset="0.3521" stop-color="#fff" stop-opacity="0.001"/><stop offset="0.6523" stop-color="#fff" stop-opacity="0.002"/><stop offset="0.6597" stop-color="#fff" stop-opacity="0.012"/><stop offset="0.6672" stop-color="#fff" stop-opacity="0.044"/><stop offset="0.6857" stop-color="#fff" stop-opacity="0.192"/><stop offset="0.6931" stop-color="#fff" stop-opacity="0.233"/><stop offset="0.7005" stop-color="#fff" stop-opacity="0.255"/><stop offset="0.7116" stop-color="#fff" stop-opacity="0.261"/><stop offset="0.7265" stop-color="#fff" stop-opacity="0.251"/><stop offset="0.8043" stop-color="#fff" stop-opacity="0.247"/><stop offset="0.8154" stop-color="#fff" stop-opacity="0.216"/><stop offset="0.8228" stop-color="#fff" stop-opacity="0.172"/><stop offset="0.8414" stop-color="#fff" stop-opacity="0.038"/><stop offset="0.8525" stop-color="#fff" stop-opacity="0.004"/><stop offset="1.0000" stop-color="#fff" stop-opacity="0.000"/></linearGradient><linearGradient id="h19" gradientUnits="userSpaceOnUse" x1="134.8" y1="0" x2="944.2" y2="0"><stop offset="0.0000" stop-color="#fff" stop-opacity="0.000"/><stop offset="0.1594" stop-color="#fff" stop-opacity="0.006"/><stop offset="0.1668" stop-color="#fff" stop-opacity="0.031"/><stop offset="0.1705" stop-color="#fff" stop-opacity="0.053"/><stop offset="0.1853" stop-color="#fff" stop-opacity="0.172"/><stop offset="0.1927" stop-color="#fff" stop-opacity="0.217"/><stop offset="0.2001" stop-color="#fff" stop-opacity="0.238"/><stop offset="0.2113" stop-color="#fff" stop-opacity="0.247"/><stop offset="0.2224" stop-color="#fff" stop-opacity="0.239"/><stop offset="0.2965" stop-color="#fff" stop-opacity="0.234"/><stop offset="0.3039" stop-color="#fff" stop-opacity="0.214"/><stop offset="0.3113" stop-color="#fff" stop-opacity="0.180"/><stop offset="0.3262" stop-color="#fff" stop-opacity="0.070"/><stop offset="0.3336" stop-color="#fff" stop-opacity="0.025"/><stop offset="0.3410" stop-color="#fff" stop-opacity="0.005"/><stop offset="0.3484" stop-color="#fff" stop-opacity="0.000"/><stop offset="0.6597" stop-color="#fff" stop-opacity="0.002"/><stop offset="0.6709" stop-color="#fff" stop-opacity="0.031"/><stop offset="0.6783" stop-color="#fff" stop-opacity="0.080"/><stop offset="0.6894" stop-color="#fff" stop-opacity="0.172"/><stop offset="0.6968" stop-color="#fff" stop-opacity="0.217"/><stop offset="0.7042" stop-color="#fff" stop-opacity="0.238"/><stop offset="0.7153" stop-color="#fff" stop-opacity="0.247"/><stop offset="0.7265" stop-color="#fff" stop-opacity="0.239"/><stop offset="0.8006" stop-color="#fff" stop-opacity="0.234"/><stop offset="0.8080" stop-color="#fff" stop-opacity="0.214"/><stop offset="0.8154" stop-color="#fff" stop-opacity="0.180"/><stop offset="0.8302" stop-color="#fff" stop-opacity="0.070"/><stop offset="0.8377" stop-color="#fff" stop-opacity="0.025"/><stop offset="0.8488" stop-color="#fff" stop-opacity="0.002"/><stop offset="1.0000" stop-color="#fff" stop-opacity="0.000"/></linearGradient><linearGradient id="h20" gradientUnits="userSpaceOnUse" x1="134.8" y1="0" x2="944.2" y2="0"><stop offset="0.0000" stop-color="#fff" stop-opacity="0.000"/><stop offset="0.1668" stop-color="#fff" stop-opacity="0.003"/><stop offset="0.1742" stop-color="#fff" stop-opacity="0.021"/><stop offset="0.1779" stop-color="#fff" stop-opacity="0.040"/><stop offset="0.1964" stop-color="#fff" stop-opacity="0.178"/><stop offset="0.2076" stop-color="#fff" stop-opacity="0.214"/><stop offset="0.2150" stop-color="#fff" stop-opacity="0.219"/><stop offset="0.2743" stop-color="#fff" stop-opacity="0.214"/><stop offset="0.2928" stop-color="#fff" stop-opacity="0.204"/><stop offset="0.3039" stop-color="#fff" stop-opacity="0.162"/><stop offset="0.3225" stop-color="#fff" stop-opacity="0.033"/><stop offset="0.3299" stop-color="#fff" stop-opacity="0.007"/><stop offset="0.3373" stop-color="#fff" stop-opacity="0.001"/><stop offset="0.6672" stop-color="#fff" stop-opacity="0.001"/><stop offset="0.6746" stop-color="#fff" stop-opacity="0.009"/><stop offset="0.6820" stop-color="#fff" stop-opacity="0.040"/><stop offset="0.6968" stop-color="#fff" stop-opacity="0.155"/><stop offset="0.7042" stop-color="#fff" stop-opacity="0.194"/><stop offset="0.7116" stop-color="#fff" stop-opacity="0.214"/><stop offset="0.7191" stop-color="#fff" stop-opacity="0.219"/><stop offset="0.7784" stop-color="#fff" stop-opacity="0.214"/><stop offset="0.7969" stop-color="#fff" stop-opacity="0.204"/><stop offset="0.8080" stop-color="#fff" stop-opacity="0.162"/><stop offset="0.8265" stop-color="#fff" stop-opacity="0.033"/><stop offset="0.8377" stop-color="#fff" stop-opacity="0.002"/><stop offset="1.0000" stop-color="#fff" stop-opacity="0.000"/></linearGradient><pattern id="ctex" patternUnits="userSpaceOnUse" x="134.8" y="846" width="4" height="4.2"><rect x="0" y="0" width="1.3" height="4.2" fill="#fff" fill-opacity="0.6"/><rect x="1.3" y="0" width="2.7" height="1.0" fill="#fff" fill-opacity="0.25"/></pattern></defs>
<g filter="url(#cmap)"><rect x="134.8" y="846" width="809.4" height="617.7" fill="url(#cbg)"/><rect x="134.8" y="846" width="809.4" height="617.7" fill="url(#cvy)"/><rect x="134.8" y="846" width="809.4" height="617.7" fill="url(#halo337)"/><rect x="134.8" y="846" width="809.4" height="617.7" fill="url(#halo745)"/><rect x="134.8" y="846" width="809.4" height="617.7" fill="url(#glow337)"/><rect x="134.8" y="846" width="809.4" height="617.7" fill="url(#glow745)"/><rect x="134.8" y="1447.6" width="809.4" height="2.4" fill="#000" fill-opacity="0.10"/><rect x="134.8" y="1418.2" width="809.4" height="2.4" fill="#000" fill-opacity="0.10"/><rect x="134.8" y="1388.8" width="809.4" height="2.4" fill="#000" fill-opacity="0.10"/><rect x="134.8" y="1359.4" width="809.4" height="2.4" fill="#000" fill-opacity="0.10"/><rect x="134.8" y="1330" width="809.4" height="2.4" fill="#000" fill-opacity="0.10"/><rect x="134.8" y="1300.6" width="809.4" height="2.4" fill="#000" fill-opacity="0.10"/><rect x="134.8" y="1271.2" width="809.4" height="2.4" fill="#000" fill-opacity="0.10"/><rect x="134.8" y="1241.8" width="809.4" height="2.4" fill="#000" fill-opacity="0.10"/><rect x="134.8" y="1212.4" width="809.4" height="2.4" fill="#000" fill-opacity="0.10"/><rect x="134.8" y="1183" width="809.4" height="2.4" fill="#000" fill-opacity="0.10"/><rect x="134.8" y="857" width="809.4" height="1.8" fill="url(#cdk)"/><rect x="134.8" y="871.7" width="809.4" height="1.8" fill="url(#cdk)"/><rect x="134.8" y="886.4" width="809.4" height="1.8" fill="url(#cdk)"/><rect x="134.8" y="901.1" width="809.4" height="1.8" fill="url(#cdk)"/><rect x="134.8" y="915.8" width="809.4" height="1.8" fill="url(#cdk)"/><rect x="134.8" y="930.5" width="809.4" height="1.8" fill="url(#cdk)"/><rect x="134.8" y="945.2" width="809.4" height="1.8" fill="url(#cdk)"/><rect x="134.8" y="959.9" width="809.4" height="1.8" fill="url(#cdk)"/><rect x="134.8" y="974.6" width="809.4" height="1.8" fill="url(#cdk)"/><rect x="134.8" y="989.3" width="809.4" height="1.8" fill="url(#cdk)"/><rect x="134.8" y="1004" width="809.4" height="1.8" fill="url(#cdk)"/><rect x="134.8" y="1018.7" width="809.4" height="1.8" fill="url(#cdk)"/><rect x="134.8" y="1033.4" width="809.4" height="1.8" fill="url(#cdk)"/><rect x="134.8" y="1048.1" width="809.4" height="1.8" fill="url(#cdk)"/><rect x="134.8" y="1062.8" width="809.4" height="1.8" fill="url(#cdk)"/><rect x="134.8" y="1077.5" width="809.4" height="1.8" fill="url(#cdk)"/><rect x="134.8" y="1092.2" width="809.4" height="1.8" fill="url(#cdk)"/><rect x="134.8" y="1106.9" width="809.4" height="1.8" fill="url(#cdk)"/><rect x="134.8" y="1121.6" width="809.4" height="1.8" fill="url(#cdk)"/><rect x="134.8" y="1136.3" width="809.4" height="1.8" fill="url(#cdk)"/><rect x="134.8" y="1151" width="809.4" height="1.8" fill="url(#cdk)"/><rect x="134.8" y="1165.7" width="809.4" height="1.8" fill="url(#cdk)"/><rect x="134.8" y="1180.4" width="809.4" height="1.8" fill="url(#cdk)"/><rect x="134.8" y="1195.1" width="809.4" height="1.8" fill="url(#cdk)"/><rect x="134.8" y="1209.8" width="809.4" height="1.8" fill="url(#cdk)"/><rect x="134.8" y="1224.5" width="809.4" height="1.8" fill="url(#cdk)"/><rect x="134.8" y="1239.2" width="809.4" height="1.8" fill="url(#cdk)"/><rect x="134.8" y="1253.9" width="809.4" height="1.8" fill="url(#cdk)"/><rect x="134.8" y="1424.1" width="809.4" height="20" fill="url(#h1)" fill-opacity="0.26"/><rect x="134.8" y="1429.1" width="809.4" height="10" fill="url(#h1)" fill-opacity="0.5"/><rect x="134.8" y="1432.4" width="809.4" height="3.4" fill="url(#h1)"/><rect x="134.8" y="1394.7" width="809.4" height="20" fill="url(#h2)" fill-opacity="0.26"/><rect x="134.8" y="1399.7" width="809.4" height="10" fill="url(#h2)" fill-opacity="0.5"/><rect x="134.8" y="1403" width="809.4" height="3.4" fill="url(#h2)"/><rect x="134.8" y="1365.3" width="809.4" height="20" fill="url(#h3)" fill-opacity="0.26"/><rect x="134.8" y="1370.3" width="809.4" height="10" fill="url(#h3)" fill-opacity="0.5"/><rect x="134.8" y="1373.6" width="809.4" height="3.4" fill="url(#h3)"/><rect x="134.8" y="1339.4" width="809.4" height="13" fill="url(#h4)" fill-opacity="0.2"/><rect x="134.8" y="1342.4" width="809.4" height="7" fill="url(#h4)" fill-opacity="0.42"/><rect x="134.8" y="1344.2" width="809.4" height="3.4" fill="url(#h4)"/><rect x="134.8" y="1310" width="809.4" height="13" fill="url(#h5)" fill-opacity="0.2"/><rect x="134.8" y="1313" width="809.4" height="7" fill="url(#h5)" fill-opacity="0.42"/><rect x="134.8" y="1314.8" width="809.4" height="3.4" fill="url(#h5)"/><rect x="134.8" y="1280.6" width="809.4" height="13" fill="url(#h6)" fill-opacity="0.2"/><rect x="134.8" y="1283.6" width="809.4" height="7" fill="url(#h6)" fill-opacity="0.42"/><rect x="134.8" y="1285.4" width="809.4" height="3.4" fill="url(#h6)"/><rect x="134.8" y="1249.7" width="809.4" height="16" fill="url(#h7)" fill-opacity="0.2"/><rect x="134.8" y="1253.7" width="809.4" height="8" fill="url(#h7)" fill-opacity="0.42"/><rect x="134.8" y="1256.2" width="809.4" height="3" fill="url(#h7)"/><rect x="134.8" y="1220.3" width="809.4" height="16" fill="url(#h8)" fill-opacity="0.2"/><rect x="134.8" y="1224.3" width="809.4" height="8" fill="url(#h8)" fill-opacity="0.42"/><rect x="134.8" y="1226.8" width="809.4" height="3" fill="url(#h8)"/><rect x="134.8" y="1190.9" width="809.4" height="16" fill="url(#h9)" fill-opacity="0.2"/><rect x="134.8" y="1194.9" width="809.4" height="8" fill="url(#h9)" fill-opacity="0.42"/><rect x="134.8" y="1197.4" width="809.4" height="3" fill="url(#h9)"/><rect x="134.8" y="1161.5" width="809.4" height="16" fill="url(#h10)" fill-opacity="0.2"/><rect x="134.8" y="1165.5" width="809.4" height="8" fill="url(#h10)" fill-opacity="0.42"/><rect x="134.8" y="1168" width="809.4" height="3" fill="url(#h10)"/><rect x="134.8" y="1134.6" width="809.4" height="11" fill="url(#h11)" fill-opacity="0.16000000000000003"/><rect x="134.8" y="1137.1" width="809.4" height="6" fill="url(#h11)" fill-opacity="0.336"/><rect x="134.8" y="1138.7" width="809.4" height="2.8" fill="url(#h11)"/><rect x="134.8" y="1105.2" width="809.4" height="11" fill="url(#h12)" fill-opacity="0.16000000000000003"/><rect x="134.8" y="1107.7" width="809.4" height="6" fill="url(#h12)" fill-opacity="0.336"/><rect x="134.8" y="1109.3" width="809.4" height="2.8" fill="url(#h12)"/><rect x="134.8" y="1075.8" width="809.4" height="11" fill="url(#h13)" fill-opacity="0.16000000000000003"/><rect x="134.8" y="1078.3" width="809.4" height="6" fill="url(#h13)" fill-opacity="0.336"/><rect x="134.8" y="1079.9" width="809.4" height="2.8" fill="url(#h13)"/><rect x="134.8" y="1046.4" width="809.4" height="11" fill="url(#h14)" fill-opacity="0.16000000000000003"/><rect x="134.8" y="1048.9" width="809.4" height="6" fill="url(#h14)" fill-opacity="0.336"/><rect x="134.8" y="1050.5" width="809.4" height="2.8" fill="url(#h14)"/><rect x="134.8" y="1017" width="809.4" height="11" fill="url(#h15)" fill-opacity="0.16000000000000003"/><rect x="134.8" y="1019.5" width="809.4" height="6" fill="url(#h15)" fill-opacity="0.336"/><rect x="134.8" y="1021.1" width="809.4" height="2.8" fill="url(#h15)"/><rect x="134.8" y="987.6" width="809.4" height="11" fill="url(#h16)" fill-opacity="0.16000000000000003"/><rect x="134.8" y="990.1" width="809.4" height="6" fill="url(#h16)" fill-opacity="0.336"/><rect x="134.8" y="991.7" width="809.4" height="2.8" fill="url(#h16)"/><rect x="134.8" y="958.2" width="809.4" height="11" fill="url(#h17)" fill-opacity="0.16000000000000003"/><rect x="134.8" y="960.7" width="809.4" height="6" fill="url(#h17)" fill-opacity="0.336"/><rect x="134.8" y="962.3" width="809.4" height="2.8" fill="url(#h17)"/><rect x="134.8" y="928.8" width="809.4" height="11" fill="url(#h18)" fill-opacity="0.16000000000000003"/><rect x="134.8" y="931.3" width="809.4" height="6" fill="url(#h18)" fill-opacity="0.336"/><rect x="134.8" y="932.9" width="809.4" height="2.8" fill="url(#h18)"/><rect x="134.8" y="899.4" width="809.4" height="11" fill="url(#h19)" fill-opacity="0.16000000000000003"/><rect x="134.8" y="901.9" width="809.4" height="6" fill="url(#h19)" fill-opacity="0.336"/><rect x="134.8" y="903.5" width="809.4" height="2.8" fill="url(#h19)"/><rect x="134.8" y="870" width="809.4" height="11" fill="url(#h20)" fill-opacity="0.16000000000000003"/><rect x="134.8" y="872.5" width="809.4" height="6" fill="url(#h20)" fill-opacity="0.336"/><rect x="134.8" y="874.1" width="809.4" height="2.8" fill="url(#h20)"/></g>
<rect x="134.8" y="846" width="809.4" height="617.7" fill="url(#ctex)"/>
<line x1="328.6" y1="842.5" x2="328.6" y2="1468" stroke="#ff0000" stroke-width="7" stroke-dasharray="26.5 23"/>
<line x1="535" y1="838" x2="535" y2="1472" stroke="#0000ff" stroke-width="7" stroke-dasharray="20.7 7.8"/>
<text x="137.39" y="898.02" font-family="'Liberation Serif', 'Times New Roman', serif" font-size="64" fill="#000">(c)</text>
<text x="330.4" y="910.84" font-family="'Liberation Sans', Arial, sans-serif" font-size="54" fill="#ff0000">(i)</text>
<text x="543" y="1152.84" font-family="'Liberation Sans', Arial, sans-serif" font-size="54" fill="#0000ff">(ii)</text>
<text x="102.62" y="1475.38" font-family="'Liberation Sans', Arial, sans-serif" font-size="34.5" fill="#000">0</text>
<text x="64.25" y="1383.17" font-family="'Liberation Sans', Arial, sans-serif" font-size="34.5" fill="#000">100</text>
<text x="64.25" y="1290.97" font-family="'Liberation Sans', Arial, sans-serif" font-size="34.5" fill="#000">200</text>
<text x="64.25" y="1198.78" font-family="'Liberation Sans', Arial, sans-serif" font-size="34.5" fill="#000">300</text>
<text x="64.25" y="1106.58" font-family="'Liberation Sans', Arial, sans-serif" font-size="34.5" fill="#000">400</text>
<text x="64.25" y="1014.38" font-family="'Liberation Sans', Arial, sans-serif" font-size="34.5" fill="#000">500</text>
<text x="64.25" y="922.17" font-family="'Liberation Sans', Arial, sans-serif" font-size="34.5" fill="#000">600</text>
<text x="109.87" y="1511.42" font-family="'Liberation Sans', Arial, sans-serif" font-size="34.5" fill="#000">-40</text>
<text x="317.51" y="1511.42" font-family="'Liberation Sans', Arial, sans-serif" font-size="34.5" fill="#000">0</text>
<text x="515.31" y="1511.42" font-family="'Liberation Sans', Arial, sans-serif" font-size="34.5" fill="#000">40</text>
<text x="721.11" y="1511.42" font-family="'Liberation Sans', Arial, sans-serif" font-size="34.5" fill="#000">0</text>
<text x="917.47" y="1511.42" font-family="'Liberation Sans', Arial, sans-serif" font-size="34.5" fill="#000">-40</text>
<text x="376.79" y="1561.24" font-family="'Liberation Sans', Arial, sans-serif" font-size="38.45" fill="#1a1a1a">magnetic field [mT]</text>
<text x="48.1" y="1288.26" font-family="'Liberation Sans', Arial, sans-serif" font-size="38.6" fill="#1a1a1a" transform="rotate(-90 48.1 1288.26)">frequency [kHz]</text>
<line x1="1287.68" y1="844.5" x2="1287.68" y2="1463.8" stroke="#dfdfdf" stroke-width="1.3"/>
<line x1="1409.76" y1="844.5" x2="1409.76" y2="1463.8" stroke="#dfdfdf" stroke-width="1.3"/>
<line x1="1531.84" y1="844.5" x2="1531.84" y2="1463.8" stroke="#dfdfdf" stroke-width="1.3"/>
<line x1="1653.92" y1="844.5" x2="1653.92" y2="1463.8" stroke="#dfdfdf" stroke-width="1.3"/>
<line x1="1776" y1="844.5" x2="1776" y2="1463.8" stroke="#dfdfdf" stroke-width="1.3"/>
<line x1="1898.08" y1="844.5" x2="1898.08" y2="1463.8" stroke="#dfdfdf" stroke-width="1.3"/>
<line x1="1165.6" y1="1326.69" x2="1979.4" y2="1326.69" stroke="#dfdfdf" stroke-width="1.3"/>
<line x1="1165.6" y1="1188.85" x2="1979.4" y2="1188.85" stroke="#dfdfdf" stroke-width="1.3"/>
<line x1="1165.6" y1="1051.01" x2="1979.4" y2="1051.01" stroke="#dfdfdf" stroke-width="1.3"/>
<line x1="1165.6" y1="913.17" x2="1979.4" y2="913.17" stroke="#dfdfdf" stroke-width="1.3"/>
<path d="M1165.6 1193.9 L1167.4 1276.4 L1171.6 1220.3 L1175.7 1260.7 L1179.8 1198.8 L1183.9 1289.6 L1187.2 1184 L1193 1174.9 L1195.5 1170 L1203.2 993.1 L1211.2 1170 L1217.8 1178.2 L1222.7 1296.2 L1226.8 1186.5 L1231 1212 L1234.3 1200.5 L1242.2 1035.8 L1249.1 1207.9 L1257.4 1213.7 L1261.5 1325.9 L1265.6 1221.9 L1269.8 1262.4 L1273.9 1228.5 L1281.3 1084 L1287.9 1257.4 L1293.7 1247.5 L1300.3 1305.3 L1304.4 1259.9 L1308.5 1312.7 L1313.5 1253.3 L1319.8 1136.9 L1323.2 1261.1 L1327.1 1302.4 L1331.1 1277 L1335.1 1319.8 L1339.8 1304 L1343.8 1304.8 L1347 1325.4 L1351 1291.3 L1354.9 1289.7 L1358.6 1191.3 L1362.9 1292.9 L1366 1316.7 L1370.8 1306.3 L1374 1334.1 L1377.9 1315.1 L1381.9 1377.8 L1385.1 1322.2 L1389 1319.8 L1393 1334.1 L1397.5 1246 L1401 1356.3 L1405.7 1319.8 L1412.1 1351.6 L1416.8 1332.5 L1420.8 1373.8 L1424.8 1320.6 L1431.1 1356.3 L1436.7 1300.8 L1440.6 1404.5 L1444.6 1323.8 L1448.6 1354.8 L1454.9 1363.5 L1459.1 1419.6 L1463.7 1327.8 L1470.8 1356.3 L1478.7 1377 L1483.5 1334.9 L1493.8 1374.6 L1502.5 1343.7 L1513.7 1369.8 L1520.8 1353.2 L1530.3 1365.9 L1536.7 1350 L1540 1360.7 L1547.2 1379.8 L1556.1 1347.5 L1560.9 1375 L1567.5 1413.3 L1575.3 1348.7 L1579.5 1371.4 L1587.2 1414.5 L1595 1352.3 L1601 1373.8 L1610.6 1397.7 L1614.7 1357.1 L1618.9 1374.4 L1623.7 1371.4 L1629.7 1388.2 L1634.5 1365.4 L1639.3 1376.2 L1645.8 1370.2 L1649.4 1377.4 L1654.8 1374.4 L1660.8 1380.4 L1666.2 1368.4 L1672.7 1387 L1676.3 1381 L1680.5 1390.6 L1687.1 1369 L1691.9 1402.5 L1696.7 1376.2 L1700.2 1396.5 L1707.4 1370.2 L1711.6 1414.5 L1715.8 1375 L1719.4 1391.7 L1727.1 1372.6 L1731.3 1410.9 L1735.5 1373.8 L1742.1 1396.5 L1746.3 1377.4 L1750.5 1407.3 L1755.2 1375 L1761.2 1410.9 L1766 1387 L1769.6 1398.9 L1775.5 1374.9 L1782.1 1406.7 L1787.5 1392.5 L1796.3 1376 L1802.9 1401.2 L1816 1379.3 L1823.7 1410 L1829.2 1382.6 L1835.8 1388.1 L1842.9 1417.7 L1847.3 1379.3 L1856.6 1392.5 L1862.6 1424.3 L1867 1377.1 L1881.8 1425.4 L1886.2 1378.2 L1893.9 1413.3 L1901.5 1415.5 L1905.9 1380.4 L1913 1434.1 L1918 1403.4 L1921.3 1401.2 L1926.7 1383.7 L1933.3 1457.2 L1937.7 1401.2 L1947.6 1387 L1952.5 1447.3 L1956.3 1398 L1965.1 1391.4 L1971.7 1435.2 L1979.4 1385.9" fill="none" stroke="#0000ff" stroke-width="2.7" stroke-linejoin="round" stroke-dasharray="8.5 3.2 2.5 3.2"/>
<path d="M1165.6 1068.8 L1176.2 1108.1 L1180.1 1068.6 L1184 1130.1 L1187.2 1051.7 L1192.4 1050.4 L1195.6 1042 L1203.2 867.4 L1211.2 1043.2 L1218.6 1052.3 L1222.8 1137.2 L1226.7 1067.3 L1230.6 1154.1 L1234.5 1075.7 L1238.4 1058.9 L1242 975.5 L1249.4 1119.1 L1255.9 1092.5 L1258.4 1093.8 L1262.3 1127.5 L1264.9 1072.5 L1269.5 1073.1 L1274 1061.5 L1281 889.7 L1287.6 1064.7 L1296.7 1074.4 L1300.5 1142.4 L1303.8 1087.4 L1308.3 1139.2 L1315.4 1064.7 L1319.8 979.7 L1327.1 1112 L1331.6 1104.2 L1338.8 1136.6 L1342.6 1096.4 L1347.2 1096.4 L1351.7 1084.8 L1358.9 915.3 L1366 1088.7 L1373.7 1099 L1378.3 1154.7 L1381.5 1110.7 L1386 1151.5 L1393.2 1071.8 L1397.2 994.5 L1404.1 1125.5 L1408.1 1122.4 L1413.2 1152.9 L1417.3 1152.9 L1420.3 1122.4 L1424.4 1122.4 L1428.4 1111.3 L1436.6 942.7 L1443.7 1114.3 L1451.8 1126.5 L1455.9 1173.2 L1459.9 1135.6 L1464 1170.2 L1471.1 1095 L1475.2 1014.8 L1483.3 1144.8 L1487.3 1143.8 L1491.4 1175.2 L1494.5 1175.2 L1498.5 1148.8 L1502.6 1149.9 L1505.6 1137.7 L1513.8 971.1 L1520.9 1140.7 L1530 1155.9 L1533 1192.5 L1537.1 1161 L1541.2 1193.5 L1548.3 1123.4 L1552.3 1038.1 L1560.5 1168.1 L1564.5 1165.1 L1568.6 1202.7 L1574.7 1176.3 L1579.8 1177.3 L1583.8 1162 L1592 1001.6 L1599.1 1168.1 L1604.1 1173.2 L1611.3 1204.7 L1615.3 1187.4 L1618.4 1214.8 L1625.5 1143.8 L1630.2 1063.5 L1637.7 1194.5 L1641.7 1189.5 L1645.8 1220 L1652.2 1203.2 L1657.4 1202.3 L1661.8 1184.9 L1669.1 1034 L1676.6 1192.7 L1681 1198.8 L1688 1220.6 L1691.4 1215.4 L1695.8 1227.6 L1702.8 1172.7 L1707.7 1090.7 L1715.9 1220.6 L1719.4 1213.6 L1723.7 1230.2 L1730.7 1225 L1735 1223.2 L1740.3 1211 L1746.4 1066.3 L1754.2 1219.7 L1761.2 1226.7 L1765.7 1239.4 L1769.2 1231.9 L1773.8 1240.5 L1781.8 1198.1 L1785.3 1119.5 L1792.7 1240.5 L1796.7 1234.8 L1804.7 1246.3 L1808.7 1238.2 L1812.7 1244.5 L1816.7 1232.5 L1824.3 1099.4 L1831.1 1243.4 L1835.6 1240 L1843.1 1250.8 L1847.7 1243.4 L1851.7 1255.4 L1859.1 1225.6 L1863.2 1148.2 L1870 1255.4 L1874.6 1245.1 L1878.6 1256 L1886.1 1250.8 L1890.6 1260 L1898.7 1230.2 L1902.1 1132.5 L1909 1258.9 L1913.6 1250.8 L1917.6 1262.9 L1921.6 1253.7 L1927.9 1260 L1931.9 1254.3 L1937.1 1249.7 L1940.8 1177.5 L1944.5 1244 L1947.9 1257.7 L1952.5 1258.3 L1956 1265.7 L1960 1257.7 L1964 1266.9 L1967.4 1260.6 L1975.4 1258.9 L1978.9 1166" fill="none" stroke="#ff0000" stroke-width="2.8" stroke-linejoin="round"/>
<line x1="1287.68" y1="1463.8" x2="1287.68" y2="1455.8" stroke="#2b2b2b" stroke-width="2"/>
<line x1="1287.68" y1="844.5" x2="1287.68" y2="852.5" stroke="#2b2b2b" stroke-width="2"/>
<line x1="1409.76" y1="1463.8" x2="1409.76" y2="1455.8" stroke="#2b2b2b" stroke-width="2"/>
<line x1="1409.76" y1="844.5" x2="1409.76" y2="852.5" stroke="#2b2b2b" stroke-width="2"/>
<line x1="1531.84" y1="1463.8" x2="1531.84" y2="1455.8" stroke="#2b2b2b" stroke-width="2"/>
<line x1="1531.84" y1="844.5" x2="1531.84" y2="852.5" stroke="#2b2b2b" stroke-width="2"/>
<line x1="1653.92" y1="1463.8" x2="1653.92" y2="1455.8" stroke="#2b2b2b" stroke-width="2"/>
<line x1="1653.92" y1="844.5" x2="1653.92" y2="852.5" stroke="#2b2b2b" stroke-width="2"/>
<line x1="1776" y1="1463.8" x2="1776" y2="1455.8" stroke="#2b2b2b" stroke-width="2"/>
<line x1="1776" y1="844.5" x2="1776" y2="852.5" stroke="#2b2b2b" stroke-width="2"/>
<line x1="1898.08" y1="1463.8" x2="1898.08" y2="1455.8" stroke="#2b2b2b" stroke-width="2"/>
<line x1="1898.08" y1="844.5" x2="1898.08" y2="852.5" stroke="#2b2b2b" stroke-width="2"/>
<line x1="1165.6" y1="1326.69" x2="1173.6" y2="1326.69" stroke="#2b2b2b" stroke-width="2"/>
<line x1="1979.4" y1="1326.69" x2="1971.4" y2="1326.69" stroke="#2b2b2b" stroke-width="2"/>
<line x1="1165.6" y1="1188.85" x2="1173.6" y2="1188.85" stroke="#2b2b2b" stroke-width="2"/>
<line x1="1979.4" y1="1188.85" x2="1971.4" y2="1188.85" stroke="#2b2b2b" stroke-width="2"/>
<line x1="1165.6" y1="1051.01" x2="1173.6" y2="1051.01" stroke="#2b2b2b" stroke-width="2"/>
<line x1="1979.4" y1="1051.01" x2="1971.4" y2="1051.01" stroke="#2b2b2b" stroke-width="2"/>
<line x1="1165.6" y1="913.17" x2="1173.6" y2="913.17" stroke="#2b2b2b" stroke-width="2"/>
<line x1="1979.4" y1="913.17" x2="1971.4" y2="913.17" stroke="#2b2b2b" stroke-width="2"/>
<rect x="1165.6" y="844.5" width="813.8" height="619.3" fill="none" stroke="#2b2b2b" stroke-width="2"/>
<text x="1155.52" y="1513.75" font-family="'Liberation Sans', Arial, sans-serif" font-size="36.2" fill="#262626">0</text>
<text x="1257.44" y="1513.75" font-family="'Liberation Sans', Arial, sans-serif" font-size="36.2" fill="#262626">100</text>
<text x="1379.52" y="1513.75" font-family="'Liberation Sans', Arial, sans-serif" font-size="36.2" fill="#262626">200</text>
<text x="1501.6" y="1513.75" font-family="'Liberation Sans', Arial, sans-serif" font-size="36.2" fill="#262626">300</text>
<text x="1623.68" y="1513.75" font-family="'Liberation Sans', Arial, sans-serif" font-size="36.2" fill="#262626">400</text>
<text x="1745.76" y="1513.75" font-family="'Liberation Sans', Arial, sans-serif" font-size="36.2" fill="#262626">500</text>
<text x="1867.84" y="1513.75" font-family="'Liberation Sans', Arial, sans-serif" font-size="36.2" fill="#262626">600</text>
<text x="1111.89" y="925.61" font-family="'Liberation Sans', Arial, sans-serif" font-size="36.2" fill="#262626">40</text>
<text x="1111.89" y="1063.45" font-family="'Liberation Sans', Arial, sans-serif" font-size="36.2" fill="#262626">20</text>
<text x="1132.05" y="1201.29" font-family="'Liberation Sans', Arial, sans-serif" font-size="36.2" fill="#262626">0</text>
<text x="1099.82" y="1340.43" font-family="'Liberation Sans', Arial, sans-serif" font-size="36.2" fill="#262626">-20</text>
<text x="1099.82" y="1478.27" font-family="'Liberation Sans', Arial, sans-serif" font-size="36.2" fill="#262626">-40</text>
<text x="1437.85" y="1562.91" font-family="'Liberation Sans', Arial, sans-serif" font-size="38.7" fill="#262626">frequency [kHz]</text>
<text x="1085" y="1319.21" font-family="'Liberation Sans', Arial, sans-serif" font-size="38.6" fill="#262626" transform="rotate(-90 1085 1319.21)">amplitude, dB [a.u.]</text>
<text x="1175.12" y="906.38" font-family="'Liberation Serif', 'Times New Roman', serif" font-size="64" fill="#000">(d)</text>
<rect x="1664.6" y="864.4" width="293" height="86.6" fill="#fff" stroke="#8c8c8c" stroke-width="2"/>
<line x1="1670.3" y1="887.8" x2="1746.4" y2="887.8" stroke="#f22" stroke-width="3.2"/>
<line x1="1670.3" y1="927.8" x2="1746.4" y2="927.8" stroke="#0000ff" stroke-width="3" stroke-dasharray="10 2.5 3.5 3"/>
<text x="1751.6" y="900.1" font-family="'Liberation Sans', Arial, sans-serif" font-size="31.7" fill="#000">(i) 0 mT bias</text>
<text x="1751.6" y="941.3" font-family="'Liberation Sans', Arial, sans-serif" font-size="31.7" fill="#000">(ii) 40 mT bias</text>
</svg>
</body></html>
